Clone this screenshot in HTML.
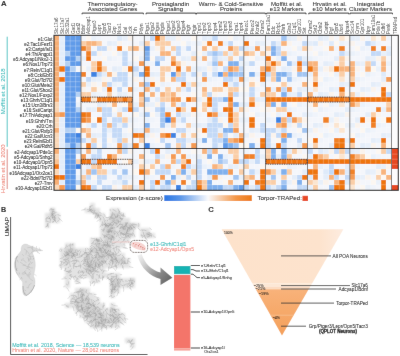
<!DOCTYPE html><html><head><meta charset="utf-8"><style>html,body{margin:0;padding:0;background:#fff;width:400px;height:356px;overflow:hidden}svg{display:block}text{font-family:"Liberation Sans",sans-serif;fill:#1c1c1c;stroke:#1c1c1c;stroke-width:0.06px}</style></head><body>
<svg width="400" height="356" viewBox="0 0 400 356" xmlns="http://www.w3.org/2000/svg" style="will-change:transform">
<defs><linearGradient id="leg" x1="0" x2="1" y1="0" y2="0"><stop offset="0" stop-color="rgb(42,118,228)"/><stop offset="0.18" stop-color="rgb(90,150,232)"/><stop offset="0.5" stop-color="rgb(250,250,252)"/><stop offset="0.82" stop-color="rgb(244,150,70)"/><stop offset="1" stop-color="rgb(238,122,22)"/></linearGradient><linearGradient id="arr" gradientUnits="userSpaceOnUse" x1="138" y1="254" x2="168" y2="280"><stop offset="0" stop-color="#f6f6f6"/><stop offset="0.3" stop-color="#d0d0d0"/><stop offset="0.7" stop-color="#8c8c8c"/><stop offset="1" stop-color="#6c6c6c"/></linearGradient><linearGradient id="tri" x1="0" x2="0" y1="0" y2="1"><stop offset="0" stop-color="#fce3cc"/><stop offset="1" stop-color="#fad7b8"/></linearGradient><filter id="ublur" x="-10%" y="-10%" width="120%" height="120%"><feGaussianBlur stdDeviation="1.1"/></filter><filter id="ublur2" x="-10%" y="-10%" width="120%" height="120%"><feGaussianBlur stdDeviation="0.4"/></filter><filter id="gblur" x="0" y="0" width="400" height="356" filterUnits="userSpaceOnUse"><feConvolveMatrix order="3" kernelMatrix="0.005 0.045 0.005 0.045 0.8 0.045 0.005 0.045 0.005" edgeMode="duplicate" preserveAlpha="true"/></filter></defs>
<g filter="url(#gblur)"><rect width="400" height="356" fill="#fff"/>
<text x="0.9" y="6.1" font-size="7.8" font-weight="bold" style="fill:#111;stroke:#111">A</text>
<text x="112.6" y="5.6" font-size="6.1" text-anchor="middle">Thermoregulatory-</text>
<text x="112.6" y="11.0" font-size="6.1" text-anchor="middle">Associated Genes</text>
<path d="M82.1 14.3 V13.1 H143.4 V14.3" fill="none" stroke="#111" stroke-width="0.85"/>
<text x="170.6" y="5.6" font-size="6.1" text-anchor="middle">Prostaglandin</text>
<text x="170.6" y="11.0" font-size="6.1" text-anchor="middle">Signaling</text>
<path d="M146.1 14.3 V13.1 H195.7 V14.3" fill="none" stroke="#111" stroke-width="0.85"/>
<text x="231.1" y="5.6" font-size="6.1" text-anchor="middle">Warm- &amp; Cold-Sensitive</text>
<text x="231.1" y="11.0" font-size="6.1" text-anchor="middle">Proteins</text>
<path d="M196.5 14.3 V13.1 H265.4 V14.3" fill="none" stroke="#111" stroke-width="0.85"/>
<text x="286.7" y="5.6" font-size="6.1" text-anchor="middle">Moffitt et al.</text>
<text x="286.7" y="11.0" font-size="6.1" text-anchor="middle">e13 Markers</text>
<path d="M266.6 14.3 V13.1 H306.0 V14.3" fill="none" stroke="#111" stroke-width="0.85"/>
<text x="329.5" y="5.6" font-size="6.1" text-anchor="middle">Hrvatin et al.</text>
<text x="329.5" y="11.0" font-size="6.1" text-anchor="middle">e10 Markers</text>
<path d="M308.8 14.3 V13.1 H348.8 V14.3" fill="none" stroke="#111" stroke-width="0.85"/>
<text x="370.5" y="5.6" font-size="6.1" text-anchor="middle">Integrated</text>
<text x="370.5" y="11.0" font-size="6.1" text-anchor="middle">Cluster Markers</text>
<path d="M350.0 14.3 V13.1 H392.5 V14.3" fill="none" stroke="#111" stroke-width="0.85"/>
<text transform="translate(58.30 34.0) rotate(-90)" font-size="4.6" style="fill:#3c3c3c;stroke:none">Slc17a6</text>
<text transform="translate(63.70 34.0) rotate(-90)" font-size="4.6" style="fill:#3c3c3c;stroke:none">Slc17a7</text>
<text transform="translate(69.10 34.0) rotate(-90)" font-size="4.6" style="fill:#3c3c3c;stroke:none">Slc32a1</text>
<text transform="translate(74.50 34.0) rotate(-90)" font-size="4.6" style="fill:#3c3c3c;stroke:none">Gad1</text>
<text transform="translate(79.90 34.0) rotate(-90)" font-size="4.6" style="fill:#3c3c3c;stroke:none">Gad2</text>
<text transform="translate(85.18 34.0) rotate(-90)" font-size="4.6" style="fill:#3c3c3c;stroke:none">Bdnf</text>
<text transform="translate(90.35 34.0) rotate(-90)" font-size="4.6" style="fill:#3c3c3c;stroke:none">Adcyap1</text>
<text transform="translate(95.52 34.0) rotate(-90)" font-size="4.6" style="fill:#3c3c3c;stroke:none">Ptger3</text>
<text transform="translate(100.69 34.0) rotate(-90)" font-size="4.6" style="fill:#3c3c3c;stroke:none">Lepr</text>
<text transform="translate(105.86 34.0) rotate(-90)" font-size="4.6" style="fill:#3c3c3c;stroke:none">Opn5</text>
<text transform="translate(111.03 34.0) rotate(-90)" font-size="4.6" style="fill:#3c3c3c;stroke:none">Tacr3</text>
<text transform="translate(116.20 34.0) rotate(-90)" font-size="4.6" style="fill:#3c3c3c;stroke:none">Grp</text>
<text transform="translate(121.37 34.0) rotate(-90)" font-size="4.6" style="fill:#3c3c3c;stroke:none">Nos1</text>
<text transform="translate(126.54 34.0) rotate(-90)" font-size="4.6" style="fill:#3c3c3c;stroke:none">Gal</text>
<text transform="translate(131.71 34.0) rotate(-90)" font-size="4.6" style="fill:#3c3c3c;stroke:none">Cck</text>
<text transform="translate(137.22 34.0) rotate(-90)" font-size="4.6" style="fill:#3c3c3c;stroke:none">Trh</text>
<text transform="translate(143.07 34.0) rotate(-90)" font-size="4.6" style="fill:#3c3c3c;stroke:none">Pdyn</text>
<text transform="translate(148.61 34.0) rotate(-90)" font-size="4.6" style="fill:#3c3c3c;stroke:none">Ptgs1</text>
<text transform="translate(153.84 34.0) rotate(-90)" font-size="4.6" style="fill:#3c3c3c;stroke:none">Ptgs2</text>
<text transform="translate(159.06 34.0) rotate(-90)" font-size="4.6" style="fill:#3c3c3c;stroke:none">Ptges</text>
<text transform="translate(164.29 34.0) rotate(-90)" font-size="4.6" style="fill:#3c3c3c;stroke:none">Ptgds</text>
<text transform="translate(169.51 34.0) rotate(-90)" font-size="4.6" style="fill:#3c3c3c;stroke:none">Ptger1</text>
<text transform="translate(174.74 34.0) rotate(-90)" font-size="4.6" style="fill:#3c3c3c;stroke:none">Ptger2</text>
<text transform="translate(179.96 34.0) rotate(-90)" font-size="4.6" style="fill:#3c3c3c;stroke:none">Ptger3</text>
<text transform="translate(185.19 34.0) rotate(-90)" font-size="4.6" style="fill:#3c3c3c;stroke:none">Ptger4</text>
<text transform="translate(190.41 34.0) rotate(-90)" font-size="4.6" style="fill:#3c3c3c;stroke:none">Ptgfr</text>
<text transform="translate(195.64 34.0) rotate(-90)" font-size="4.6" style="fill:#3c3c3c;stroke:none">Ptgir</text>
<text transform="translate(200.87 34.0) rotate(-90)" font-size="4.6" style="fill:#3c3c3c;stroke:none">Trpv1</text>
<text transform="translate(206.11 34.0) rotate(-90)" font-size="4.6" style="fill:#3c3c3c;stroke:none">Trpv2</text>
<text transform="translate(211.35 34.0) rotate(-90)" font-size="4.6" style="fill:#3c3c3c;stroke:none">Trpv3</text>
<text transform="translate(216.59 34.0) rotate(-90)" font-size="4.6" style="fill:#3c3c3c;stroke:none">Trpv4</text>
<text transform="translate(221.83 34.0) rotate(-90)" font-size="4.6" style="fill:#3c3c3c;stroke:none">Trpm2</text>
<text transform="translate(227.06 34.0) rotate(-90)" font-size="4.6" style="fill:#3c3c3c;stroke:none">Trpm3</text>
<text transform="translate(232.30 34.0) rotate(-90)" font-size="4.6" style="fill:#3c3c3c;stroke:none">Trpm8</text>
<text transform="translate(237.54 34.0) rotate(-90)" font-size="4.6" style="fill:#3c3c3c;stroke:none">Trpa1</text>
<text transform="translate(242.78 34.0) rotate(-90)" font-size="4.6" style="fill:#3c3c3c;stroke:none">Trpc4</text>
<text transform="translate(248.11 34.0) rotate(-90)" font-size="4.6" style="fill:#3c3c3c;stroke:none">Piezo1</text>
<text transform="translate(253.54 34.0) rotate(-90)" font-size="4.6" style="fill:#3c3c3c;stroke:none">Piezo2</text>
<text transform="translate(258.96 34.0) rotate(-90)" font-size="4.6" style="fill:#3c3c3c;stroke:none">Kcnk2</text>
<text transform="translate(264.39 34.0) rotate(-90)" font-size="4.6" style="fill:#3c3c3c;stroke:none">Chrm2</text>
<text transform="translate(269.73 34.0) rotate(-90)" font-size="4.6" style="fill:#3c3c3c;stroke:none">Fam19a1</text>
<text transform="translate(274.98 34.0) rotate(-90)" font-size="4.6" style="fill:#3c3c3c;stroke:none">Ddc</text>
<text transform="translate(280.23 34.0) rotate(-90)" font-size="4.6" style="fill:#3c3c3c;stroke:none">Rxfp1</text>
<text transform="translate(285.48 34.0) rotate(-90)" font-size="4.6" style="fill:#3c3c3c;stroke:none">Ghrh</text>
<text transform="translate(290.73 34.0) rotate(-90)" font-size="4.6" style="fill:#3c3c3c;stroke:none">Glra3</text>
<text transform="translate(295.98 34.0) rotate(-90)" font-size="4.6" style="fill:#3c3c3c;stroke:none">C1ql1</text>
<text transform="translate(301.23 34.0) rotate(-90)" font-size="4.6" style="fill:#3c3c3c;stroke:none">Gpr101</text>
<text transform="translate(306.48 34.0) rotate(-90)" font-size="4.6" style="fill:#3c3c3c;stroke:none">Sst</text>
<text transform="translate(311.74 34.0) rotate(-90)" font-size="4.6" style="fill:#3c3c3c;stroke:none">Chrm2</text>
<text transform="translate(317.03 34.0) rotate(-90)" font-size="4.6" style="fill:#3c3c3c;stroke:none">Syt2</text>
<text transform="translate(322.32 34.0) rotate(-90)" font-size="4.6" style="fill:#3c3c3c;stroke:none">Cbln2</text>
<text transform="translate(327.61 34.0) rotate(-90)" font-size="4.6" style="fill:#3c3c3c;stroke:none">Cartpt</text>
<text transform="translate(332.89 34.0) rotate(-90)" font-size="4.6" style="fill:#3c3c3c;stroke:none">Pgf</text>
<text transform="translate(338.18 34.0) rotate(-90)" font-size="4.6" style="fill:#3c3c3c;stroke:none">Opn5</text>
<text transform="translate(343.47 34.0) rotate(-90)" font-size="4.6" style="fill:#3c3c3c;stroke:none">Lhx6</text>
<text transform="translate(348.76 34.0) rotate(-90)" font-size="4.6" style="fill:#3c3c3c;stroke:none">Npas4</text>
<text transform="translate(354.01 34.0) rotate(-90)" font-size="4.6" style="fill:#3c3c3c;stroke:none">Sox14</text>
<text transform="translate(359.22 34.0) rotate(-90)" font-size="4.6" style="fill:#3c3c3c;stroke:none">Crym</text>
<text transform="translate(364.43 34.0) rotate(-90)" font-size="4.6" style="fill:#3c3c3c;stroke:none">Gpr101</text>
<text transform="translate(369.64 34.0) rotate(-90)" font-size="4.6" style="fill:#3c3c3c;stroke:none">Npy</text>
<text transform="translate(374.86 34.0) rotate(-90)" font-size="4.6" style="fill:#3c3c3c;stroke:none">Fam19a1</text>
<text transform="translate(380.07 34.0) rotate(-90)" font-size="4.6" style="fill:#3c3c3c;stroke:none">Pde7b</text>
<text transform="translate(385.28 34.0) rotate(-90)" font-size="4.6" style="fill:#3c3c3c;stroke:none">Cdh6</text>
<text transform="translate(390.49 34.0) rotate(-90)" font-size="4.6" style="fill:#3c3c3c;stroke:none">Penk</text>
<text transform="translate(396.50 34.0) rotate(-90)" font-size="4.6" style="fill:#3c3c3c;stroke:none">TRAPed</text>
<text x="52.6" y="40.95" font-size="4.5" text-anchor="end">e1:Glut</text>
<text x="52.6" y="46.05" font-size="4.5" text-anchor="end">e2:Tac1/Fezf1</text>
<text x="52.6" y="51.15" font-size="4.5" text-anchor="end">e3:Cartpt/Isl1</text>
<text x="52.6" y="56.25" font-size="4.5" text-anchor="end">e4:Th/Angpt1</text>
<text x="52.6" y="61.35" font-size="4.5" text-anchor="end">e5:Adcyap1/Nkx2-1</text>
<text x="52.6" y="66.45" font-size="4.5" text-anchor="end">e6:Nos1/Trp73</text>
<text x="52.6" y="71.55" font-size="4.5" text-anchor="end">e7:Reln/C1ql1</text>
<text x="52.6" y="76.65" font-size="4.5" text-anchor="end">e8:Cck/Ebf3</text>
<text x="52.6" y="81.75" font-size="4.5" text-anchor="end">e9:Glut/Tcf7l2</text>
<text x="52.6" y="86.85" font-size="4.5" text-anchor="end">e10:Glut/Meis2</text>
<text x="52.6" y="91.95" font-size="4.5" text-anchor="end">e11:Glut/Shox2</text>
<text x="52.6" y="97.05" font-size="4.5" text-anchor="end">e12:Nos1/Foxp2</text>
<text x="52.6" y="102.15" font-size="4.5" text-anchor="end">e13:Ghrh/C1ql1</text>
<text x="52.6" y="107.25" font-size="4.5" text-anchor="end">e15:Ucn3/Brs3</text>
<text x="52.6" y="112.35" font-size="4.5" text-anchor="end">e16:Sst/Cartpt</text>
<text x="52.6" y="117.45" font-size="4.5" text-anchor="end">e17:Th/Adcyap1</text>
<text x="52.6" y="122.55" font-size="4.5" text-anchor="end">e19:Ghrh/Tm</text>
<text x="52.6" y="127.65" font-size="4.5" text-anchor="end">e20:Crh</text>
<text x="52.6" y="132.75" font-size="4.5" text-anchor="end">e21:Glut/Rxfp3</text>
<text x="52.6" y="137.85" font-size="4.5" text-anchor="end">e22:Gal/Ucn3</text>
<text x="52.6" y="142.95" font-size="4.5" text-anchor="end">e23:Reln/Ebf1</text>
<text x="52.6" y="148.05" font-size="4.5" text-anchor="end">e24:Gal/Rdh5</text>
<text x="52.6" y="154.15" font-size="4.5" text-anchor="end">e2-Adcyap1/Pde1c</text>
<text x="52.6" y="159.25" font-size="4.5" text-anchor="end">e5-Adcyap1/Snhg2</text>
<text x="52.6" y="164.35" font-size="4.5" text-anchor="end">e10-Adcyap1/Opn5</text>
<text x="52.6" y="169.45" font-size="4.5" text-anchor="end">e11-Adcyap1/Trp73</text>
<text x="52.6" y="174.55" font-size="4.5" text-anchor="end">e16Adcyap1/Otx2os1</text>
<text x="52.6" y="179.65" font-size="4.5" text-anchor="end">e22-Bdnf/Tcf7l2</text>
<text x="52.6" y="184.75" font-size="4.5" text-anchor="end">e27-Tmv</text>
<text x="52.6" y="189.85" font-size="4.5" text-anchor="end">e30-Adcyap1/Ebf1</text>
<line x1="7.2" y1="36.7" x2="7.2" y2="146.8" stroke="#2bb5b5" stroke-width="0.8"/>
<line x1="7.2" y1="149.3" x2="7.2" y2="189" stroke="#d77f78" stroke-width="0.9"/>
<text transform="translate(5.0 91.4) rotate(-90)" font-size="6" text-anchor="middle" style="fill:#2bb5b5;stroke:#2bb5b5">Moffitt et al. 2018</text>
<text transform="translate(5.0 168.8) rotate(-90)" font-size="6" text-anchor="middle" style="fill:#ec7a6c;stroke:#ec7a6c">Hrvatin et al. 2020</text>
<g shape-rendering="crispEdges">
<rect x="54" y="35.3" width="344.3" height="155.0" fill="rgb(244,246,251)"/>
<rect x="54.00" y="35.80" width="5.45" height="5.15" fill="rgb(247,175,117)"/>
<rect x="59.40" y="35.80" width="5.45" height="5.15" fill="rgb(227,237,250)"/>
<rect x="64.80" y="35.80" width="5.45" height="5.15" fill="rgb(97,155,233)"/>
<rect x="70.20" y="35.80" width="5.45" height="5.15" fill="rgb(97,155,233)"/>
<rect x="75.60" y="35.80" width="5.45" height="5.15" fill="rgb(97,155,233)"/>
<rect x="54.00" y="40.90" width="5.45" height="5.15" fill="rgb(247,175,117)"/>
<rect x="59.40" y="40.90" width="5.45" height="5.15" fill="rgb(227,237,250)"/>
<rect x="64.80" y="40.90" width="5.45" height="5.15" fill="rgb(97,155,233)"/>
<rect x="70.20" y="40.90" width="5.45" height="5.15" fill="rgb(97,155,233)"/>
<rect x="75.60" y="40.90" width="5.45" height="5.15" fill="rgb(97,155,233)"/>
<rect x="54.00" y="46.00" width="5.45" height="5.15" fill="rgb(247,175,117)"/>
<rect x="59.40" y="46.00" width="5.45" height="5.15" fill="rgb(227,237,250)"/>
<rect x="64.80" y="46.00" width="5.45" height="5.15" fill="rgb(97,155,233)"/>
<rect x="70.20" y="46.00" width="5.45" height="5.15" fill="rgb(97,155,233)"/>
<rect x="75.60" y="46.00" width="5.45" height="5.15" fill="rgb(97,155,233)"/>
<rect x="54.00" y="51.10" width="5.45" height="5.15" fill="rgb(247,175,117)"/>
<rect x="59.40" y="51.10" width="5.45" height="5.15" fill="rgb(227,237,250)"/>
<rect x="64.80" y="51.10" width="5.45" height="5.15" fill="rgb(179,208,244)"/>
<rect x="70.20" y="51.10" width="5.45" height="5.15" fill="rgb(97,155,233)"/>
<rect x="75.60" y="51.10" width="5.45" height="5.15" fill="rgb(97,155,233)"/>
<rect x="54.00" y="56.20" width="5.45" height="5.15" fill="rgb(247,175,117)"/>
<rect x="59.40" y="56.20" width="5.45" height="5.15" fill="rgb(227,237,250)"/>
<rect x="64.80" y="56.20" width="5.45" height="5.15" fill="rgb(97,155,233)"/>
<rect x="70.20" y="56.20" width="5.45" height="5.15" fill="rgb(97,155,233)"/>
<rect x="75.60" y="56.20" width="5.45" height="5.15" fill="rgb(179,208,244)"/>
<rect x="54.00" y="61.30" width="5.45" height="5.15" fill="rgb(247,175,117)"/>
<rect x="59.40" y="61.30" width="5.45" height="5.15" fill="rgb(227,237,250)"/>
<rect x="64.80" y="61.30" width="5.45" height="5.15" fill="rgb(179,208,244)"/>
<rect x="70.20" y="61.30" width="5.45" height="5.15" fill="rgb(97,155,233)"/>
<rect x="75.60" y="61.30" width="5.45" height="5.15" fill="rgb(97,155,233)"/>
<rect x="54.00" y="66.40" width="5.45" height="5.15" fill="rgb(247,175,117)"/>
<rect x="59.40" y="66.40" width="5.45" height="5.15" fill="rgb(238,116,16)"/>
<rect x="64.80" y="66.40" width="5.45" height="5.15" fill="rgb(97,155,233)"/>
<rect x="70.20" y="66.40" width="5.45" height="5.15" fill="rgb(179,208,244)"/>
<rect x="54.00" y="71.50" width="5.45" height="5.15" fill="rgb(247,175,117)"/>
<rect x="59.40" y="71.50" width="5.45" height="5.15" fill="rgb(227,237,250)"/>
<rect x="64.80" y="71.50" width="5.45" height="5.15" fill="rgb(97,155,233)"/>
<rect x="70.20" y="71.50" width="5.45" height="5.15" fill="rgb(97,155,233)"/>
<rect x="75.60" y="71.50" width="5.45" height="5.15" fill="rgb(97,155,233)"/>
<rect x="54.00" y="76.60" width="5.45" height="5.15" fill="rgb(247,175,117)"/>
<rect x="59.40" y="76.60" width="5.45" height="5.15" fill="rgb(238,116,16)"/>
<rect x="64.80" y="76.60" width="5.45" height="5.15" fill="rgb(97,155,233)"/>
<rect x="70.20" y="76.60" width="5.45" height="5.15" fill="rgb(97,155,233)"/>
<rect x="75.60" y="76.60" width="5.45" height="5.15" fill="rgb(97,155,233)"/>
<rect x="54.00" y="81.70" width="5.45" height="5.15" fill="rgb(247,175,117)"/>
<rect x="59.40" y="81.70" width="5.45" height="5.15" fill="rgb(227,237,250)"/>
<rect x="64.80" y="81.70" width="5.45" height="5.15" fill="rgb(97,155,233)"/>
<rect x="70.20" y="81.70" width="5.45" height="5.15" fill="rgb(97,155,233)"/>
<rect x="75.60" y="81.70" width="5.45" height="5.15" fill="rgb(97,155,233)"/>
<rect x="54.00" y="86.80" width="5.45" height="5.15" fill="rgb(247,175,117)"/>
<rect x="59.40" y="86.80" width="5.45" height="5.15" fill="rgb(227,237,250)"/>
<rect x="64.80" y="86.80" width="5.45" height="5.15" fill="rgb(97,155,233)"/>
<rect x="70.20" y="86.80" width="5.45" height="5.15" fill="rgb(97,155,233)"/>
<rect x="75.60" y="86.80" width="5.45" height="5.15" fill="rgb(97,155,233)"/>
<rect x="54.00" y="91.90" width="5.45" height="5.15" fill="rgb(247,175,117)"/>
<rect x="59.40" y="91.90" width="5.45" height="5.15" fill="rgb(227,237,250)"/>
<rect x="64.80" y="91.90" width="5.45" height="5.15" fill="rgb(97,155,233)"/>
<rect x="70.20" y="91.90" width="5.45" height="5.15" fill="rgb(97,155,233)"/>
<rect x="75.60" y="91.90" width="5.45" height="5.15" fill="rgb(179,208,244)"/>
<rect x="54.00" y="97.00" width="5.45" height="5.15" fill="rgb(247,175,117)"/>
<rect x="59.40" y="97.00" width="5.45" height="5.15" fill="rgb(227,237,250)"/>
<rect x="64.80" y="97.00" width="5.45" height="5.15" fill="rgb(97,155,233)"/>
<rect x="70.20" y="97.00" width="5.45" height="5.15" fill="rgb(97,155,233)"/>
<rect x="54.00" y="102.10" width="5.45" height="5.15" fill="rgb(251,216,183)"/>
<rect x="59.40" y="102.10" width="5.45" height="5.15" fill="rgb(227,237,250)"/>
<rect x="64.80" y="102.10" width="5.45" height="5.15" fill="rgb(97,155,233)"/>
<rect x="70.20" y="102.10" width="5.45" height="5.15" fill="rgb(97,155,233)"/>
<rect x="75.60" y="102.10" width="5.45" height="5.15" fill="rgb(234,241,250)"/>
<rect x="54.00" y="107.20" width="5.45" height="5.15" fill="rgb(251,216,183)"/>
<rect x="59.40" y="107.20" width="5.45" height="5.15" fill="rgb(227,237,250)"/>
<rect x="64.80" y="107.20" width="5.45" height="5.15" fill="rgb(97,155,233)"/>
<rect x="70.20" y="107.20" width="5.45" height="5.15" fill="rgb(97,155,233)"/>
<rect x="75.60" y="107.20" width="5.45" height="5.15" fill="rgb(179,208,244)"/>
<rect x="54.00" y="112.30" width="5.45" height="5.15" fill="rgb(247,175,117)"/>
<rect x="59.40" y="112.30" width="5.45" height="5.15" fill="rgb(244,154,82)"/>
<rect x="64.80" y="112.30" width="5.45" height="5.15" fill="rgb(97,155,233)"/>
<rect x="70.20" y="112.30" width="5.45" height="5.15" fill="rgb(97,155,233)"/>
<rect x="75.60" y="112.30" width="5.45" height="5.15" fill="rgb(97,155,233)"/>
<rect x="54.00" y="117.40" width="5.45" height="5.15" fill="rgb(251,216,183)"/>
<rect x="59.40" y="117.40" width="5.45" height="5.15" fill="rgb(227,237,250)"/>
<rect x="64.80" y="117.40" width="5.45" height="5.15" fill="rgb(97,155,233)"/>
<rect x="70.20" y="117.40" width="5.45" height="5.15" fill="rgb(97,155,233)"/>
<rect x="75.60" y="117.40" width="5.45" height="5.15" fill="rgb(97,155,233)"/>
<rect x="54.00" y="122.50" width="5.45" height="5.15" fill="rgb(251,216,183)"/>
<rect x="59.40" y="122.50" width="5.45" height="5.15" fill="rgb(227,237,250)"/>
<rect x="64.80" y="122.50" width="5.45" height="5.15" fill="rgb(97,155,233)"/>
<rect x="70.20" y="122.50" width="5.45" height="5.15" fill="rgb(97,155,233)"/>
<rect x="75.60" y="122.50" width="5.45" height="5.15" fill="rgb(97,155,233)"/>
<rect x="54.00" y="127.60" width="5.45" height="5.15" fill="rgb(247,175,117)"/>
<rect x="59.40" y="127.60" width="5.45" height="5.15" fill="rgb(227,237,250)"/>
<rect x="64.80" y="127.60" width="5.45" height="5.15" fill="rgb(179,208,244)"/>
<rect x="70.20" y="127.60" width="5.45" height="5.15" fill="rgb(179,208,244)"/>
<rect x="75.60" y="127.60" width="5.45" height="5.15" fill="rgb(252,247,242)"/>
<rect x="54.00" y="132.70" width="5.45" height="5.15" fill="rgb(251,216,183)"/>
<rect x="59.40" y="132.70" width="5.45" height="5.15" fill="rgb(227,237,250)"/>
<rect x="64.80" y="132.70" width="5.45" height="5.15" fill="rgb(97,155,233)"/>
<rect x="70.20" y="132.70" width="5.45" height="5.15" fill="rgb(97,155,233)"/>
<rect x="75.60" y="132.70" width="5.45" height="5.15" fill="rgb(62,130,226)"/>
<rect x="54.00" y="137.80" width="5.45" height="5.15" fill="rgb(251,216,183)"/>
<rect x="59.40" y="137.80" width="5.45" height="5.15" fill="rgb(227,237,250)"/>
<rect x="64.80" y="137.80" width="5.45" height="5.15" fill="rgb(97,155,233)"/>
<rect x="70.20" y="137.80" width="5.45" height="5.15" fill="rgb(97,155,233)"/>
<rect x="75.60" y="137.80" width="5.45" height="5.15" fill="rgb(97,155,233)"/>
<rect x="54.00" y="142.90" width="5.45" height="5.15" fill="rgb(251,216,183)"/>
<rect x="59.40" y="142.90" width="5.45" height="5.15" fill="rgb(227,237,250)"/>
<rect x="64.80" y="142.90" width="5.45" height="5.15" fill="rgb(179,208,244)"/>
<rect x="70.20" y="142.90" width="5.45" height="5.15" fill="rgb(97,155,233)"/>
<rect x="75.60" y="142.90" width="5.45" height="5.15" fill="rgb(179,208,244)"/>
<rect x="54.00" y="149.00" width="5.45" height="5.15" fill="rgb(247,175,117)"/>
<rect x="59.40" y="149.00" width="5.45" height="5.15" fill="rgb(227,237,250)"/>
<rect x="64.80" y="149.00" width="5.45" height="5.15" fill="rgb(97,155,233)"/>
<rect x="70.20" y="149.00" width="5.45" height="5.15" fill="rgb(97,155,233)"/>
<rect x="75.60" y="149.00" width="5.45" height="5.15" fill="rgb(179,208,244)"/>
<rect x="54.00" y="154.10" width="5.45" height="5.15" fill="rgb(251,216,183)"/>
<rect x="59.40" y="154.10" width="5.45" height="5.15" fill="rgb(227,237,250)"/>
<rect x="64.80" y="154.10" width="5.45" height="5.15" fill="rgb(97,155,233)"/>
<rect x="70.20" y="154.10" width="5.45" height="5.15" fill="rgb(97,155,233)"/>
<rect x="54.00" y="159.20" width="5.45" height="5.15" fill="rgb(249,196,150)"/>
<rect x="59.40" y="159.20" width="5.45" height="5.15" fill="rgb(227,237,250)"/>
<rect x="64.80" y="159.20" width="5.45" height="5.15" fill="rgb(97,155,233)"/>
<rect x="70.20" y="159.20" width="5.45" height="5.15" fill="rgb(97,155,233)"/>
<rect x="75.60" y="159.20" width="5.45" height="5.15" fill="rgb(250,206,167)"/>
<rect x="54.00" y="164.30" width="5.45" height="5.15" fill="rgb(238,116,16)"/>
<rect x="59.40" y="164.30" width="5.45" height="5.15" fill="rgb(227,237,250)"/>
<rect x="64.80" y="164.30" width="5.45" height="5.15" fill="rgb(97,155,233)"/>
<rect x="70.20" y="164.30" width="5.45" height="5.15" fill="rgb(97,155,233)"/>
<rect x="75.60" y="164.30" width="5.45" height="5.15" fill="rgb(62,130,226)"/>
<rect x="54.00" y="169.40" width="5.45" height="5.15" fill="rgb(251,216,183)"/>
<rect x="59.40" y="169.40" width="5.45" height="5.15" fill="rgb(227,237,250)"/>
<rect x="64.80" y="169.40" width="5.45" height="5.15" fill="rgb(97,155,233)"/>
<rect x="70.20" y="169.40" width="5.45" height="5.15" fill="rgb(97,155,233)"/>
<rect x="54.00" y="174.50" width="5.45" height="5.15" fill="rgb(238,116,16)"/>
<rect x="59.40" y="174.50" width="5.45" height="5.15" fill="rgb(238,116,16)"/>
<rect x="64.80" y="174.50" width="5.45" height="5.15" fill="rgb(97,155,233)"/>
<rect x="70.20" y="174.50" width="5.45" height="5.15" fill="rgb(97,155,233)"/>
<rect x="75.60" y="174.50" width="5.45" height="5.15" fill="rgb(232,240,250)"/>
<rect x="54.00" y="179.60" width="5.45" height="5.15" fill="rgb(247,175,117)"/>
<rect x="59.40" y="179.60" width="5.45" height="5.15" fill="rgb(227,237,250)"/>
<rect x="64.80" y="179.60" width="5.45" height="5.15" fill="rgb(97,155,233)"/>
<rect x="70.20" y="179.60" width="5.45" height="5.15" fill="rgb(97,155,233)"/>
<rect x="75.60" y="179.60" width="5.45" height="5.15" fill="rgb(179,208,244)"/>
<rect x="54.00" y="184.70" width="5.45" height="5.15" fill="rgb(251,216,183)"/>
<rect x="59.40" y="184.70" width="5.45" height="5.15" fill="rgb(244,154,82)"/>
<rect x="64.80" y="184.70" width="5.45" height="5.15" fill="rgb(97,155,233)"/>
<rect x="70.20" y="184.70" width="5.45" height="5.15" fill="rgb(97,155,233)"/>
<rect x="75.60" y="184.70" width="5.45" height="5.15" fill="rgb(252,247,242)"/>
<rect x="86.17" y="35.80" width="5.22" height="5.15" fill="rgb(252,247,242)"/>
<rect x="91.34" y="35.80" width="5.22" height="5.15" fill="rgb(234,241,250)"/>
<rect x="96.51" y="35.80" width="5.22" height="5.15" fill="rgb(240,244,251)"/>
<rect x="117.19" y="35.80" width="5.22" height="5.15" fill="rgb(222,234,250)"/>
<rect x="122.36" y="35.80" width="5.22" height="5.15" fill="rgb(232,240,250)"/>
<rect x="127.53" y="35.80" width="5.22" height="5.15" fill="rgb(250,243,237)"/>
<rect x="81.00" y="40.90" width="5.22" height="5.15" fill="rgb(250,206,167)"/>
<rect x="86.17" y="40.90" width="5.22" height="5.15" fill="rgb(248,180,125)"/>
<rect x="91.34" y="40.90" width="5.22" height="5.15" fill="rgb(248,180,125)"/>
<rect x="96.51" y="40.90" width="5.22" height="5.15" fill="rgb(250,206,167)"/>
<rect x="106.85" y="40.90" width="5.22" height="5.15" fill="rgb(228,237,249)"/>
<rect x="112.02" y="40.90" width="5.22" height="5.15" fill="rgb(232,240,250)"/>
<rect x="117.19" y="40.90" width="5.22" height="5.15" fill="rgb(250,243,237)"/>
<rect x="81.00" y="46.00" width="5.22" height="5.15" fill="rgb(240,129,40)"/>
<rect x="86.17" y="46.00" width="5.22" height="5.15" fill="rgb(248,180,125)"/>
<rect x="96.51" y="46.00" width="5.22" height="5.15" fill="rgb(195,217,247)"/>
<rect x="101.68" y="46.00" width="5.22" height="5.15" fill="rgb(195,217,247)"/>
<rect x="106.85" y="46.00" width="5.22" height="5.15" fill="rgb(250,243,237)"/>
<rect x="117.19" y="46.00" width="5.22" height="5.15" fill="rgb(240,129,40)"/>
<rect x="122.36" y="46.00" width="5.22" height="5.15" fill="rgb(252,247,242)"/>
<rect x="127.53" y="46.00" width="5.22" height="5.15" fill="rgb(250,206,167)"/>
<rect x="86.17" y="51.10" width="5.22" height="5.15" fill="rgb(240,129,40)"/>
<rect x="91.34" y="51.10" width="5.22" height="5.15" fill="rgb(195,217,247)"/>
<rect x="96.51" y="51.10" width="5.22" height="5.15" fill="rgb(250,243,237)"/>
<rect x="112.02" y="51.10" width="5.22" height="5.15" fill="rgb(252,247,242)"/>
<rect x="117.19" y="51.10" width="5.22" height="5.15" fill="rgb(234,241,250)"/>
<rect x="122.36" y="51.10" width="5.22" height="5.15" fill="rgb(195,217,247)"/>
<rect x="81.00" y="56.20" width="5.22" height="5.15" fill="rgb(232,240,250)"/>
<rect x="86.17" y="56.20" width="5.22" height="5.15" fill="rgb(238,116,16)"/>
<rect x="101.68" y="56.20" width="5.22" height="5.15" fill="rgb(252,247,242)"/>
<rect x="106.85" y="56.20" width="5.22" height="5.15" fill="rgb(234,241,250)"/>
<rect x="112.02" y="56.20" width="5.22" height="5.15" fill="rgb(240,244,251)"/>
<rect x="122.36" y="56.20" width="5.22" height="5.15" fill="rgb(195,217,247)"/>
<rect x="91.34" y="61.30" width="5.22" height="5.15" fill="rgb(250,206,167)"/>
<rect x="96.51" y="61.30" width="5.22" height="5.15" fill="rgb(240,129,40)"/>
<rect x="101.68" y="61.30" width="5.22" height="5.15" fill="rgb(240,244,251)"/>
<rect x="122.36" y="61.30" width="5.22" height="5.15" fill="rgb(195,217,247)"/>
<rect x="127.53" y="61.30" width="5.22" height="5.15" fill="rgb(232,240,250)"/>
<rect x="81.00" y="66.40" width="5.22" height="5.15" fill="rgb(252,247,242)"/>
<rect x="86.17" y="66.40" width="5.22" height="5.15" fill="rgb(234,241,250)"/>
<rect x="91.34" y="66.40" width="5.22" height="5.15" fill="rgb(250,206,167)"/>
<rect x="96.51" y="66.40" width="5.22" height="5.15" fill="rgb(238,116,16)"/>
<rect x="101.68" y="66.40" width="5.22" height="5.15" fill="rgb(250,206,167)"/>
<rect x="112.02" y="66.40" width="5.22" height="5.15" fill="rgb(228,237,249)"/>
<rect x="117.19" y="66.40" width="5.22" height="5.15" fill="rgb(232,240,250)"/>
<rect x="122.36" y="66.40" width="5.22" height="5.15" fill="rgb(250,243,237)"/>
<rect x="127.53" y="66.40" width="5.22" height="5.15" fill="rgb(240,129,40)"/>
<rect x="81.00" y="71.50" width="5.22" height="5.15" fill="rgb(240,129,40)"/>
<rect x="91.34" y="71.50" width="5.22" height="5.15" fill="rgb(62,130,226)"/>
<rect x="96.51" y="71.50" width="5.22" height="5.15" fill="rgb(195,217,247)"/>
<rect x="101.68" y="71.50" width="5.22" height="5.15" fill="rgb(228,237,249)"/>
<rect x="106.85" y="71.50" width="5.22" height="5.15" fill="rgb(248,180,125)"/>
<rect x="112.02" y="71.50" width="5.22" height="5.15" fill="rgb(250,243,237)"/>
<rect x="117.19" y="71.50" width="5.22" height="5.15" fill="rgb(195,217,247)"/>
<rect x="122.36" y="71.50" width="5.22" height="5.15" fill="rgb(195,217,247)"/>
<rect x="127.53" y="71.50" width="5.22" height="5.15" fill="rgb(252,247,242)"/>
<rect x="86.17" y="76.60" width="5.22" height="5.15" fill="rgb(195,217,247)"/>
<rect x="91.34" y="76.60" width="5.22" height="5.15" fill="rgb(228,237,249)"/>
<rect x="96.51" y="76.60" width="5.22" height="5.15" fill="rgb(232,240,250)"/>
<rect x="101.68" y="76.60" width="5.22" height="5.15" fill="rgb(250,243,237)"/>
<rect x="112.02" y="76.60" width="5.22" height="5.15" fill="rgb(195,217,247)"/>
<rect x="117.19" y="76.60" width="5.22" height="5.15" fill="rgb(195,217,247)"/>
<rect x="122.36" y="76.60" width="5.22" height="5.15" fill="rgb(195,217,247)"/>
<rect x="127.53" y="76.60" width="5.22" height="5.15" fill="rgb(240,244,251)"/>
<rect x="81.00" y="81.70" width="5.22" height="5.15" fill="rgb(250,206,167)"/>
<rect x="86.17" y="81.70" width="5.22" height="5.15" fill="rgb(232,240,250)"/>
<rect x="91.34" y="81.70" width="5.22" height="5.15" fill="rgb(250,243,237)"/>
<rect x="101.68" y="81.70" width="5.22" height="5.15" fill="rgb(250,206,167)"/>
<rect x="106.85" y="81.70" width="5.22" height="5.15" fill="rgb(195,217,247)"/>
<rect x="112.02" y="81.70" width="5.22" height="5.15" fill="rgb(234,241,250)"/>
<rect x="117.19" y="81.70" width="5.22" height="5.15" fill="rgb(240,244,251)"/>
<rect x="122.36" y="81.70" width="5.22" height="5.15" fill="rgb(195,217,247)"/>
<rect x="81.00" y="86.80" width="5.22" height="5.15" fill="rgb(250,243,237)"/>
<rect x="91.34" y="86.80" width="5.22" height="5.15" fill="rgb(250,206,167)"/>
<rect x="96.51" y="86.80" width="5.22" height="5.15" fill="rgb(252,247,242)"/>
<rect x="101.68" y="86.80" width="5.22" height="5.15" fill="rgb(234,241,250)"/>
<rect x="106.85" y="86.80" width="5.22" height="5.15" fill="rgb(238,116,16)"/>
<rect x="117.19" y="86.80" width="5.22" height="5.15" fill="rgb(195,217,247)"/>
<rect x="127.53" y="86.80" width="5.22" height="5.15" fill="rgb(244,154,82)"/>
<rect x="81.00" y="91.90" width="5.22" height="5.15" fill="rgb(250,206,167)"/>
<rect x="86.17" y="91.90" width="5.22" height="5.15" fill="rgb(250,206,167)"/>
<rect x="91.34" y="91.90" width="5.22" height="5.15" fill="rgb(234,241,250)"/>
<rect x="96.51" y="91.90" width="5.22" height="5.15" fill="rgb(240,244,251)"/>
<rect x="106.85" y="91.90" width="5.22" height="5.15" fill="rgb(250,206,167)"/>
<rect x="117.19" y="91.90" width="5.22" height="5.15" fill="rgb(228,237,249)"/>
<rect x="122.36" y="91.90" width="5.22" height="5.15" fill="rgb(232,240,250)"/>
<rect x="127.53" y="91.90" width="5.22" height="5.15" fill="rgb(250,243,237)"/>
<rect x="81.00" y="97.00" width="5.22" height="5.15" fill="rgb(238,116,16)"/>
<rect x="86.17" y="97.00" width="5.22" height="5.15" fill="rgb(238,116,16)"/>
<rect x="91.34" y="97.00" width="5.22" height="5.15" fill="rgb(251,229,208)"/>
<rect x="96.51" y="97.00" width="5.22" height="5.15" fill="rgb(238,116,16)"/>
<rect x="101.68" y="97.00" width="5.22" height="5.15" fill="rgb(238,116,16)"/>
<rect x="106.85" y="97.00" width="5.22" height="5.15" fill="rgb(238,116,16)"/>
<rect x="112.02" y="97.00" width="5.22" height="5.15" fill="rgb(238,116,16)"/>
<rect x="117.19" y="97.00" width="5.22" height="5.15" fill="rgb(244,154,82)"/>
<rect x="122.36" y="97.00" width="5.22" height="5.15" fill="rgb(238,116,16)"/>
<rect x="127.53" y="97.00" width="5.22" height="5.15" fill="rgb(244,154,82)"/>
<rect x="96.51" y="102.10" width="5.22" height="5.15" fill="rgb(228,237,249)"/>
<rect x="101.68" y="102.10" width="5.22" height="5.15" fill="rgb(232,240,250)"/>
<rect x="106.85" y="102.10" width="5.22" height="5.15" fill="rgb(250,243,237)"/>
<rect x="112.02" y="102.10" width="5.22" height="5.15" fill="rgb(248,180,125)"/>
<rect x="122.36" y="102.10" width="5.22" height="5.15" fill="rgb(252,247,242)"/>
<rect x="127.53" y="102.10" width="5.22" height="5.15" fill="rgb(244,154,82)"/>
<rect x="86.17" y="107.20" width="5.22" height="5.15" fill="rgb(228,237,249)"/>
<rect x="91.34" y="107.20" width="5.22" height="5.15" fill="rgb(232,240,250)"/>
<rect x="96.51" y="107.20" width="5.22" height="5.15" fill="rgb(248,180,125)"/>
<rect x="101.68" y="107.20" width="5.22" height="5.15" fill="rgb(195,217,247)"/>
<rect x="106.85" y="107.20" width="5.22" height="5.15" fill="rgb(195,217,247)"/>
<rect x="112.02" y="107.20" width="5.22" height="5.15" fill="rgb(252,247,242)"/>
<rect x="117.19" y="107.20" width="5.22" height="5.15" fill="rgb(234,241,250)"/>
<rect x="122.36" y="107.20" width="5.22" height="5.15" fill="rgb(195,217,247)"/>
<rect x="127.53" y="107.20" width="5.22" height="5.15" fill="rgb(238,116,16)"/>
<rect x="81.00" y="112.30" width="5.22" height="5.15" fill="rgb(238,116,16)"/>
<rect x="86.17" y="112.30" width="5.22" height="5.15" fill="rgb(240,129,40)"/>
<rect x="101.68" y="112.30" width="5.22" height="5.15" fill="rgb(195,217,247)"/>
<rect x="106.85" y="112.30" width="5.22" height="5.15" fill="rgb(195,217,247)"/>
<rect x="112.02" y="112.30" width="5.22" height="5.15" fill="rgb(240,244,251)"/>
<rect x="117.19" y="112.30" width="5.22" height="5.15" fill="rgb(250,206,167)"/>
<rect x="81.00" y="117.40" width="5.22" height="5.15" fill="rgb(240,129,40)"/>
<rect x="86.17" y="117.40" width="5.22" height="5.15" fill="rgb(244,154,82)"/>
<rect x="91.34" y="117.40" width="5.22" height="5.15" fill="rgb(252,247,242)"/>
<rect x="96.51" y="117.40" width="5.22" height="5.15" fill="rgb(238,116,16)"/>
<rect x="101.68" y="117.40" width="5.22" height="5.15" fill="rgb(195,217,247)"/>
<rect x="112.02" y="117.40" width="5.22" height="5.15" fill="rgb(195,217,247)"/>
<rect x="117.19" y="117.40" width="5.22" height="5.15" fill="rgb(195,217,247)"/>
<rect x="122.36" y="117.40" width="5.22" height="5.15" fill="rgb(250,206,167)"/>
<rect x="127.53" y="117.40" width="5.22" height="5.15" fill="rgb(232,240,250)"/>
<rect x="81.00" y="122.50" width="5.22" height="5.15" fill="rgb(252,247,242)"/>
<rect x="86.17" y="122.50" width="5.22" height="5.15" fill="rgb(234,241,250)"/>
<rect x="91.34" y="122.50" width="5.22" height="5.15" fill="rgb(195,217,247)"/>
<rect x="101.68" y="122.50" width="5.22" height="5.15" fill="rgb(195,217,247)"/>
<rect x="106.85" y="122.50" width="5.22" height="5.15" fill="rgb(248,180,125)"/>
<rect x="112.02" y="122.50" width="5.22" height="5.15" fill="rgb(195,217,247)"/>
<rect x="117.19" y="122.50" width="5.22" height="5.15" fill="rgb(232,240,250)"/>
<rect x="122.36" y="122.50" width="5.22" height="5.15" fill="rgb(195,217,247)"/>
<rect x="81.00" y="127.60" width="5.22" height="5.15" fill="rgb(248,180,125)"/>
<rect x="86.17" y="127.60" width="5.22" height="5.15" fill="rgb(250,206,167)"/>
<rect x="101.68" y="127.60" width="5.22" height="5.15" fill="rgb(195,217,247)"/>
<rect x="106.85" y="127.60" width="5.22" height="5.15" fill="rgb(232,240,250)"/>
<rect x="112.02" y="127.60" width="5.22" height="5.15" fill="rgb(195,217,247)"/>
<rect x="117.19" y="127.60" width="5.22" height="5.15" fill="rgb(195,217,247)"/>
<rect x="127.53" y="127.60" width="5.22" height="5.15" fill="rgb(252,247,242)"/>
<rect x="86.17" y="132.70" width="5.22" height="5.15" fill="rgb(248,180,125)"/>
<rect x="91.34" y="132.70" width="5.22" height="5.15" fill="rgb(228,237,249)"/>
<rect x="96.51" y="132.70" width="5.22" height="5.15" fill="rgb(232,240,250)"/>
<rect x="101.68" y="132.70" width="5.22" height="5.15" fill="rgb(195,217,247)"/>
<rect x="112.02" y="132.70" width="5.22" height="5.15" fill="rgb(195,217,247)"/>
<rect x="117.19" y="132.70" width="5.22" height="5.15" fill="rgb(195,217,247)"/>
<rect x="122.36" y="132.70" width="5.22" height="5.15" fill="rgb(234,241,250)"/>
<rect x="127.53" y="132.70" width="5.22" height="5.15" fill="rgb(240,244,251)"/>
<rect x="81.00" y="137.80" width="5.22" height="5.15" fill="rgb(195,217,247)"/>
<rect x="86.17" y="137.80" width="5.22" height="5.15" fill="rgb(232,240,250)"/>
<rect x="91.34" y="137.80" width="5.22" height="5.15" fill="rgb(250,206,167)"/>
<rect x="101.68" y="137.80" width="5.22" height="5.15" fill="rgb(195,217,247)"/>
<rect x="106.85" y="137.80" width="5.22" height="5.15" fill="rgb(252,247,242)"/>
<rect x="112.02" y="137.80" width="5.22" height="5.15" fill="rgb(234,241,250)"/>
<rect x="117.19" y="137.80" width="5.22" height="5.15" fill="rgb(195,217,247)"/>
<rect x="122.36" y="137.80" width="5.22" height="5.15" fill="rgb(250,206,167)"/>
<rect x="81.00" y="142.90" width="5.22" height="5.15" fill="rgb(250,243,237)"/>
<rect x="86.17" y="142.90" width="5.22" height="5.15" fill="rgb(240,129,40)"/>
<rect x="91.34" y="142.90" width="5.22" height="5.15" fill="rgb(195,217,247)"/>
<rect x="96.51" y="142.90" width="5.22" height="5.15" fill="rgb(252,247,242)"/>
<rect x="101.68" y="142.90" width="5.22" height="5.15" fill="rgb(195,217,247)"/>
<rect x="106.85" y="142.90" width="5.22" height="5.15" fill="rgb(240,244,251)"/>
<rect x="117.19" y="142.90" width="5.22" height="5.15" fill="rgb(244,154,82)"/>
<rect x="122.36" y="142.90" width="5.22" height="5.15" fill="rgb(195,217,247)"/>
<rect x="127.53" y="142.90" width="5.22" height="5.15" fill="rgb(228,237,249)"/>
<rect x="86.17" y="149.00" width="5.22" height="5.15" fill="rgb(248,180,125)"/>
<rect x="91.34" y="149.00" width="5.22" height="5.15" fill="rgb(234,241,250)"/>
<rect x="96.51" y="149.00" width="5.22" height="5.15" fill="rgb(195,217,247)"/>
<rect x="117.19" y="149.00" width="5.22" height="5.15" fill="rgb(248,180,125)"/>
<rect x="122.36" y="149.00" width="5.22" height="5.15" fill="rgb(195,217,247)"/>
<rect x="127.53" y="149.00" width="5.22" height="5.15" fill="rgb(250,243,237)"/>
<rect x="81.00" y="154.10" width="5.22" height="5.15" fill="rgb(244,154,82)"/>
<rect x="86.17" y="154.10" width="5.22" height="5.15" fill="rgb(240,244,251)"/>
<rect x="91.34" y="154.10" width="5.22" height="5.15" fill="rgb(195,217,247)"/>
<rect x="96.51" y="154.10" width="5.22" height="5.15" fill="rgb(195,217,247)"/>
<rect x="106.85" y="154.10" width="5.22" height="5.15" fill="rgb(240,129,40)"/>
<rect x="112.02" y="154.10" width="5.22" height="5.15" fill="rgb(248,180,125)"/>
<rect x="117.19" y="154.10" width="5.22" height="5.15" fill="rgb(250,243,237)"/>
<rect x="81.00" y="159.20" width="5.22" height="5.15" fill="rgb(238,116,16)"/>
<rect x="86.17" y="159.20" width="5.22" height="5.15" fill="rgb(238,116,16)"/>
<rect x="91.34" y="159.20" width="5.22" height="5.15" fill="rgb(195,217,247)"/>
<rect x="96.51" y="159.20" width="5.22" height="5.15" fill="rgb(238,116,16)"/>
<rect x="101.68" y="159.20" width="5.22" height="5.15" fill="rgb(238,116,16)"/>
<rect x="106.85" y="159.20" width="5.22" height="5.15" fill="rgb(238,116,16)"/>
<rect x="112.02" y="159.20" width="5.22" height="5.15" fill="rgb(238,116,16)"/>
<rect x="122.36" y="159.20" width="5.22" height="5.15" fill="rgb(252,247,242)"/>
<rect x="127.53" y="159.20" width="5.22" height="5.15" fill="rgb(250,206,167)"/>
<rect x="86.17" y="164.30" width="5.22" height="5.15" fill="rgb(228,237,249)"/>
<rect x="91.34" y="164.30" width="5.22" height="5.15" fill="rgb(250,206,167)"/>
<rect x="96.51" y="164.30" width="5.22" height="5.15" fill="rgb(248,180,125)"/>
<rect x="112.02" y="164.30" width="5.22" height="5.15" fill="rgb(252,247,242)"/>
<rect x="117.19" y="164.30" width="5.22" height="5.15" fill="rgb(234,241,250)"/>
<rect x="122.36" y="164.30" width="5.22" height="5.15" fill="rgb(240,244,251)"/>
<rect x="81.00" y="169.40" width="5.22" height="5.15" fill="rgb(232,240,250)"/>
<rect x="86.17" y="169.40" width="5.22" height="5.15" fill="rgb(248,180,125)"/>
<rect x="91.34" y="169.40" width="5.22" height="5.15" fill="rgb(162,197,242)"/>
<rect x="96.51" y="169.40" width="5.22" height="5.15" fill="rgb(250,206,167)"/>
<rect x="101.68" y="169.40" width="5.22" height="5.15" fill="rgb(250,206,167)"/>
<rect x="106.85" y="169.40" width="5.22" height="5.15" fill="rgb(234,241,250)"/>
<rect x="112.02" y="169.40" width="5.22" height="5.15" fill="rgb(195,217,247)"/>
<rect x="122.36" y="169.40" width="5.22" height="5.15" fill="rgb(162,197,242)"/>
<rect x="81.00" y="174.50" width="5.22" height="5.15" fill="rgb(250,206,167)"/>
<rect x="86.17" y="174.50" width="5.22" height="5.15" fill="rgb(195,217,247)"/>
<rect x="91.34" y="174.50" width="5.22" height="5.15" fill="rgb(252,247,242)"/>
<rect x="96.51" y="174.50" width="5.22" height="5.15" fill="rgb(195,217,247)"/>
<rect x="101.68" y="174.50" width="5.22" height="5.15" fill="rgb(195,217,247)"/>
<rect x="117.19" y="174.50" width="5.22" height="5.15" fill="rgb(195,217,247)"/>
<rect x="122.36" y="174.50" width="5.22" height="5.15" fill="rgb(228,237,249)"/>
<rect x="127.53" y="174.50" width="5.22" height="5.15" fill="rgb(232,240,250)"/>
<rect x="81.00" y="179.60" width="5.22" height="5.15" fill="rgb(248,180,125)"/>
<rect x="86.17" y="179.60" width="5.22" height="5.15" fill="rgb(234,241,250)"/>
<rect x="91.34" y="179.60" width="5.22" height="5.15" fill="rgb(240,244,251)"/>
<rect x="96.51" y="179.60" width="5.22" height="5.15" fill="rgb(195,217,247)"/>
<rect x="112.02" y="179.60" width="5.22" height="5.15" fill="rgb(228,237,249)"/>
<rect x="117.19" y="179.60" width="5.22" height="5.15" fill="rgb(232,240,250)"/>
<rect x="122.36" y="179.60" width="5.22" height="5.15" fill="rgb(195,217,247)"/>
<rect x="81.00" y="184.70" width="5.22" height="5.15" fill="rgb(238,116,16)"/>
<rect x="86.17" y="184.70" width="5.22" height="5.15" fill="rgb(240,129,40)"/>
<rect x="91.34" y="184.70" width="5.22" height="5.15" fill="rgb(195,217,247)"/>
<rect x="101.68" y="184.70" width="5.22" height="5.15" fill="rgb(195,217,247)"/>
<rect x="106.85" y="184.70" width="5.22" height="5.15" fill="rgb(195,217,247)"/>
<rect x="112.02" y="184.70" width="5.22" height="5.15" fill="rgb(250,243,237)"/>
<rect x="122.36" y="184.70" width="5.22" height="5.15" fill="rgb(250,206,167)"/>
<rect x="127.53" y="184.70" width="5.22" height="5.15" fill="rgb(250,206,167)"/>
<rect x="138.55" y="40.90" width="5.90" height="5.15" fill="rgb(228,237,249)"/>
<rect x="132.70" y="46.00" width="5.90" height="5.15" fill="rgb(248,180,125)"/>
<rect x="138.55" y="46.00" width="5.90" height="5.15" fill="rgb(250,243,237)"/>
<rect x="132.70" y="56.20" width="5.90" height="5.15" fill="rgb(252,247,242)"/>
<rect x="138.55" y="56.20" width="5.90" height="5.15" fill="rgb(234,241,250)"/>
<rect x="132.70" y="61.30" width="5.90" height="5.15" fill="rgb(240,244,251)"/>
<rect x="138.55" y="61.30" width="5.90" height="5.15" fill="rgb(244,154,82)"/>
<rect x="132.70" y="66.40" width="5.90" height="5.15" fill="rgb(195,217,247)"/>
<rect x="132.70" y="71.50" width="5.90" height="5.15" fill="rgb(228,237,249)"/>
<rect x="138.55" y="71.50" width="5.90" height="5.15" fill="rgb(128,176,237)"/>
<rect x="132.70" y="76.60" width="5.90" height="5.15" fill="rgb(250,243,237)"/>
<rect x="138.55" y="81.70" width="5.90" height="5.15" fill="rgb(248,180,125)"/>
<rect x="132.70" y="86.80" width="5.90" height="5.15" fill="rgb(234,241,250)"/>
<rect x="138.55" y="86.80" width="5.90" height="5.15" fill="rgb(240,244,251)"/>
<rect x="138.55" y="91.90" width="5.90" height="5.15" fill="rgb(244,154,82)"/>
<rect x="138.55" y="97.00" width="5.90" height="5.15" fill="rgb(250,206,167)"/>
<rect x="132.70" y="102.10" width="5.90" height="5.15" fill="rgb(232,240,250)"/>
<rect x="138.55" y="102.10" width="5.90" height="5.15" fill="rgb(248,180,125)"/>
<rect x="132.70" y="107.20" width="5.90" height="5.15" fill="rgb(195,217,247)"/>
<rect x="132.70" y="112.30" width="5.90" height="5.15" fill="rgb(252,247,242)"/>
<rect x="138.55" y="112.30" width="5.90" height="5.15" fill="rgb(234,241,250)"/>
<rect x="132.70" y="117.40" width="5.90" height="5.15" fill="rgb(240,244,251)"/>
<rect x="132.70" y="127.60" width="5.90" height="5.15" fill="rgb(228,237,249)"/>
<rect x="138.55" y="127.60" width="5.90" height="5.15" fill="rgb(232,240,250)"/>
<rect x="132.70" y="132.70" width="5.90" height="5.15" fill="rgb(238,116,16)"/>
<rect x="138.55" y="132.70" width="5.90" height="5.15" fill="rgb(240,129,40)"/>
<rect x="138.55" y="137.80" width="5.90" height="5.15" fill="rgb(250,206,167)"/>
<rect x="132.70" y="142.90" width="5.90" height="5.15" fill="rgb(240,129,40)"/>
<rect x="138.55" y="142.90" width="5.90" height="5.15" fill="rgb(240,244,251)"/>
<rect x="138.55" y="154.10" width="5.90" height="5.15" fill="rgb(248,180,125)"/>
<rect x="132.70" y="159.20" width="5.90" height="5.15" fill="rgb(232,240,250)"/>
<rect x="138.55" y="159.20" width="5.90" height="5.15" fill="rgb(250,243,237)"/>
<rect x="138.55" y="164.30" width="5.90" height="5.15" fill="rgb(250,206,167)"/>
<rect x="132.70" y="169.40" width="5.90" height="5.15" fill="rgb(252,247,242)"/>
<rect x="138.55" y="169.40" width="5.90" height="5.15" fill="rgb(238,116,16)"/>
<rect x="132.70" y="174.50" width="5.90" height="5.15" fill="rgb(240,244,251)"/>
<rect x="138.55" y="179.60" width="5.90" height="5.15" fill="rgb(238,116,16)"/>
<rect x="132.70" y="184.70" width="5.90" height="5.15" fill="rgb(228,237,249)"/>
<rect x="138.55" y="184.70" width="5.90" height="5.15" fill="rgb(250,206,167)"/>
<rect x="144.40" y="35.80" width="5.27" height="5.15" fill="rgb(240,244,251)"/>
<rect x="149.62" y="35.80" width="5.27" height="5.15" fill="rgb(195,217,247)"/>
<rect x="154.85" y="35.80" width="5.27" height="5.15" fill="rgb(238,116,16)"/>
<rect x="160.08" y="35.80" width="5.27" height="5.15" fill="rgb(250,206,167)"/>
<rect x="165.30" y="35.80" width="5.27" height="5.15" fill="rgb(228,237,249)"/>
<rect x="170.53" y="35.80" width="5.27" height="5.15" fill="rgb(232,240,250)"/>
<rect x="175.75" y="35.80" width="5.27" height="5.15" fill="rgb(250,243,237)"/>
<rect x="191.43" y="35.80" width="5.27" height="5.15" fill="rgb(252,247,242)"/>
<rect x="144.40" y="40.90" width="5.27" height="5.15" fill="rgb(250,206,167)"/>
<rect x="154.85" y="40.90" width="5.27" height="5.15" fill="rgb(250,206,167)"/>
<rect x="160.08" y="40.90" width="5.27" height="5.15" fill="rgb(250,206,167)"/>
<rect x="165.30" y="40.90" width="5.27" height="5.15" fill="rgb(250,206,167)"/>
<rect x="180.97" y="40.90" width="5.27" height="5.15" fill="rgb(252,247,242)"/>
<rect x="186.20" y="40.90" width="5.27" height="5.15" fill="rgb(234,241,250)"/>
<rect x="191.43" y="40.90" width="5.27" height="5.15" fill="rgb(240,244,251)"/>
<rect x="144.40" y="46.00" width="5.27" height="5.15" fill="rgb(97,155,233)"/>
<rect x="149.62" y="46.00" width="5.27" height="5.15" fill="rgb(232,240,250)"/>
<rect x="154.85" y="46.00" width="5.27" height="5.15" fill="rgb(250,243,237)"/>
<rect x="160.08" y="46.00" width="5.27" height="5.15" fill="rgb(250,206,167)"/>
<rect x="170.53" y="46.00" width="5.27" height="5.15" fill="rgb(250,206,167)"/>
<rect x="175.75" y="46.00" width="5.27" height="5.15" fill="rgb(195,217,247)"/>
<rect x="180.97" y="46.00" width="5.27" height="5.15" fill="rgb(240,244,251)"/>
<rect x="186.20" y="46.00" width="5.27" height="5.15" fill="rgb(195,217,247)"/>
<rect x="144.40" y="51.10" width="5.27" height="5.15" fill="rgb(128,176,237)"/>
<rect x="160.08" y="51.10" width="5.27" height="5.15" fill="rgb(248,180,125)"/>
<rect x="165.30" y="51.10" width="5.27" height="5.15" fill="rgb(248,180,125)"/>
<rect x="170.53" y="51.10" width="5.27" height="5.15" fill="rgb(240,244,251)"/>
<rect x="175.75" y="51.10" width="5.27" height="5.15" fill="rgb(195,217,247)"/>
<rect x="191.43" y="51.10" width="5.27" height="5.15" fill="rgb(228,237,249)"/>
<rect x="144.40" y="56.20" width="5.27" height="5.15" fill="rgb(128,176,237)"/>
<rect x="149.62" y="56.20" width="5.27" height="5.15" fill="rgb(252,247,242)"/>
<rect x="154.85" y="56.20" width="5.27" height="5.15" fill="rgb(195,217,247)"/>
<rect x="160.08" y="56.20" width="5.27" height="5.15" fill="rgb(195,217,247)"/>
<rect x="170.53" y="56.20" width="5.27" height="5.15" fill="rgb(248,180,125)"/>
<rect x="180.97" y="56.20" width="5.27" height="5.15" fill="rgb(228,237,249)"/>
<rect x="186.20" y="56.20" width="5.27" height="5.15" fill="rgb(232,240,250)"/>
<rect x="191.43" y="56.20" width="5.27" height="5.15" fill="rgb(250,206,167)"/>
<rect x="144.40" y="61.30" width="5.27" height="5.15" fill="rgb(234,241,250)"/>
<rect x="149.62" y="61.30" width="5.27" height="5.15" fill="rgb(240,244,251)"/>
<rect x="154.85" y="61.30" width="5.27" height="5.15" fill="rgb(128,176,237)"/>
<rect x="170.53" y="61.30" width="5.27" height="5.15" fill="rgb(240,129,40)"/>
<rect x="175.75" y="61.30" width="5.27" height="5.15" fill="rgb(250,206,167)"/>
<rect x="180.97" y="61.30" width="5.27" height="5.15" fill="rgb(250,243,237)"/>
<rect x="144.40" y="66.40" width="5.27" height="5.15" fill="rgb(238,116,16)"/>
<rect x="160.08" y="66.40" width="5.27" height="5.15" fill="rgb(250,206,167)"/>
<rect x="165.30" y="66.40" width="5.27" height="5.15" fill="rgb(250,206,167)"/>
<rect x="170.53" y="66.40" width="5.27" height="5.15" fill="rgb(250,243,237)"/>
<rect x="175.75" y="66.40" width="5.27" height="5.15" fill="rgb(238,116,16)"/>
<rect x="186.20" y="66.40" width="5.27" height="5.15" fill="rgb(248,180,125)"/>
<rect x="191.43" y="66.40" width="5.27" height="5.15" fill="rgb(234,241,250)"/>
<rect x="144.40" y="71.50" width="5.27" height="5.15" fill="rgb(238,116,16)"/>
<rect x="149.62" y="71.50" width="5.27" height="5.15" fill="rgb(228,237,249)"/>
<rect x="154.85" y="71.50" width="5.27" height="5.15" fill="rgb(232,240,250)"/>
<rect x="160.08" y="71.50" width="5.27" height="5.15" fill="rgb(250,206,167)"/>
<rect x="170.53" y="71.50" width="5.27" height="5.15" fill="rgb(97,155,233)"/>
<rect x="175.75" y="71.50" width="5.27" height="5.15" fill="rgb(250,206,167)"/>
<rect x="180.97" y="71.50" width="5.27" height="5.15" fill="rgb(195,217,247)"/>
<rect x="186.20" y="71.50" width="5.27" height="5.15" fill="rgb(240,244,251)"/>
<rect x="191.43" y="71.50" width="5.27" height="5.15" fill="rgb(195,217,247)"/>
<rect x="144.40" y="76.60" width="5.27" height="5.15" fill="rgb(232,240,250)"/>
<rect x="149.62" y="76.60" width="5.27" height="5.15" fill="rgb(250,243,237)"/>
<rect x="160.08" y="76.60" width="5.27" height="5.15" fill="rgb(250,206,167)"/>
<rect x="165.30" y="76.60" width="5.27" height="5.15" fill="rgb(252,247,242)"/>
<rect x="170.53" y="76.60" width="5.27" height="5.15" fill="rgb(248,180,125)"/>
<rect x="175.75" y="76.60" width="5.27" height="5.15" fill="rgb(195,217,247)"/>
<rect x="180.97" y="76.60" width="5.27" height="5.15" fill="rgb(195,217,247)"/>
<rect x="144.40" y="81.70" width="5.27" height="5.15" fill="rgb(162,197,242)"/>
<rect x="149.62" y="81.70" width="5.27" height="5.15" fill="rgb(238,116,16)"/>
<rect x="154.85" y="81.70" width="5.27" height="5.15" fill="rgb(252,247,242)"/>
<rect x="160.08" y="81.70" width="5.27" height="5.15" fill="rgb(234,241,250)"/>
<rect x="165.30" y="81.70" width="5.27" height="5.15" fill="rgb(240,244,251)"/>
<rect x="180.97" y="81.70" width="5.27" height="5.15" fill="rgb(238,116,16)"/>
<rect x="186.20" y="81.70" width="5.27" height="5.15" fill="rgb(228,237,249)"/>
<rect x="191.43" y="81.70" width="5.27" height="5.15" fill="rgb(250,206,167)"/>
<rect x="144.40" y="86.80" width="5.27" height="5.15" fill="rgb(248,180,125)"/>
<rect x="149.62" y="86.80" width="5.27" height="5.15" fill="rgb(234,241,250)"/>
<rect x="154.85" y="86.80" width="5.27" height="5.15" fill="rgb(195,217,247)"/>
<rect x="165.30" y="86.80" width="5.27" height="5.15" fill="rgb(250,206,167)"/>
<rect x="175.75" y="86.80" width="5.27" height="5.15" fill="rgb(250,206,167)"/>
<rect x="180.97" y="86.80" width="5.27" height="5.15" fill="rgb(232,240,250)"/>
<rect x="186.20" y="86.80" width="5.27" height="5.15" fill="rgb(195,217,247)"/>
<rect x="144.40" y="91.90" width="5.27" height="5.15" fill="rgb(240,244,251)"/>
<rect x="149.62" y="91.90" width="5.27" height="5.15" fill="rgb(248,180,125)"/>
<rect x="160.08" y="91.90" width="5.27" height="5.15" fill="rgb(248,180,125)"/>
<rect x="165.30" y="91.90" width="5.27" height="5.15" fill="rgb(250,206,167)"/>
<rect x="170.53" y="91.90" width="5.27" height="5.15" fill="rgb(248,180,125)"/>
<rect x="175.75" y="91.90" width="5.27" height="5.15" fill="rgb(250,243,237)"/>
<rect x="191.43" y="91.90" width="5.27" height="5.15" fill="rgb(252,247,242)"/>
<rect x="144.40" y="97.00" width="5.27" height="5.15" fill="rgb(162,197,242)"/>
<rect x="154.85" y="97.00" width="5.27" height="5.15" fill="rgb(228,237,249)"/>
<rect x="160.08" y="97.00" width="5.27" height="5.15" fill="rgb(250,206,167)"/>
<rect x="165.30" y="97.00" width="5.27" height="5.15" fill="rgb(250,206,167)"/>
<rect x="170.53" y="97.00" width="5.27" height="5.15" fill="rgb(244,154,82)"/>
<rect x="175.75" y="97.00" width="5.27" height="5.15" fill="rgb(244,154,82)"/>
<rect x="180.97" y="97.00" width="5.27" height="5.15" fill="rgb(252,247,242)"/>
<rect x="186.20" y="97.00" width="5.27" height="5.15" fill="rgb(238,116,16)"/>
<rect x="191.43" y="97.00" width="5.27" height="5.15" fill="rgb(248,180,125)"/>
<rect x="144.40" y="102.10" width="5.27" height="5.15" fill="rgb(228,237,249)"/>
<rect x="149.62" y="102.10" width="5.27" height="5.15" fill="rgb(232,240,250)"/>
<rect x="154.85" y="102.10" width="5.27" height="5.15" fill="rgb(250,243,237)"/>
<rect x="160.08" y="102.10" width="5.27" height="5.15" fill="rgb(195,217,247)"/>
<rect x="170.53" y="102.10" width="5.27" height="5.15" fill="rgb(248,180,125)"/>
<rect x="175.75" y="102.10" width="5.27" height="5.15" fill="rgb(234,241,250)"/>
<rect x="180.97" y="102.10" width="5.27" height="5.15" fill="rgb(195,217,247)"/>
<rect x="144.40" y="107.20" width="5.27" height="5.15" fill="rgb(250,243,237)"/>
<rect x="154.85" y="107.20" width="5.27" height="5.15" fill="rgb(195,217,247)"/>
<rect x="160.08" y="107.20" width="5.27" height="5.15" fill="rgb(162,197,242)"/>
<rect x="165.30" y="107.20" width="5.27" height="5.15" fill="rgb(234,241,250)"/>
<rect x="170.53" y="107.20" width="5.27" height="5.15" fill="rgb(240,244,251)"/>
<rect x="175.75" y="107.20" width="5.27" height="5.15" fill="rgb(238,116,16)"/>
<rect x="180.97" y="107.20" width="5.27" height="5.15" fill="rgb(250,206,167)"/>
<rect x="191.43" y="107.20" width="5.27" height="5.15" fill="rgb(238,116,16)"/>
<rect x="144.40" y="112.30" width="5.27" height="5.15" fill="rgb(162,197,242)"/>
<rect x="149.62" y="112.30" width="5.27" height="5.15" fill="rgb(252,247,242)"/>
<rect x="154.85" y="112.30" width="5.27" height="5.15" fill="rgb(234,241,250)"/>
<rect x="160.08" y="112.30" width="5.27" height="5.15" fill="rgb(162,197,242)"/>
<rect x="165.30" y="112.30" width="5.27" height="5.15" fill="rgb(240,129,40)"/>
<rect x="175.75" y="112.30" width="5.27" height="5.15" fill="rgb(195,217,247)"/>
<rect x="180.97" y="112.30" width="5.27" height="5.15" fill="rgb(228,237,249)"/>
<rect x="186.20" y="112.30" width="5.27" height="5.15" fill="rgb(232,240,250)"/>
<rect x="191.43" y="112.30" width="5.27" height="5.15" fill="rgb(250,243,237)"/>
<rect x="144.40" y="117.40" width="5.27" height="5.15" fill="rgb(234,241,250)"/>
<rect x="149.62" y="117.40" width="5.27" height="5.15" fill="rgb(240,244,251)"/>
<rect x="160.08" y="117.40" width="5.27" height="5.15" fill="rgb(162,197,242)"/>
<rect x="165.30" y="117.40" width="5.27" height="5.15" fill="rgb(62,130,226)"/>
<rect x="170.53" y="117.40" width="5.27" height="5.15" fill="rgb(244,154,82)"/>
<rect x="175.75" y="117.40" width="5.27" height="5.15" fill="rgb(232,240,250)"/>
<rect x="180.97" y="117.40" width="5.27" height="5.15" fill="rgb(195,217,247)"/>
<rect x="144.40" y="122.50" width="5.27" height="5.15" fill="rgb(128,176,237)"/>
<rect x="160.08" y="122.50" width="5.27" height="5.15" fill="rgb(162,197,242)"/>
<rect x="165.30" y="122.50" width="5.27" height="5.15" fill="rgb(232,240,250)"/>
<rect x="170.53" y="122.50" width="5.27" height="5.15" fill="rgb(250,206,167)"/>
<rect x="186.20" y="122.50" width="5.27" height="5.15" fill="rgb(250,206,167)"/>
<rect x="191.43" y="122.50" width="5.27" height="5.15" fill="rgb(234,241,250)"/>
<rect x="144.40" y="127.60" width="5.27" height="5.15" fill="rgb(248,180,125)"/>
<rect x="149.62" y="127.60" width="5.27" height="5.15" fill="rgb(228,237,249)"/>
<rect x="154.85" y="127.60" width="5.27" height="5.15" fill="rgb(232,240,250)"/>
<rect x="160.08" y="127.60" width="5.27" height="5.15" fill="rgb(250,243,237)"/>
<rect x="175.75" y="127.60" width="5.27" height="5.15" fill="rgb(195,217,247)"/>
<rect x="180.97" y="127.60" width="5.27" height="5.15" fill="rgb(195,217,247)"/>
<rect x="186.20" y="127.60" width="5.27" height="5.15" fill="rgb(240,244,251)"/>
<rect x="144.40" y="132.70" width="5.27" height="5.15" fill="rgb(232,240,250)"/>
<rect x="149.62" y="132.70" width="5.27" height="5.15" fill="rgb(250,243,237)"/>
<rect x="160.08" y="132.70" width="5.27" height="5.15" fill="rgb(244,154,82)"/>
<rect x="165.30" y="132.70" width="5.27" height="5.15" fill="rgb(238,116,16)"/>
<rect x="170.53" y="132.70" width="5.27" height="5.15" fill="rgb(62,130,226)"/>
<rect x="175.75" y="132.70" width="5.27" height="5.15" fill="rgb(240,244,251)"/>
<rect x="180.97" y="132.70" width="5.27" height="5.15" fill="rgb(250,206,167)"/>
<rect x="191.43" y="132.70" width="5.27" height="5.15" fill="rgb(250,206,167)"/>
<rect x="154.85" y="137.80" width="5.27" height="5.15" fill="rgb(252,247,242)"/>
<rect x="160.08" y="137.80" width="5.27" height="5.15" fill="rgb(195,217,247)"/>
<rect x="165.30" y="137.80" width="5.27" height="5.15" fill="rgb(240,244,251)"/>
<rect x="175.75" y="137.80" width="5.27" height="5.15" fill="rgb(195,217,247)"/>
<rect x="180.97" y="137.80" width="5.27" height="5.15" fill="rgb(195,217,247)"/>
<rect x="186.20" y="137.80" width="5.27" height="5.15" fill="rgb(228,237,249)"/>
<rect x="191.43" y="137.80" width="5.27" height="5.15" fill="rgb(232,240,250)"/>
<rect x="144.40" y="142.90" width="5.27" height="5.15" fill="rgb(62,130,226)"/>
<rect x="149.62" y="142.90" width="5.27" height="5.15" fill="rgb(234,241,250)"/>
<rect x="154.85" y="142.90" width="5.27" height="5.15" fill="rgb(240,244,251)"/>
<rect x="165.30" y="142.90" width="5.27" height="5.15" fill="rgb(162,197,242)"/>
<rect x="175.75" y="142.90" width="5.27" height="5.15" fill="rgb(250,206,167)"/>
<rect x="180.97" y="142.90" width="5.27" height="5.15" fill="rgb(195,217,247)"/>
<rect x="186.20" y="142.90" width="5.27" height="5.15" fill="rgb(250,243,237)"/>
<rect x="191.43" y="142.90" width="5.27" height="5.15" fill="rgb(244,154,82)"/>
<rect x="144.40" y="149.00" width="5.27" height="5.15" fill="rgb(240,244,251)"/>
<rect x="149.62" y="149.00" width="5.27" height="5.15" fill="rgb(195,217,247)"/>
<rect x="154.85" y="149.00" width="5.27" height="5.15" fill="rgb(238,116,16)"/>
<rect x="165.30" y="149.00" width="5.27" height="5.15" fill="rgb(228,237,249)"/>
<rect x="170.53" y="149.00" width="5.27" height="5.15" fill="rgb(232,240,250)"/>
<rect x="175.75" y="149.00" width="5.27" height="5.15" fill="rgb(248,180,125)"/>
<rect x="191.43" y="149.00" width="5.27" height="5.15" fill="rgb(252,247,242)"/>
<rect x="154.85" y="154.10" width="5.27" height="5.15" fill="rgb(195,217,247)"/>
<rect x="160.08" y="154.10" width="5.27" height="5.15" fill="rgb(232,240,250)"/>
<rect x="165.30" y="154.10" width="5.27" height="5.15" fill="rgb(250,243,237)"/>
<rect x="170.53" y="154.10" width="5.27" height="5.15" fill="rgb(244,154,82)"/>
<rect x="180.97" y="154.10" width="5.27" height="5.15" fill="rgb(244,154,82)"/>
<rect x="186.20" y="154.10" width="5.27" height="5.15" fill="rgb(234,241,250)"/>
<rect x="191.43" y="154.10" width="5.27" height="5.15" fill="rgb(240,244,251)"/>
<rect x="144.40" y="159.20" width="5.27" height="5.15" fill="rgb(228,237,249)"/>
<rect x="149.62" y="159.20" width="5.27" height="5.15" fill="rgb(232,240,250)"/>
<rect x="154.85" y="159.20" width="5.27" height="5.15" fill="rgb(248,180,125)"/>
<rect x="170.53" y="159.20" width="5.27" height="5.15" fill="rgb(248,180,125)"/>
<rect x="175.75" y="159.20" width="5.27" height="5.15" fill="rgb(195,217,247)"/>
<rect x="180.97" y="159.20" width="5.27" height="5.15" fill="rgb(250,206,167)"/>
<rect x="186.20" y="159.20" width="5.27" height="5.15" fill="rgb(238,116,16)"/>
<rect x="144.40" y="164.30" width="5.27" height="5.15" fill="rgb(250,243,237)"/>
<rect x="149.62" y="164.30" width="5.27" height="5.15" fill="rgb(250,206,167)"/>
<rect x="160.08" y="164.30" width="5.27" height="5.15" fill="rgb(195,217,247)"/>
<rect x="165.30" y="164.30" width="5.27" height="5.15" fill="rgb(248,180,125)"/>
<rect x="170.53" y="164.30" width="5.27" height="5.15" fill="rgb(240,244,251)"/>
<rect x="180.97" y="164.30" width="5.27" height="5.15" fill="rgb(240,129,40)"/>
<rect x="186.20" y="164.30" width="5.27" height="5.15" fill="rgb(195,217,247)"/>
<rect x="191.43" y="164.30" width="5.27" height="5.15" fill="rgb(228,237,249)"/>
<rect x="144.40" y="169.40" width="5.27" height="5.15" fill="rgb(248,180,125)"/>
<rect x="149.62" y="169.40" width="5.27" height="5.15" fill="rgb(252,247,242)"/>
<rect x="154.85" y="169.40" width="5.27" height="5.15" fill="rgb(195,217,247)"/>
<rect x="160.08" y="169.40" width="5.27" height="5.15" fill="rgb(195,217,247)"/>
<rect x="165.30" y="169.40" width="5.27" height="5.15" fill="rgb(195,217,247)"/>
<rect x="175.75" y="169.40" width="5.27" height="5.15" fill="rgb(250,206,167)"/>
<rect x="180.97" y="169.40" width="5.27" height="5.15" fill="rgb(128,176,237)"/>
<rect x="186.20" y="169.40" width="5.27" height="5.15" fill="rgb(232,240,250)"/>
<rect x="191.43" y="169.40" width="5.27" height="5.15" fill="rgb(250,206,167)"/>
<rect x="144.40" y="174.50" width="5.27" height="5.15" fill="rgb(234,241,250)"/>
<rect x="149.62" y="174.50" width="5.27" height="5.15" fill="rgb(240,244,251)"/>
<rect x="160.08" y="174.50" width="5.27" height="5.15" fill="rgb(244,154,82)"/>
<rect x="170.53" y="174.50" width="5.27" height="5.15" fill="rgb(128,176,237)"/>
<rect x="175.75" y="174.50" width="5.27" height="5.15" fill="rgb(232,240,250)"/>
<rect x="180.97" y="174.50" width="5.27" height="5.15" fill="rgb(250,243,237)"/>
<rect x="186.20" y="174.50" width="5.27" height="5.15" fill="rgb(195,217,247)"/>
<rect x="149.62" y="179.60" width="5.27" height="5.15" fill="rgb(195,217,247)"/>
<rect x="154.85" y="179.60" width="5.27" height="5.15" fill="rgb(238,116,16)"/>
<rect x="160.08" y="179.60" width="5.27" height="5.15" fill="rgb(228,237,249)"/>
<rect x="165.30" y="179.60" width="5.27" height="5.15" fill="rgb(128,176,237)"/>
<rect x="170.53" y="179.60" width="5.27" height="5.15" fill="rgb(250,206,167)"/>
<rect x="180.97" y="179.60" width="5.27" height="5.15" fill="rgb(240,129,40)"/>
<rect x="186.20" y="179.60" width="5.27" height="5.15" fill="rgb(252,247,242)"/>
<rect x="191.43" y="179.60" width="5.27" height="5.15" fill="rgb(195,217,247)"/>
<rect x="149.62" y="184.70" width="5.27" height="5.15" fill="rgb(195,217,247)"/>
<rect x="154.85" y="184.70" width="5.27" height="5.15" fill="rgb(232,240,250)"/>
<rect x="160.08" y="184.70" width="5.27" height="5.15" fill="rgb(195,217,247)"/>
<rect x="165.30" y="184.70" width="5.27" height="5.15" fill="rgb(195,217,247)"/>
<rect x="175.75" y="184.70" width="5.27" height="5.15" fill="rgb(62,130,226)"/>
<rect x="180.97" y="184.70" width="5.27" height="5.15" fill="rgb(234,241,250)"/>
<rect x="186.20" y="184.70" width="5.27" height="5.15" fill="rgb(195,217,247)"/>
<rect x="191.43" y="184.70" width="5.27" height="5.15" fill="rgb(195,217,247)"/>
<rect x="201.89" y="35.80" width="5.29" height="5.15" fill="rgb(228,237,249)"/>
<rect x="207.13" y="35.80" width="5.29" height="5.15" fill="rgb(232,240,250)"/>
<rect x="212.37" y="35.80" width="5.29" height="5.15" fill="rgb(195,217,247)"/>
<rect x="228.08" y="35.80" width="5.29" height="5.15" fill="rgb(252,247,242)"/>
<rect x="233.32" y="35.80" width="5.29" height="5.15" fill="rgb(234,241,250)"/>
<rect x="238.56" y="35.80" width="5.29" height="5.15" fill="rgb(240,244,251)"/>
<rect x="196.65" y="40.90" width="5.29" height="5.15" fill="rgb(232,240,250)"/>
<rect x="201.89" y="40.90" width="5.29" height="5.15" fill="rgb(250,243,237)"/>
<rect x="207.13" y="40.90" width="5.29" height="5.15" fill="rgb(240,129,40)"/>
<rect x="217.61" y="40.90" width="5.29" height="5.15" fill="rgb(240,129,40)"/>
<rect x="222.84" y="40.90" width="5.29" height="5.15" fill="rgb(234,241,250)"/>
<rect x="228.08" y="40.90" width="5.29" height="5.15" fill="rgb(195,217,247)"/>
<rect x="201.89" y="46.00" width="5.29" height="5.15" fill="rgb(248,180,125)"/>
<rect x="207.13" y="46.00" width="5.29" height="5.15" fill="rgb(252,247,242)"/>
<rect x="212.37" y="46.00" width="5.29" height="5.15" fill="rgb(250,206,167)"/>
<rect x="217.61" y="46.00" width="5.29" height="5.15" fill="rgb(240,244,251)"/>
<rect x="228.08" y="46.00" width="5.29" height="5.15" fill="rgb(244,154,82)"/>
<rect x="233.32" y="46.00" width="5.29" height="5.15" fill="rgb(250,206,167)"/>
<rect x="238.56" y="46.00" width="5.29" height="5.15" fill="rgb(195,217,247)"/>
<rect x="196.65" y="51.10" width="5.29" height="5.15" fill="rgb(252,247,242)"/>
<rect x="201.89" y="51.10" width="5.29" height="5.15" fill="rgb(234,241,250)"/>
<rect x="207.13" y="51.10" width="5.29" height="5.15" fill="rgb(195,217,247)"/>
<rect x="212.37" y="51.10" width="5.29" height="5.15" fill="rgb(162,197,242)"/>
<rect x="217.61" y="51.10" width="5.29" height="5.15" fill="rgb(195,217,247)"/>
<rect x="222.84" y="51.10" width="5.29" height="5.15" fill="rgb(250,206,167)"/>
<rect x="228.08" y="51.10" width="5.29" height="5.15" fill="rgb(228,237,249)"/>
<rect x="233.32" y="51.10" width="5.29" height="5.15" fill="rgb(250,206,167)"/>
<rect x="238.56" y="51.10" width="5.29" height="5.15" fill="rgb(250,243,237)"/>
<rect x="196.65" y="56.20" width="5.29" height="5.15" fill="rgb(240,244,251)"/>
<rect x="201.89" y="56.20" width="5.29" height="5.15" fill="rgb(248,180,125)"/>
<rect x="212.37" y="56.20" width="5.29" height="5.15" fill="rgb(195,217,247)"/>
<rect x="217.61" y="56.20" width="5.29" height="5.15" fill="rgb(228,237,249)"/>
<rect x="222.84" y="56.20" width="5.29" height="5.15" fill="rgb(232,240,250)"/>
<rect x="228.08" y="56.20" width="5.29" height="5.15" fill="rgb(250,206,167)"/>
<rect x="238.56" y="56.20" width="5.29" height="5.15" fill="rgb(195,217,247)"/>
<rect x="207.13" y="61.30" width="5.29" height="5.15" fill="rgb(228,237,249)"/>
<rect x="212.37" y="61.30" width="5.29" height="5.15" fill="rgb(162,197,242)"/>
<rect x="217.61" y="61.30" width="5.29" height="5.15" fill="rgb(248,180,125)"/>
<rect x="228.08" y="61.30" width="5.29" height="5.15" fill="rgb(128,176,237)"/>
<rect x="233.32" y="61.30" width="5.29" height="5.15" fill="rgb(128,176,237)"/>
<rect x="238.56" y="61.30" width="5.29" height="5.15" fill="rgb(234,241,250)"/>
<rect x="196.65" y="66.40" width="5.29" height="5.15" fill="rgb(228,237,249)"/>
<rect x="201.89" y="66.40" width="5.29" height="5.15" fill="rgb(232,240,250)"/>
<rect x="207.13" y="66.40" width="5.29" height="5.15" fill="rgb(250,243,237)"/>
<rect x="212.37" y="66.40" width="5.29" height="5.15" fill="rgb(222,234,250)"/>
<rect x="222.84" y="66.40" width="5.29" height="5.15" fill="rgb(195,217,247)"/>
<rect x="228.08" y="66.40" width="5.29" height="5.15" fill="rgb(244,154,82)"/>
<rect x="233.32" y="66.40" width="5.29" height="5.15" fill="rgb(248,180,125)"/>
<rect x="238.56" y="66.40" width="5.29" height="5.15" fill="rgb(195,217,247)"/>
<rect x="196.65" y="71.50" width="5.29" height="5.15" fill="rgb(250,243,237)"/>
<rect x="201.89" y="71.50" width="5.29" height="5.15" fill="rgb(195,217,247)"/>
<rect x="212.37" y="71.50" width="5.29" height="5.15" fill="rgb(195,217,247)"/>
<rect x="217.61" y="71.50" width="5.29" height="5.15" fill="rgb(97,155,233)"/>
<rect x="222.84" y="71.50" width="5.29" height="5.15" fill="rgb(248,180,125)"/>
<rect x="228.08" y="71.50" width="5.29" height="5.15" fill="rgb(128,176,237)"/>
<rect x="233.32" y="71.50" width="5.29" height="5.15" fill="rgb(162,197,242)"/>
<rect x="238.56" y="71.50" width="5.29" height="5.15" fill="rgb(162,197,242)"/>
<rect x="201.89" y="76.60" width="5.29" height="5.15" fill="rgb(244,154,82)"/>
<rect x="207.13" y="76.60" width="5.29" height="5.15" fill="rgb(234,241,250)"/>
<rect x="212.37" y="76.60" width="5.29" height="5.15" fill="rgb(240,244,251)"/>
<rect x="222.84" y="76.60" width="5.29" height="5.15" fill="rgb(195,217,247)"/>
<rect x="228.08" y="76.60" width="5.29" height="5.15" fill="rgb(195,217,247)"/>
<rect x="233.32" y="76.60" width="5.29" height="5.15" fill="rgb(228,237,249)"/>
<rect x="238.56" y="76.60" width="5.29" height="5.15" fill="rgb(244,154,82)"/>
<rect x="196.65" y="81.70" width="5.29" height="5.15" fill="rgb(234,241,250)"/>
<rect x="201.89" y="81.70" width="5.29" height="5.15" fill="rgb(240,244,251)"/>
<rect x="222.84" y="81.70" width="5.29" height="5.15" fill="rgb(238,116,16)"/>
<rect x="228.08" y="81.70" width="5.29" height="5.15" fill="rgb(232,240,250)"/>
<rect x="233.32" y="81.70" width="5.29" height="5.15" fill="rgb(195,217,247)"/>
<rect x="201.89" y="86.80" width="5.29" height="5.15" fill="rgb(248,180,125)"/>
<rect x="212.37" y="86.80" width="5.29" height="5.15" fill="rgb(250,206,167)"/>
<rect x="217.61" y="86.80" width="5.29" height="5.15" fill="rgb(250,206,167)"/>
<rect x="222.84" y="86.80" width="5.29" height="5.15" fill="rgb(250,243,237)"/>
<rect x="228.08" y="86.80" width="5.29" height="5.15" fill="rgb(250,206,167)"/>
<rect x="233.32" y="86.80" width="5.29" height="5.15" fill="rgb(250,206,167)"/>
<rect x="238.56" y="86.80" width="5.29" height="5.15" fill="rgb(252,247,242)"/>
<rect x="201.89" y="91.90" width="5.29" height="5.15" fill="rgb(250,206,167)"/>
<rect x="207.13" y="91.90" width="5.29" height="5.15" fill="rgb(195,217,247)"/>
<rect x="212.37" y="91.90" width="5.29" height="5.15" fill="rgb(250,243,237)"/>
<rect x="228.08" y="91.90" width="5.29" height="5.15" fill="rgb(248,180,125)"/>
<rect x="233.32" y="91.90" width="5.29" height="5.15" fill="rgb(195,217,247)"/>
<rect x="238.56" y="91.90" width="5.29" height="5.15" fill="rgb(240,244,251)"/>
<rect x="196.65" y="97.00" width="5.29" height="5.15" fill="rgb(232,240,250)"/>
<rect x="201.89" y="97.00" width="5.29" height="5.15" fill="rgb(250,243,237)"/>
<rect x="207.13" y="97.00" width="5.29" height="5.15" fill="rgb(238,116,16)"/>
<rect x="212.37" y="97.00" width="5.29" height="5.15" fill="rgb(195,217,247)"/>
<rect x="217.61" y="97.00" width="5.29" height="5.15" fill="rgb(195,217,247)"/>
<rect x="222.84" y="97.00" width="5.29" height="5.15" fill="rgb(128,176,237)"/>
<rect x="228.08" y="97.00" width="5.29" height="5.15" fill="rgb(238,116,16)"/>
<rect x="201.89" y="102.10" width="5.29" height="5.15" fill="rgb(250,206,167)"/>
<rect x="207.13" y="102.10" width="5.29" height="5.15" fill="rgb(238,116,16)"/>
<rect x="212.37" y="102.10" width="5.29" height="5.15" fill="rgb(195,217,247)"/>
<rect x="217.61" y="102.10" width="5.29" height="5.15" fill="rgb(240,244,251)"/>
<rect x="228.08" y="102.10" width="5.29" height="5.15" fill="rgb(244,154,82)"/>
<rect x="233.32" y="102.10" width="5.29" height="5.15" fill="rgb(128,176,237)"/>
<rect x="238.56" y="102.10" width="5.29" height="5.15" fill="rgb(228,237,249)"/>
<rect x="196.65" y="107.20" width="5.29" height="5.15" fill="rgb(252,247,242)"/>
<rect x="201.89" y="107.20" width="5.29" height="5.15" fill="rgb(250,206,167)"/>
<rect x="207.13" y="107.20" width="5.29" height="5.15" fill="rgb(240,244,251)"/>
<rect x="212.37" y="107.20" width="5.29" height="5.15" fill="rgb(195,217,247)"/>
<rect x="222.84" y="107.20" width="5.29" height="5.15" fill="rgb(238,116,16)"/>
<rect x="228.08" y="107.20" width="5.29" height="5.15" fill="rgb(238,116,16)"/>
<rect x="233.32" y="107.20" width="5.29" height="5.15" fill="rgb(232,240,250)"/>
<rect x="238.56" y="107.20" width="5.29" height="5.15" fill="rgb(250,206,167)"/>
<rect x="196.65" y="112.30" width="5.29" height="5.15" fill="rgb(240,244,251)"/>
<rect x="207.13" y="112.30" width="5.29" height="5.15" fill="rgb(238,116,16)"/>
<rect x="212.37" y="112.30" width="5.29" height="5.15" fill="rgb(244,154,82)"/>
<rect x="217.61" y="112.30" width="5.29" height="5.15" fill="rgb(228,237,249)"/>
<rect x="222.84" y="112.30" width="5.29" height="5.15" fill="rgb(232,240,250)"/>
<rect x="228.08" y="112.30" width="5.29" height="5.15" fill="rgb(238,116,16)"/>
<rect x="233.32" y="112.30" width="5.29" height="5.15" fill="rgb(250,206,167)"/>
<rect x="207.13" y="117.40" width="5.29" height="5.15" fill="rgb(228,237,249)"/>
<rect x="212.37" y="117.40" width="5.29" height="5.15" fill="rgb(195,217,247)"/>
<rect x="217.61" y="117.40" width="5.29" height="5.15" fill="rgb(250,243,237)"/>
<rect x="228.08" y="117.40" width="5.29" height="5.15" fill="rgb(238,116,16)"/>
<rect x="233.32" y="117.40" width="5.29" height="5.15" fill="rgb(250,206,167)"/>
<rect x="238.56" y="117.40" width="5.29" height="5.15" fill="rgb(234,241,250)"/>
<rect x="196.65" y="122.50" width="5.29" height="5.15" fill="rgb(228,237,249)"/>
<rect x="201.89" y="122.50" width="5.29" height="5.15" fill="rgb(232,240,250)"/>
<rect x="207.13" y="122.50" width="5.29" height="5.15" fill="rgb(195,217,247)"/>
<rect x="212.37" y="122.50" width="5.29" height="5.15" fill="rgb(195,217,247)"/>
<rect x="217.61" y="122.50" width="5.29" height="5.15" fill="rgb(195,217,247)"/>
<rect x="222.84" y="122.50" width="5.29" height="5.15" fill="rgb(252,247,242)"/>
<rect x="228.08" y="122.50" width="5.29" height="5.15" fill="rgb(195,217,247)"/>
<rect x="233.32" y="122.50" width="5.29" height="5.15" fill="rgb(250,206,167)"/>
<rect x="196.65" y="127.60" width="5.29" height="5.15" fill="rgb(250,243,237)"/>
<rect x="201.89" y="127.60" width="5.29" height="5.15" fill="rgb(238,116,16)"/>
<rect x="207.13" y="127.60" width="5.29" height="5.15" fill="rgb(195,217,247)"/>
<rect x="212.37" y="127.60" width="5.29" height="5.15" fill="rgb(195,217,247)"/>
<rect x="217.61" y="127.60" width="5.29" height="5.15" fill="rgb(234,241,250)"/>
<rect x="222.84" y="127.60" width="5.29" height="5.15" fill="rgb(128,176,237)"/>
<rect x="228.08" y="127.60" width="5.29" height="5.15" fill="rgb(128,176,237)"/>
<rect x="233.32" y="127.60" width="5.29" height="5.15" fill="rgb(244,154,82)"/>
<rect x="201.89" y="132.70" width="5.29" height="5.15" fill="rgb(252,247,242)"/>
<rect x="207.13" y="132.70" width="5.29" height="5.15" fill="rgb(195,217,247)"/>
<rect x="212.37" y="132.70" width="5.29" height="5.15" fill="rgb(195,217,247)"/>
<rect x="217.61" y="132.70" width="5.29" height="5.15" fill="rgb(250,206,167)"/>
<rect x="222.84" y="132.70" width="5.29" height="5.15" fill="rgb(195,217,247)"/>
<rect x="233.32" y="132.70" width="5.29" height="5.15" fill="rgb(228,237,249)"/>
<rect x="238.56" y="132.70" width="5.29" height="5.15" fill="rgb(248,180,125)"/>
<rect x="196.65" y="137.80" width="5.29" height="5.15" fill="rgb(234,241,250)"/>
<rect x="201.89" y="137.80" width="5.29" height="5.15" fill="rgb(128,176,237)"/>
<rect x="212.37" y="137.80" width="5.29" height="5.15" fill="rgb(195,217,247)"/>
<rect x="217.61" y="137.80" width="5.29" height="5.15" fill="rgb(195,217,247)"/>
<rect x="222.84" y="137.80" width="5.29" height="5.15" fill="rgb(128,176,237)"/>
<rect x="228.08" y="137.80" width="5.29" height="5.15" fill="rgb(248,180,125)"/>
<rect x="233.32" y="137.80" width="5.29" height="5.15" fill="rgb(244,154,82)"/>
<rect x="238.56" y="137.80" width="5.29" height="5.15" fill="rgb(238,116,16)"/>
<rect x="212.37" y="142.90" width="5.29" height="5.15" fill="rgb(195,217,247)"/>
<rect x="217.61" y="142.90" width="5.29" height="5.15" fill="rgb(232,240,250)"/>
<rect x="222.84" y="142.90" width="5.29" height="5.15" fill="rgb(97,155,233)"/>
<rect x="228.08" y="142.90" width="5.29" height="5.15" fill="rgb(128,176,237)"/>
<rect x="233.32" y="142.90" width="5.29" height="5.15" fill="rgb(162,197,242)"/>
<rect x="238.56" y="142.90" width="5.29" height="5.15" fill="rgb(252,247,242)"/>
<rect x="201.89" y="149.00" width="5.29" height="5.15" fill="rgb(248,180,125)"/>
<rect x="207.13" y="149.00" width="5.29" height="5.15" fill="rgb(195,217,247)"/>
<rect x="212.37" y="149.00" width="5.29" height="5.15" fill="rgb(248,180,125)"/>
<rect x="228.08" y="149.00" width="5.29" height="5.15" fill="rgb(250,206,167)"/>
<rect x="233.32" y="149.00" width="5.29" height="5.15" fill="rgb(250,206,167)"/>
<rect x="238.56" y="149.00" width="5.29" height="5.15" fill="rgb(240,244,251)"/>
<rect x="196.65" y="154.10" width="5.29" height="5.15" fill="rgb(232,240,250)"/>
<rect x="201.89" y="154.10" width="5.29" height="5.15" fill="rgb(250,243,237)"/>
<rect x="207.13" y="154.10" width="5.29" height="5.15" fill="rgb(128,176,237)"/>
<rect x="217.61" y="154.10" width="5.29" height="5.15" fill="rgb(128,176,237)"/>
<rect x="222.84" y="154.10" width="5.29" height="5.15" fill="rgb(234,241,250)"/>
<rect x="228.08" y="154.10" width="5.29" height="5.15" fill="rgb(240,244,251)"/>
<rect x="233.32" y="154.10" width="5.29" height="5.15" fill="rgb(250,206,167)"/>
<rect x="196.65" y="159.20" width="5.29" height="5.15" fill="rgb(195,217,247)"/>
<rect x="207.13" y="159.20" width="5.29" height="5.15" fill="rgb(252,247,242)"/>
<rect x="212.37" y="159.20" width="5.29" height="5.15" fill="rgb(234,241,250)"/>
<rect x="217.61" y="159.20" width="5.29" height="5.15" fill="rgb(162,197,242)"/>
<rect x="222.84" y="159.20" width="5.29" height="5.15" fill="rgb(195,217,247)"/>
<rect x="233.32" y="159.20" width="5.29" height="5.15" fill="rgb(244,154,82)"/>
<rect x="238.56" y="159.20" width="5.29" height="5.15" fill="rgb(195,217,247)"/>
<rect x="196.65" y="164.30" width="5.29" height="5.15" fill="rgb(195,217,247)"/>
<rect x="201.89" y="164.30" width="5.29" height="5.15" fill="rgb(234,241,250)"/>
<rect x="207.13" y="164.30" width="5.29" height="5.15" fill="rgb(240,244,251)"/>
<rect x="212.37" y="164.30" width="5.29" height="5.15" fill="rgb(248,180,125)"/>
<rect x="217.61" y="164.30" width="5.29" height="5.15" fill="rgb(250,206,167)"/>
<rect x="228.08" y="164.30" width="5.29" height="5.15" fill="rgb(228,237,249)"/>
<rect x="233.32" y="164.30" width="5.29" height="5.15" fill="rgb(232,240,250)"/>
<rect x="238.56" y="164.30" width="5.29" height="5.15" fill="rgb(250,243,237)"/>
<rect x="196.65" y="169.40" width="5.29" height="5.15" fill="rgb(195,217,247)"/>
<rect x="207.13" y="169.40" width="5.29" height="5.15" fill="rgb(128,176,237)"/>
<rect x="212.37" y="169.40" width="5.29" height="5.15" fill="rgb(128,176,237)"/>
<rect x="217.61" y="169.40" width="5.29" height="5.15" fill="rgb(128,176,237)"/>
<rect x="222.84" y="169.40" width="5.29" height="5.15" fill="rgb(128,176,237)"/>
<rect x="228.08" y="169.40" width="5.29" height="5.15" fill="rgb(244,154,82)"/>
<rect x="238.56" y="169.40" width="5.29" height="5.15" fill="rgb(250,206,167)"/>
<rect x="196.65" y="174.50" width="5.29" height="5.15" fill="rgb(195,217,247)"/>
<rect x="207.13" y="174.50" width="5.29" height="5.15" fill="rgb(228,237,249)"/>
<rect x="212.37" y="174.50" width="5.29" height="5.15" fill="rgb(244,154,82)"/>
<rect x="217.61" y="174.50" width="5.29" height="5.15" fill="rgb(250,243,237)"/>
<rect x="233.32" y="174.50" width="5.29" height="5.15" fill="rgb(162,197,242)"/>
<rect x="238.56" y="174.50" width="5.29" height="5.15" fill="rgb(234,241,250)"/>
<rect x="196.65" y="179.60" width="5.29" height="5.15" fill="rgb(244,154,82)"/>
<rect x="201.89" y="179.60" width="5.29" height="5.15" fill="rgb(250,206,167)"/>
<rect x="207.13" y="179.60" width="5.29" height="5.15" fill="rgb(128,176,237)"/>
<rect x="222.84" y="179.60" width="5.29" height="5.15" fill="rgb(252,247,242)"/>
<rect x="228.08" y="179.60" width="5.29" height="5.15" fill="rgb(248,180,125)"/>
<rect x="233.32" y="179.60" width="5.29" height="5.15" fill="rgb(240,244,251)"/>
<rect x="196.65" y="184.70" width="5.29" height="5.15" fill="rgb(238,116,16)"/>
<rect x="201.89" y="184.70" width="5.29" height="5.15" fill="rgb(250,206,167)"/>
<rect x="207.13" y="184.70" width="5.29" height="5.15" fill="rgb(128,176,237)"/>
<rect x="212.37" y="184.70" width="5.29" height="5.15" fill="rgb(128,176,237)"/>
<rect x="217.61" y="184.70" width="5.29" height="5.15" fill="rgb(128,176,237)"/>
<rect x="222.84" y="184.70" width="5.29" height="5.15" fill="rgb(195,217,247)"/>
<rect x="228.08" y="184.70" width="5.29" height="5.15" fill="rgb(195,217,247)"/>
<rect x="233.32" y="184.70" width="5.29" height="5.15" fill="rgb(128,176,237)"/>
<rect x="238.56" y="184.70" width="5.29" height="5.15" fill="rgb(97,155,233)"/>
<rect x="243.80" y="35.80" width="5.47" height="5.15" fill="rgb(240,244,251)"/>
<rect x="243.80" y="40.90" width="5.47" height="5.15" fill="rgb(238,116,16)"/>
<rect x="254.65" y="40.90" width="5.47" height="5.15" fill="rgb(228,237,249)"/>
<rect x="260.07" y="40.90" width="5.47" height="5.15" fill="rgb(232,240,250)"/>
<rect x="243.80" y="46.00" width="5.47" height="5.15" fill="rgb(228,237,249)"/>
<rect x="249.23" y="46.00" width="5.47" height="5.15" fill="rgb(232,240,250)"/>
<rect x="254.65" y="46.00" width="5.47" height="5.15" fill="rgb(244,154,82)"/>
<rect x="243.80" y="51.10" width="5.47" height="5.15" fill="rgb(248,180,125)"/>
<rect x="249.23" y="51.10" width="5.47" height="5.15" fill="rgb(250,206,167)"/>
<rect x="260.07" y="51.10" width="5.47" height="5.15" fill="rgb(250,206,167)"/>
<rect x="249.23" y="56.20" width="5.47" height="5.15" fill="rgb(252,247,242)"/>
<rect x="254.65" y="56.20" width="5.47" height="5.15" fill="rgb(234,241,250)"/>
<rect x="260.07" y="56.20" width="5.47" height="5.15" fill="rgb(240,244,251)"/>
<rect x="243.80" y="61.30" width="5.47" height="5.15" fill="rgb(234,241,250)"/>
<rect x="249.23" y="61.30" width="5.47" height="5.15" fill="rgb(195,217,247)"/>
<rect x="260.07" y="66.40" width="5.47" height="5.15" fill="rgb(248,180,125)"/>
<rect x="249.23" y="71.50" width="5.47" height="5.15" fill="rgb(128,176,237)"/>
<rect x="254.65" y="71.50" width="5.47" height="5.15" fill="rgb(232,240,250)"/>
<rect x="260.07" y="71.50" width="5.47" height="5.15" fill="rgb(238,116,16)"/>
<rect x="243.80" y="76.60" width="5.47" height="5.15" fill="rgb(232,240,250)"/>
<rect x="249.23" y="76.60" width="5.47" height="5.15" fill="rgb(250,243,237)"/>
<rect x="260.07" y="76.60" width="5.47" height="5.15" fill="rgb(238,116,16)"/>
<rect x="249.23" y="81.70" width="5.47" height="5.15" fill="rgb(250,206,167)"/>
<rect x="254.65" y="81.70" width="5.47" height="5.15" fill="rgb(252,247,242)"/>
<rect x="260.07" y="81.70" width="5.47" height="5.15" fill="rgb(234,241,250)"/>
<rect x="243.80" y="86.80" width="5.47" height="5.15" fill="rgb(252,247,242)"/>
<rect x="249.23" y="86.80" width="5.47" height="5.15" fill="rgb(195,217,247)"/>
<rect x="254.65" y="86.80" width="5.47" height="5.15" fill="rgb(240,244,251)"/>
<rect x="243.80" y="91.90" width="5.47" height="5.15" fill="rgb(240,244,251)"/>
<rect x="249.23" y="91.90" width="5.47" height="5.15" fill="rgb(195,217,247)"/>
<rect x="260.07" y="91.90" width="5.47" height="5.15" fill="rgb(250,206,167)"/>
<rect x="249.23" y="97.00" width="5.47" height="5.15" fill="rgb(248,180,125)"/>
<rect x="254.65" y="97.00" width="5.47" height="5.15" fill="rgb(228,237,249)"/>
<rect x="260.07" y="97.00" width="5.47" height="5.15" fill="rgb(232,240,250)"/>
<rect x="243.80" y="102.10" width="5.47" height="5.15" fill="rgb(228,237,249)"/>
<rect x="249.23" y="102.10" width="5.47" height="5.15" fill="rgb(238,116,16)"/>
<rect x="254.65" y="102.10" width="5.47" height="5.15" fill="rgb(250,243,237)"/>
<rect x="243.80" y="107.20" width="5.47" height="5.15" fill="rgb(250,243,237)"/>
<rect x="260.07" y="107.20" width="5.47" height="5.15" fill="rgb(252,247,242)"/>
<rect x="249.23" y="112.30" width="5.47" height="5.15" fill="rgb(252,247,242)"/>
<rect x="254.65" y="112.30" width="5.47" height="5.15" fill="rgb(234,241,250)"/>
<rect x="260.07" y="112.30" width="5.47" height="5.15" fill="rgb(240,244,251)"/>
<rect x="243.80" y="117.40" width="5.47" height="5.15" fill="rgb(234,241,250)"/>
<rect x="249.23" y="117.40" width="5.47" height="5.15" fill="rgb(238,116,16)"/>
<rect x="249.23" y="122.50" width="5.47" height="5.15" fill="rgb(238,116,16)"/>
<rect x="260.07" y="122.50" width="5.47" height="5.15" fill="rgb(195,217,247)"/>
<rect x="249.23" y="127.60" width="5.47" height="5.15" fill="rgb(228,237,249)"/>
<rect x="254.65" y="127.60" width="5.47" height="5.15" fill="rgb(232,240,250)"/>
<rect x="260.07" y="127.60" width="5.47" height="5.15" fill="rgb(195,217,247)"/>
<rect x="243.80" y="132.70" width="5.47" height="5.15" fill="rgb(232,240,250)"/>
<rect x="249.23" y="132.70" width="5.47" height="5.15" fill="rgb(250,243,237)"/>
<rect x="254.65" y="137.80" width="5.47" height="5.15" fill="rgb(252,247,242)"/>
<rect x="260.07" y="137.80" width="5.47" height="5.15" fill="rgb(238,116,16)"/>
<rect x="243.80" y="142.90" width="5.47" height="5.15" fill="rgb(252,247,242)"/>
<rect x="249.23" y="142.90" width="5.47" height="5.15" fill="rgb(128,176,237)"/>
<rect x="254.65" y="142.90" width="5.47" height="5.15" fill="rgb(240,244,251)"/>
<rect x="260.07" y="142.90" width="5.47" height="5.15" fill="rgb(238,116,16)"/>
<rect x="243.80" y="149.00" width="5.47" height="5.15" fill="rgb(240,244,251)"/>
<rect x="254.65" y="149.00" width="5.47" height="5.15" fill="rgb(195,217,247)"/>
<rect x="243.80" y="154.10" width="5.47" height="5.15" fill="rgb(240,129,40)"/>
<rect x="249.23" y="154.10" width="5.47" height="5.15" fill="rgb(240,129,40)"/>
<rect x="254.65" y="154.10" width="5.47" height="5.15" fill="rgb(195,217,247)"/>
<rect x="260.07" y="154.10" width="5.47" height="5.15" fill="rgb(232,240,250)"/>
<rect x="243.80" y="159.20" width="5.47" height="5.15" fill="rgb(195,217,247)"/>
<rect x="249.23" y="159.20" width="5.47" height="5.15" fill="rgb(232,240,250)"/>
<rect x="254.65" y="159.20" width="5.47" height="5.15" fill="rgb(195,217,247)"/>
<rect x="243.80" y="164.30" width="5.47" height="5.15" fill="rgb(250,206,167)"/>
<rect x="260.07" y="164.30" width="5.47" height="5.15" fill="rgb(252,247,242)"/>
<rect x="249.23" y="169.40" width="5.47" height="5.15" fill="rgb(195,217,247)"/>
<rect x="254.65" y="169.40" width="5.47" height="5.15" fill="rgb(234,241,250)"/>
<rect x="260.07" y="169.40" width="5.47" height="5.15" fill="rgb(238,116,16)"/>
<rect x="243.80" y="174.50" width="5.47" height="5.15" fill="rgb(250,206,167)"/>
<rect x="249.23" y="174.50" width="5.47" height="5.15" fill="rgb(248,180,125)"/>
<rect x="260.07" y="174.50" width="5.47" height="5.15" fill="rgb(238,116,16)"/>
<rect x="243.80" y="179.60" width="5.47" height="5.15" fill="rgb(238,116,16)"/>
<rect x="254.65" y="179.60" width="5.47" height="5.15" fill="rgb(240,129,40)"/>
<rect x="260.07" y="179.60" width="5.47" height="5.15" fill="rgb(238,116,16)"/>
<rect x="243.80" y="184.70" width="5.47" height="5.15" fill="rgb(195,217,247)"/>
<rect x="249.23" y="184.70" width="5.47" height="5.15" fill="rgb(228,237,249)"/>
<rect x="254.65" y="184.70" width="5.47" height="5.15" fill="rgb(195,217,247)"/>
<rect x="260.07" y="184.70" width="5.47" height="5.15" fill="rgb(238,116,16)"/>
<rect x="265.50" y="35.80" width="5.30" height="5.15" fill="rgb(240,244,251)"/>
<rect x="281.25" y="35.80" width="5.30" height="5.15" fill="rgb(162,197,242)"/>
<rect x="286.50" y="35.80" width="5.30" height="5.15" fill="rgb(228,237,249)"/>
<rect x="291.75" y="35.80" width="5.30" height="5.15" fill="rgb(232,240,250)"/>
<rect x="297.00" y="35.80" width="5.30" height="5.15" fill="rgb(250,243,237)"/>
<rect x="270.75" y="40.90" width="5.30" height="5.15" fill="rgb(195,217,247)"/>
<rect x="276.00" y="40.90" width="5.30" height="5.15" fill="rgb(228,237,249)"/>
<rect x="281.25" y="40.90" width="5.30" height="5.15" fill="rgb(248,180,125)"/>
<rect x="286.50" y="40.90" width="5.30" height="5.15" fill="rgb(250,243,237)"/>
<rect x="302.25" y="40.90" width="5.30" height="5.15" fill="rgb(195,217,247)"/>
<rect x="265.50" y="46.00" width="5.30" height="5.15" fill="rgb(250,206,167)"/>
<rect x="270.75" y="46.00" width="5.30" height="5.15" fill="rgb(128,176,237)"/>
<rect x="276.00" y="46.00" width="5.30" height="5.15" fill="rgb(195,217,247)"/>
<rect x="291.75" y="46.00" width="5.30" height="5.15" fill="rgb(252,247,242)"/>
<rect x="297.00" y="46.00" width="5.30" height="5.15" fill="rgb(234,241,250)"/>
<rect x="302.25" y="46.00" width="5.30" height="5.15" fill="rgb(250,206,167)"/>
<rect x="265.50" y="51.10" width="5.30" height="5.15" fill="rgb(250,243,237)"/>
<rect x="270.75" y="51.10" width="5.30" height="5.15" fill="rgb(128,176,237)"/>
<rect x="276.00" y="51.10" width="5.30" height="5.15" fill="rgb(195,217,247)"/>
<rect x="281.25" y="51.10" width="5.30" height="5.15" fill="rgb(250,206,167)"/>
<rect x="286.50" y="51.10" width="5.30" height="5.15" fill="rgb(234,241,250)"/>
<rect x="291.75" y="51.10" width="5.30" height="5.15" fill="rgb(240,244,251)"/>
<rect x="265.50" y="56.20" width="5.30" height="5.15" fill="rgb(238,116,16)"/>
<rect x="270.75" y="56.20" width="5.30" height="5.15" fill="rgb(252,247,242)"/>
<rect x="276.00" y="56.20" width="5.30" height="5.15" fill="rgb(234,241,250)"/>
<rect x="281.25" y="56.20" width="5.30" height="5.15" fill="rgb(128,176,237)"/>
<rect x="297.00" y="56.20" width="5.30" height="5.15" fill="rgb(195,217,247)"/>
<rect x="302.25" y="56.20" width="5.30" height="5.15" fill="rgb(228,237,249)"/>
<rect x="265.50" y="61.30" width="5.30" height="5.15" fill="rgb(250,206,167)"/>
<rect x="270.75" y="61.30" width="5.30" height="5.15" fill="rgb(238,116,16)"/>
<rect x="276.00" y="61.30" width="5.30" height="5.15" fill="rgb(250,206,167)"/>
<rect x="286.50" y="61.30" width="5.30" height="5.15" fill="rgb(162,197,242)"/>
<rect x="291.75" y="61.30" width="5.30" height="5.15" fill="rgb(228,237,249)"/>
<rect x="297.00" y="61.30" width="5.30" height="5.15" fill="rgb(238,116,16)"/>
<rect x="302.25" y="61.30" width="5.30" height="5.15" fill="rgb(195,217,247)"/>
<rect x="265.50" y="66.40" width="5.30" height="5.15" fill="rgb(240,129,40)"/>
<rect x="270.75" y="66.40" width="5.30" height="5.15" fill="rgb(250,206,167)"/>
<rect x="281.25" y="66.40" width="5.30" height="5.15" fill="rgb(228,237,249)"/>
<rect x="286.50" y="66.40" width="5.30" height="5.15" fill="rgb(232,240,250)"/>
<rect x="291.75" y="66.40" width="5.30" height="5.15" fill="rgb(250,243,237)"/>
<rect x="297.00" y="66.40" width="5.30" height="5.15" fill="rgb(244,154,82)"/>
<rect x="265.50" y="71.50" width="5.30" height="5.15" fill="rgb(195,217,247)"/>
<rect x="270.75" y="71.50" width="5.30" height="5.15" fill="rgb(250,206,167)"/>
<rect x="276.00" y="71.50" width="5.30" height="5.15" fill="rgb(128,176,237)"/>
<rect x="281.25" y="71.50" width="5.30" height="5.15" fill="rgb(128,176,237)"/>
<rect x="286.50" y="71.50" width="5.30" height="5.15" fill="rgb(195,217,247)"/>
<rect x="297.00" y="71.50" width="5.30" height="5.15" fill="rgb(162,197,242)"/>
<rect x="302.25" y="71.50" width="5.30" height="5.15" fill="rgb(162,197,242)"/>
<rect x="265.50" y="76.60" width="5.30" height="5.15" fill="rgb(232,240,250)"/>
<rect x="270.75" y="76.60" width="5.30" height="5.15" fill="rgb(250,206,167)"/>
<rect x="276.00" y="76.60" width="5.30" height="5.15" fill="rgb(128,176,237)"/>
<rect x="286.50" y="76.60" width="5.30" height="5.15" fill="rgb(162,197,242)"/>
<rect x="291.75" y="76.60" width="5.30" height="5.15" fill="rgb(234,241,250)"/>
<rect x="297.00" y="76.60" width="5.30" height="5.15" fill="rgb(240,244,251)"/>
<rect x="276.00" y="81.70" width="5.30" height="5.15" fill="rgb(252,247,242)"/>
<rect x="281.25" y="81.70" width="5.30" height="5.15" fill="rgb(250,206,167)"/>
<rect x="286.50" y="81.70" width="5.30" height="5.15" fill="rgb(240,244,251)"/>
<rect x="302.25" y="81.70" width="5.30" height="5.15" fill="rgb(248,180,125)"/>
<rect x="265.50" y="86.80" width="5.30" height="5.15" fill="rgb(244,154,82)"/>
<rect x="270.75" y="86.80" width="5.30" height="5.15" fill="rgb(234,241,250)"/>
<rect x="276.00" y="86.80" width="5.30" height="5.15" fill="rgb(244,154,82)"/>
<rect x="281.25" y="86.80" width="5.30" height="5.15" fill="rgb(195,217,247)"/>
<rect x="286.50" y="86.80" width="5.30" height="5.15" fill="rgb(244,154,82)"/>
<rect x="297.00" y="86.80" width="5.30" height="5.15" fill="rgb(228,237,249)"/>
<rect x="302.25" y="86.80" width="5.30" height="5.15" fill="rgb(232,240,250)"/>
<rect x="265.50" y="91.90" width="5.30" height="5.15" fill="rgb(250,206,167)"/>
<rect x="270.75" y="91.90" width="5.30" height="5.15" fill="rgb(250,206,167)"/>
<rect x="281.25" y="91.90" width="5.30" height="5.15" fill="rgb(128,176,237)"/>
<rect x="286.50" y="91.90" width="5.30" height="5.15" fill="rgb(228,237,249)"/>
<rect x="291.75" y="91.90" width="5.30" height="5.15" fill="rgb(232,240,250)"/>
<rect x="297.00" y="91.90" width="5.30" height="5.15" fill="rgb(195,217,247)"/>
<rect x="265.50" y="97.00" width="5.30" height="5.15" fill="rgb(238,116,16)"/>
<rect x="270.75" y="97.00" width="5.30" height="5.15" fill="rgb(238,116,16)"/>
<rect x="276.00" y="97.00" width="5.30" height="5.15" fill="rgb(238,116,16)"/>
<rect x="281.25" y="97.00" width="5.30" height="5.15" fill="rgb(238,116,16)"/>
<rect x="286.50" y="97.00" width="5.30" height="5.15" fill="rgb(238,116,16)"/>
<rect x="291.75" y="97.00" width="5.30" height="5.15" fill="rgb(238,116,16)"/>
<rect x="297.00" y="97.00" width="5.30" height="5.15" fill="rgb(238,116,16)"/>
<rect x="302.25" y="97.00" width="5.30" height="5.15" fill="rgb(238,116,16)"/>
<rect x="265.50" y="102.10" width="5.30" height="5.15" fill="rgb(248,180,125)"/>
<rect x="270.75" y="102.10" width="5.30" height="5.15" fill="rgb(128,176,237)"/>
<rect x="276.00" y="102.10" width="5.30" height="5.15" fill="rgb(250,243,237)"/>
<rect x="281.25" y="102.10" width="5.30" height="5.15" fill="rgb(128,176,237)"/>
<rect x="291.75" y="102.10" width="5.30" height="5.15" fill="rgb(252,247,242)"/>
<rect x="297.00" y="102.10" width="5.30" height="5.15" fill="rgb(234,241,250)"/>
<rect x="302.25" y="102.10" width="5.30" height="5.15" fill="rgb(240,244,251)"/>
<rect x="265.50" y="107.20" width="5.30" height="5.15" fill="rgb(250,243,237)"/>
<rect x="276.00" y="107.20" width="5.30" height="5.15" fill="rgb(250,206,167)"/>
<rect x="281.25" y="107.20" width="5.30" height="5.15" fill="rgb(250,206,167)"/>
<rect x="286.50" y="107.20" width="5.30" height="5.15" fill="rgb(234,241,250)"/>
<rect x="291.75" y="107.20" width="5.30" height="5.15" fill="rgb(240,244,251)"/>
<rect x="270.75" y="112.30" width="5.30" height="5.15" fill="rgb(252,247,242)"/>
<rect x="276.00" y="112.30" width="5.30" height="5.15" fill="rgb(234,241,250)"/>
<rect x="281.25" y="112.30" width="5.30" height="5.15" fill="rgb(240,244,251)"/>
<rect x="286.50" y="112.30" width="5.30" height="5.15" fill="rgb(238,116,16)"/>
<rect x="302.25" y="112.30" width="5.30" height="5.15" fill="rgb(228,237,249)"/>
<rect x="265.50" y="117.40" width="5.30" height="5.15" fill="rgb(234,241,250)"/>
<rect x="270.75" y="117.40" width="5.30" height="5.15" fill="rgb(240,244,251)"/>
<rect x="276.00" y="117.40" width="5.30" height="5.15" fill="rgb(62,130,226)"/>
<rect x="281.25" y="117.40" width="5.30" height="5.15" fill="rgb(248,180,125)"/>
<rect x="286.50" y="117.40" width="5.30" height="5.15" fill="rgb(195,217,247)"/>
<rect x="291.75" y="117.40" width="5.30" height="5.15" fill="rgb(244,154,82)"/>
<rect x="297.00" y="117.40" width="5.30" height="5.15" fill="rgb(250,206,167)"/>
<rect x="302.25" y="117.40" width="5.30" height="5.15" fill="rgb(250,243,237)"/>
<rect x="276.00" y="122.50" width="5.30" height="5.15" fill="rgb(248,180,125)"/>
<rect x="281.25" y="122.50" width="5.30" height="5.15" fill="rgb(244,154,82)"/>
<rect x="286.50" y="122.50" width="5.30" height="5.15" fill="rgb(232,240,250)"/>
<rect x="291.75" y="122.50" width="5.30" height="5.15" fill="rgb(250,243,237)"/>
<rect x="297.00" y="122.50" width="5.30" height="5.15" fill="rgb(195,217,247)"/>
<rect x="265.50" y="127.60" width="5.30" height="5.15" fill="rgb(195,217,247)"/>
<rect x="270.75" y="127.60" width="5.30" height="5.15" fill="rgb(195,217,247)"/>
<rect x="276.00" y="127.60" width="5.30" height="5.15" fill="rgb(232,240,250)"/>
<rect x="281.25" y="127.60" width="5.30" height="5.15" fill="rgb(195,217,247)"/>
<rect x="297.00" y="127.60" width="5.30" height="5.15" fill="rgb(252,247,242)"/>
<rect x="302.25" y="127.60" width="5.30" height="5.15" fill="rgb(162,197,242)"/>
<rect x="265.50" y="132.70" width="5.30" height="5.15" fill="rgb(195,217,247)"/>
<rect x="270.75" y="132.70" width="5.30" height="5.15" fill="rgb(250,243,237)"/>
<rect x="276.00" y="132.70" width="5.30" height="5.15" fill="rgb(195,217,247)"/>
<rect x="281.25" y="132.70" width="5.30" height="5.15" fill="rgb(244,154,82)"/>
<rect x="286.50" y="132.70" width="5.30" height="5.15" fill="rgb(128,176,237)"/>
<rect x="291.75" y="132.70" width="5.30" height="5.15" fill="rgb(234,241,250)"/>
<rect x="297.00" y="132.70" width="5.30" height="5.15" fill="rgb(240,244,251)"/>
<rect x="265.50" y="137.80" width="5.30" height="5.15" fill="rgb(195,217,247)"/>
<rect x="276.00" y="137.80" width="5.30" height="5.15" fill="rgb(252,247,242)"/>
<rect x="281.25" y="137.80" width="5.30" height="5.15" fill="rgb(128,176,237)"/>
<rect x="286.50" y="137.80" width="5.30" height="5.15" fill="rgb(240,244,251)"/>
<rect x="297.00" y="137.80" width="5.30" height="5.15" fill="rgb(195,217,247)"/>
<rect x="265.50" y="142.90" width="5.30" height="5.15" fill="rgb(195,217,247)"/>
<rect x="270.75" y="142.90" width="5.30" height="5.15" fill="rgb(234,241,250)"/>
<rect x="276.00" y="142.90" width="5.30" height="5.15" fill="rgb(238,116,16)"/>
<rect x="281.25" y="142.90" width="5.30" height="5.15" fill="rgb(195,217,247)"/>
<rect x="297.00" y="142.90" width="5.30" height="5.15" fill="rgb(228,237,249)"/>
<rect x="302.25" y="142.90" width="5.30" height="5.15" fill="rgb(244,154,82)"/>
<rect x="265.50" y="149.00" width="5.30" height="5.15" fill="rgb(250,206,167)"/>
<rect x="270.75" y="149.00" width="5.30" height="5.15" fill="rgb(128,176,237)"/>
<rect x="281.25" y="149.00" width="5.30" height="5.15" fill="rgb(128,176,237)"/>
<rect x="286.50" y="149.00" width="5.30" height="5.15" fill="rgb(228,237,249)"/>
<rect x="291.75" y="149.00" width="5.30" height="5.15" fill="rgb(250,206,167)"/>
<rect x="297.00" y="149.00" width="5.30" height="5.15" fill="rgb(250,243,237)"/>
<rect x="265.50" y="154.10" width="5.30" height="5.15" fill="rgb(250,206,167)"/>
<rect x="270.75" y="154.10" width="5.30" height="5.15" fill="rgb(128,176,237)"/>
<rect x="276.00" y="154.10" width="5.30" height="5.15" fill="rgb(228,237,249)"/>
<rect x="281.25" y="154.10" width="5.30" height="5.15" fill="rgb(128,176,237)"/>
<rect x="286.50" y="154.10" width="5.30" height="5.15" fill="rgb(250,206,167)"/>
<rect x="302.25" y="154.10" width="5.30" height="5.15" fill="rgb(252,247,242)"/>
<rect x="265.50" y="159.20" width="5.30" height="5.15" fill="rgb(238,116,16)"/>
<rect x="270.75" y="159.20" width="5.30" height="5.15" fill="rgb(238,116,16)"/>
<rect x="276.00" y="159.20" width="5.30" height="5.15" fill="rgb(238,116,16)"/>
<rect x="281.25" y="159.20" width="5.30" height="5.15" fill="rgb(238,116,16)"/>
<rect x="286.50" y="159.20" width="5.30" height="5.15" fill="rgb(238,116,16)"/>
<rect x="291.75" y="159.20" width="5.30" height="5.15" fill="rgb(238,116,16)"/>
<rect x="297.00" y="159.20" width="5.30" height="5.15" fill="rgb(238,116,16)"/>
<rect x="302.25" y="159.20" width="5.30" height="5.15" fill="rgb(238,116,16)"/>
<rect x="265.50" y="164.30" width="5.30" height="5.15" fill="rgb(250,243,237)"/>
<rect x="281.25" y="164.30" width="5.30" height="5.15" fill="rgb(252,247,242)"/>
<rect x="286.50" y="164.30" width="5.30" height="5.15" fill="rgb(234,241,250)"/>
<rect x="291.75" y="164.30" width="5.30" height="5.15" fill="rgb(240,244,251)"/>
<rect x="265.50" y="169.40" width="5.30" height="5.15" fill="rgb(244,154,82)"/>
<rect x="270.75" y="169.40" width="5.30" height="5.15" fill="rgb(250,206,167)"/>
<rect x="276.00" y="169.40" width="5.30" height="5.15" fill="rgb(234,241,250)"/>
<rect x="281.25" y="169.40" width="5.30" height="5.15" fill="rgb(128,176,237)"/>
<rect x="286.50" y="169.40" width="5.30" height="5.15" fill="rgb(250,206,167)"/>
<rect x="302.25" y="169.40" width="5.30" height="5.15" fill="rgb(228,237,249)"/>
<rect x="265.50" y="174.50" width="5.30" height="5.15" fill="rgb(234,241,250)"/>
<rect x="270.75" y="174.50" width="5.30" height="5.15" fill="rgb(162,197,242)"/>
<rect x="281.25" y="174.50" width="5.30" height="5.15" fill="rgb(250,206,167)"/>
<rect x="291.75" y="174.50" width="5.30" height="5.15" fill="rgb(228,237,249)"/>
<rect x="297.00" y="174.50" width="5.30" height="5.15" fill="rgb(195,217,247)"/>
<rect x="302.25" y="174.50" width="5.30" height="5.15" fill="rgb(238,116,16)"/>
<rect x="265.50" y="179.60" width="5.30" height="5.15" fill="rgb(250,206,167)"/>
<rect x="270.75" y="179.60" width="5.30" height="5.15" fill="rgb(250,206,167)"/>
<rect x="281.25" y="179.60" width="5.30" height="5.15" fill="rgb(162,197,242)"/>
<rect x="286.50" y="179.60" width="5.30" height="5.15" fill="rgb(232,240,250)"/>
<rect x="291.75" y="179.60" width="5.30" height="5.15" fill="rgb(250,243,237)"/>
<rect x="297.00" y="179.60" width="5.30" height="5.15" fill="rgb(128,176,237)"/>
<rect x="265.50" y="184.70" width="5.30" height="5.15" fill="rgb(195,217,247)"/>
<rect x="270.75" y="184.70" width="5.30" height="5.15" fill="rgb(228,237,249)"/>
<rect x="276.00" y="184.70" width="5.30" height="5.15" fill="rgb(195,217,247)"/>
<rect x="281.25" y="184.70" width="5.30" height="5.15" fill="rgb(128,176,237)"/>
<rect x="297.00" y="184.70" width="5.30" height="5.15" fill="rgb(195,217,247)"/>
<rect x="302.25" y="184.70" width="5.30" height="5.15" fill="rgb(195,217,247)"/>
<rect x="318.07" y="35.80" width="5.34" height="5.15" fill="rgb(228,237,249)"/>
<rect x="323.36" y="35.80" width="5.34" height="5.15" fill="rgb(232,240,250)"/>
<rect x="328.65" y="35.80" width="5.34" height="5.15" fill="rgb(250,243,237)"/>
<rect x="339.23" y="35.80" width="5.34" height="5.15" fill="rgb(251,229,208)"/>
<rect x="344.51" y="35.80" width="5.34" height="5.15" fill="rgb(252,247,242)"/>
<rect x="307.50" y="40.90" width="5.34" height="5.15" fill="rgb(228,237,249)"/>
<rect x="312.79" y="40.90" width="5.34" height="5.15" fill="rgb(222,234,250)"/>
<rect x="318.07" y="40.90" width="5.34" height="5.15" fill="rgb(250,243,237)"/>
<rect x="328.65" y="40.90" width="5.34" height="5.15" fill="rgb(222,234,250)"/>
<rect x="333.94" y="40.90" width="5.34" height="5.15" fill="rgb(252,247,242)"/>
<rect x="339.23" y="40.90" width="5.34" height="5.15" fill="rgb(234,241,250)"/>
<rect x="344.51" y="40.90" width="5.34" height="5.15" fill="rgb(240,244,251)"/>
<rect x="307.50" y="46.00" width="5.34" height="5.15" fill="rgb(250,243,237)"/>
<rect x="323.36" y="46.00" width="5.34" height="5.15" fill="rgb(252,247,242)"/>
<rect x="328.65" y="46.00" width="5.34" height="5.15" fill="rgb(248,180,125)"/>
<rect x="333.94" y="46.00" width="5.34" height="5.15" fill="rgb(240,244,251)"/>
<rect x="339.23" y="46.00" width="5.34" height="5.15" fill="rgb(240,129,40)"/>
<rect x="312.79" y="51.10" width="5.34" height="5.15" fill="rgb(252,247,242)"/>
<rect x="318.07" y="51.10" width="5.34" height="5.15" fill="rgb(234,241,250)"/>
<rect x="323.36" y="51.10" width="5.34" height="5.15" fill="rgb(240,244,251)"/>
<rect x="339.23" y="51.10" width="5.34" height="5.15" fill="rgb(195,217,247)"/>
<rect x="344.51" y="51.10" width="5.34" height="5.15" fill="rgb(228,237,249)"/>
<rect x="307.50" y="56.20" width="5.34" height="5.15" fill="rgb(234,241,250)"/>
<rect x="312.79" y="56.20" width="5.34" height="5.15" fill="rgb(240,244,251)"/>
<rect x="333.94" y="56.20" width="5.34" height="5.15" fill="rgb(228,237,249)"/>
<rect x="339.23" y="56.20" width="5.34" height="5.15" fill="rgb(250,206,167)"/>
<rect x="344.51" y="56.20" width="5.34" height="5.15" fill="rgb(250,243,237)"/>
<rect x="307.50" y="61.30" width="5.34" height="5.15" fill="rgb(248,180,125)"/>
<rect x="312.79" y="61.30" width="5.34" height="5.15" fill="rgb(248,180,125)"/>
<rect x="323.36" y="61.30" width="5.34" height="5.15" fill="rgb(228,237,249)"/>
<rect x="328.65" y="61.30" width="5.34" height="5.15" fill="rgb(232,240,250)"/>
<rect x="333.94" y="61.30" width="5.34" height="5.15" fill="rgb(250,243,237)"/>
<rect x="339.23" y="61.30" width="5.34" height="5.15" fill="rgb(250,206,167)"/>
<rect x="307.50" y="66.40" width="5.34" height="5.15" fill="rgb(238,116,16)"/>
<rect x="312.79" y="66.40" width="5.34" height="5.15" fill="rgb(248,180,125)"/>
<rect x="318.07" y="66.40" width="5.34" height="5.15" fill="rgb(232,240,250)"/>
<rect x="323.36" y="66.40" width="5.34" height="5.15" fill="rgb(250,243,237)"/>
<rect x="328.65" y="66.40" width="5.34" height="5.15" fill="rgb(251,229,208)"/>
<rect x="333.94" y="66.40" width="5.34" height="5.15" fill="rgb(238,116,16)"/>
<rect x="339.23" y="66.40" width="5.34" height="5.15" fill="rgb(248,180,125)"/>
<rect x="344.51" y="66.40" width="5.34" height="5.15" fill="rgb(248,180,125)"/>
<rect x="307.50" y="71.50" width="5.34" height="5.15" fill="rgb(232,240,250)"/>
<rect x="312.79" y="71.50" width="5.34" height="5.15" fill="rgb(248,180,125)"/>
<rect x="328.65" y="71.50" width="5.34" height="5.15" fill="rgb(252,247,242)"/>
<rect x="333.94" y="71.50" width="5.34" height="5.15" fill="rgb(234,241,250)"/>
<rect x="339.23" y="71.50" width="5.34" height="5.15" fill="rgb(250,206,167)"/>
<rect x="312.79" y="76.60" width="5.34" height="5.15" fill="rgb(250,206,167)"/>
<rect x="318.07" y="76.60" width="5.34" height="5.15" fill="rgb(252,247,242)"/>
<rect x="323.36" y="76.60" width="5.34" height="5.15" fill="rgb(234,241,250)"/>
<rect x="328.65" y="76.60" width="5.34" height="5.15" fill="rgb(240,244,251)"/>
<rect x="339.23" y="76.60" width="5.34" height="5.15" fill="rgb(251,229,208)"/>
<rect x="307.50" y="81.70" width="5.34" height="5.15" fill="rgb(252,247,242)"/>
<rect x="312.79" y="81.70" width="5.34" height="5.15" fill="rgb(238,116,16)"/>
<rect x="318.07" y="81.70" width="5.34" height="5.15" fill="rgb(240,244,251)"/>
<rect x="339.23" y="81.70" width="5.34" height="5.15" fill="rgb(228,237,249)"/>
<rect x="344.51" y="81.70" width="5.34" height="5.15" fill="rgb(232,240,250)"/>
<rect x="307.50" y="86.80" width="5.34" height="5.15" fill="rgb(240,244,251)"/>
<rect x="312.79" y="86.80" width="5.34" height="5.15" fill="rgb(251,229,208)"/>
<rect x="328.65" y="86.80" width="5.34" height="5.15" fill="rgb(228,237,249)"/>
<rect x="333.94" y="86.80" width="5.34" height="5.15" fill="rgb(232,240,250)"/>
<rect x="339.23" y="86.80" width="5.34" height="5.15" fill="rgb(238,116,16)"/>
<rect x="307.50" y="91.90" width="5.34" height="5.15" fill="rgb(248,180,125)"/>
<rect x="318.07" y="91.90" width="5.34" height="5.15" fill="rgb(228,237,249)"/>
<rect x="323.36" y="91.90" width="5.34" height="5.15" fill="rgb(232,240,250)"/>
<rect x="328.65" y="91.90" width="5.34" height="5.15" fill="rgb(250,243,237)"/>
<rect x="339.23" y="91.90" width="5.34" height="5.15" fill="rgb(248,180,125)"/>
<rect x="344.51" y="91.90" width="5.34" height="5.15" fill="rgb(252,247,242)"/>
<rect x="307.50" y="97.00" width="5.34" height="5.15" fill="rgb(238,116,16)"/>
<rect x="312.79" y="97.00" width="5.34" height="5.15" fill="rgb(238,116,16)"/>
<rect x="318.07" y="97.00" width="5.34" height="5.15" fill="rgb(238,116,16)"/>
<rect x="323.36" y="97.00" width="5.34" height="5.15" fill="rgb(238,116,16)"/>
<rect x="328.65" y="97.00" width="5.34" height="5.15" fill="rgb(238,116,16)"/>
<rect x="333.94" y="97.00" width="5.34" height="5.15" fill="rgb(238,116,16)"/>
<rect x="339.23" y="97.00" width="5.34" height="5.15" fill="rgb(238,116,16)"/>
<rect x="344.51" y="97.00" width="5.34" height="5.15" fill="rgb(240,129,40)"/>
<rect x="307.50" y="102.10" width="5.34" height="5.15" fill="rgb(250,243,237)"/>
<rect x="312.79" y="102.10" width="5.34" height="5.15" fill="rgb(248,180,125)"/>
<rect x="323.36" y="102.10" width="5.34" height="5.15" fill="rgb(252,247,242)"/>
<rect x="328.65" y="102.10" width="5.34" height="5.15" fill="rgb(234,241,250)"/>
<rect x="333.94" y="102.10" width="5.34" height="5.15" fill="rgb(240,244,251)"/>
<rect x="339.23" y="102.10" width="5.34" height="5.15" fill="rgb(251,229,208)"/>
<rect x="312.79" y="107.20" width="5.34" height="5.15" fill="rgb(252,247,242)"/>
<rect x="318.07" y="107.20" width="5.34" height="5.15" fill="rgb(234,241,250)"/>
<rect x="323.36" y="107.20" width="5.34" height="5.15" fill="rgb(240,244,251)"/>
<rect x="344.51" y="107.20" width="5.34" height="5.15" fill="rgb(228,237,249)"/>
<rect x="307.50" y="112.30" width="5.34" height="5.15" fill="rgb(234,241,250)"/>
<rect x="312.79" y="112.30" width="5.34" height="5.15" fill="rgb(240,244,251)"/>
<rect x="333.94" y="112.30" width="5.34" height="5.15" fill="rgb(228,237,249)"/>
<rect x="339.23" y="112.30" width="5.34" height="5.15" fill="rgb(232,240,250)"/>
<rect x="344.51" y="112.30" width="5.34" height="5.15" fill="rgb(250,243,237)"/>
<rect x="323.36" y="117.40" width="5.34" height="5.15" fill="rgb(240,129,40)"/>
<rect x="328.65" y="117.40" width="5.34" height="5.15" fill="rgb(232,240,250)"/>
<rect x="333.94" y="117.40" width="5.34" height="5.15" fill="rgb(250,243,237)"/>
<rect x="312.79" y="122.50" width="5.34" height="5.15" fill="rgb(228,237,249)"/>
<rect x="318.07" y="122.50" width="5.34" height="5.15" fill="rgb(232,240,250)"/>
<rect x="323.36" y="122.50" width="5.34" height="5.15" fill="rgb(250,243,237)"/>
<rect x="333.94" y="122.50" width="5.34" height="5.15" fill="rgb(251,229,208)"/>
<rect x="339.23" y="122.50" width="5.34" height="5.15" fill="rgb(252,247,242)"/>
<rect x="344.51" y="122.50" width="5.34" height="5.15" fill="rgb(234,241,250)"/>
<rect x="307.50" y="127.60" width="5.34" height="5.15" fill="rgb(232,240,250)"/>
<rect x="312.79" y="127.60" width="5.34" height="5.15" fill="rgb(250,243,237)"/>
<rect x="328.65" y="127.60" width="5.34" height="5.15" fill="rgb(252,247,242)"/>
<rect x="333.94" y="127.60" width="5.34" height="5.15" fill="rgb(234,241,250)"/>
<rect x="339.23" y="127.60" width="5.34" height="5.15" fill="rgb(251,229,208)"/>
<rect x="318.07" y="132.70" width="5.34" height="5.15" fill="rgb(252,247,242)"/>
<rect x="323.36" y="132.70" width="5.34" height="5.15" fill="rgb(234,241,250)"/>
<rect x="328.65" y="132.70" width="5.34" height="5.15" fill="rgb(240,244,251)"/>
<rect x="307.50" y="137.80" width="5.34" height="5.15" fill="rgb(252,247,242)"/>
<rect x="312.79" y="137.80" width="5.34" height="5.15" fill="rgb(238,116,16)"/>
<rect x="318.07" y="137.80" width="5.34" height="5.15" fill="rgb(240,244,251)"/>
<rect x="333.94" y="137.80" width="5.34" height="5.15" fill="rgb(240,129,40)"/>
<rect x="339.23" y="137.80" width="5.34" height="5.15" fill="rgb(238,116,16)"/>
<rect x="344.51" y="137.80" width="5.34" height="5.15" fill="rgb(232,240,250)"/>
<rect x="307.50" y="142.90" width="5.34" height="5.15" fill="rgb(240,244,251)"/>
<rect x="312.79" y="142.90" width="5.34" height="5.15" fill="rgb(250,206,167)"/>
<rect x="328.65" y="142.90" width="5.34" height="5.15" fill="rgb(228,237,249)"/>
<rect x="333.94" y="142.90" width="5.34" height="5.15" fill="rgb(238,116,16)"/>
<rect x="339.23" y="142.90" width="5.34" height="5.15" fill="rgb(238,116,16)"/>
<rect x="307.50" y="149.00" width="5.34" height="5.15" fill="rgb(195,217,247)"/>
<rect x="318.07" y="149.00" width="5.34" height="5.15" fill="rgb(222,234,250)"/>
<rect x="323.36" y="149.00" width="5.34" height="5.15" fill="rgb(232,240,250)"/>
<rect x="328.65" y="149.00" width="5.34" height="5.15" fill="rgb(250,243,237)"/>
<rect x="333.94" y="149.00" width="5.34" height="5.15" fill="rgb(195,217,247)"/>
<rect x="339.23" y="149.00" width="5.34" height="5.15" fill="rgb(250,206,167)"/>
<rect x="344.51" y="149.00" width="5.34" height="5.15" fill="rgb(195,217,247)"/>
<rect x="307.50" y="154.10" width="5.34" height="5.15" fill="rgb(228,237,249)"/>
<rect x="312.79" y="154.10" width="5.34" height="5.15" fill="rgb(238,116,16)"/>
<rect x="318.07" y="154.10" width="5.34" height="5.15" fill="rgb(248,180,125)"/>
<rect x="323.36" y="154.10" width="5.34" height="5.15" fill="rgb(250,206,167)"/>
<rect x="333.94" y="154.10" width="5.34" height="5.15" fill="rgb(252,247,242)"/>
<rect x="339.23" y="154.10" width="5.34" height="5.15" fill="rgb(251,229,208)"/>
<rect x="344.51" y="154.10" width="5.34" height="5.15" fill="rgb(240,244,251)"/>
<rect x="307.50" y="159.20" width="5.34" height="5.15" fill="rgb(238,116,16)"/>
<rect x="312.79" y="159.20" width="5.34" height="5.15" fill="rgb(238,116,16)"/>
<rect x="318.07" y="159.20" width="5.34" height="5.15" fill="rgb(238,116,16)"/>
<rect x="323.36" y="159.20" width="5.34" height="5.15" fill="rgb(238,116,16)"/>
<rect x="328.65" y="159.20" width="5.34" height="5.15" fill="rgb(238,116,16)"/>
<rect x="333.94" y="159.20" width="5.34" height="5.15" fill="rgb(238,116,16)"/>
<rect x="339.23" y="159.20" width="5.34" height="5.15" fill="rgb(238,116,16)"/>
<rect x="344.51" y="159.20" width="5.34" height="5.15" fill="rgb(238,116,16)"/>
<rect x="312.79" y="164.30" width="5.34" height="5.15" fill="rgb(248,180,125)"/>
<rect x="318.07" y="164.30" width="5.34" height="5.15" fill="rgb(234,241,250)"/>
<rect x="323.36" y="164.30" width="5.34" height="5.15" fill="rgb(240,244,251)"/>
<rect x="328.65" y="164.30" width="5.34" height="5.15" fill="rgb(195,217,247)"/>
<rect x="344.51" y="164.30" width="5.34" height="5.15" fill="rgb(228,237,249)"/>
<rect x="307.50" y="169.40" width="5.34" height="5.15" fill="rgb(238,116,16)"/>
<rect x="312.79" y="169.40" width="5.34" height="5.15" fill="rgb(238,116,16)"/>
<rect x="323.36" y="169.40" width="5.34" height="5.15" fill="rgb(222,234,250)"/>
<rect x="328.65" y="169.40" width="5.34" height="5.15" fill="rgb(195,217,247)"/>
<rect x="333.94" y="169.40" width="5.34" height="5.15" fill="rgb(238,116,16)"/>
<rect x="339.23" y="169.40" width="5.34" height="5.15" fill="rgb(248,180,125)"/>
<rect x="344.51" y="169.40" width="5.34" height="5.15" fill="rgb(222,234,250)"/>
<rect x="307.50" y="174.50" width="5.34" height="5.15" fill="rgb(222,234,250)"/>
<rect x="312.79" y="174.50" width="5.34" height="5.15" fill="rgb(240,129,40)"/>
<rect x="323.36" y="174.50" width="5.34" height="5.15" fill="rgb(228,237,249)"/>
<rect x="328.65" y="174.50" width="5.34" height="5.15" fill="rgb(248,180,125)"/>
<rect x="333.94" y="174.50" width="5.34" height="5.15" fill="rgb(195,217,247)"/>
<rect x="344.51" y="174.50" width="5.34" height="5.15" fill="rgb(195,217,247)"/>
<rect x="307.50" y="179.60" width="5.34" height="5.15" fill="rgb(250,206,167)"/>
<rect x="312.79" y="179.60" width="5.34" height="5.15" fill="rgb(251,229,208)"/>
<rect x="318.07" y="179.60" width="5.34" height="5.15" fill="rgb(232,240,250)"/>
<rect x="323.36" y="179.60" width="5.34" height="5.15" fill="rgb(250,243,237)"/>
<rect x="333.94" y="179.60" width="5.34" height="5.15" fill="rgb(248,180,125)"/>
<rect x="339.23" y="179.60" width="5.34" height="5.15" fill="rgb(238,116,16)"/>
<rect x="344.51" y="179.60" width="5.34" height="5.15" fill="rgb(222,234,250)"/>
<rect x="307.50" y="184.70" width="5.34" height="5.15" fill="rgb(232,240,250)"/>
<rect x="312.79" y="184.70" width="5.34" height="5.15" fill="rgb(250,206,167)"/>
<rect x="328.65" y="184.70" width="5.34" height="5.15" fill="rgb(162,197,242)"/>
<rect x="333.94" y="184.70" width="5.34" height="5.15" fill="rgb(238,116,16)"/>
<rect x="339.23" y="184.70" width="5.34" height="5.15" fill="rgb(238,116,16)"/>
<rect x="349.80" y="35.80" width="5.26" height="5.15" fill="rgb(228,237,249)"/>
<rect x="355.01" y="35.80" width="5.26" height="5.15" fill="rgb(232,240,250)"/>
<rect x="360.23" y="35.80" width="5.26" height="5.15" fill="rgb(250,243,237)"/>
<rect x="370.65" y="35.80" width="5.26" height="5.15" fill="rgb(251,229,208)"/>
<rect x="375.86" y="35.80" width="5.26" height="5.15" fill="rgb(252,247,242)"/>
<rect x="381.07" y="35.80" width="5.26" height="5.15" fill="rgb(250,206,167)"/>
<rect x="386.29" y="35.80" width="5.26" height="5.15" fill="rgb(240,244,251)"/>
<rect x="349.80" y="40.90" width="5.26" height="5.15" fill="rgb(250,243,237)"/>
<rect x="365.44" y="40.90" width="5.26" height="5.15" fill="rgb(195,217,247)"/>
<rect x="370.65" y="40.90" width="5.26" height="5.15" fill="rgb(222,234,250)"/>
<rect x="375.86" y="40.90" width="5.26" height="5.15" fill="rgb(240,244,251)"/>
<rect x="355.01" y="46.00" width="5.26" height="5.15" fill="rgb(252,247,242)"/>
<rect x="360.23" y="46.00" width="5.26" height="5.15" fill="rgb(234,241,250)"/>
<rect x="365.44" y="46.00" width="5.26" height="5.15" fill="rgb(240,244,251)"/>
<rect x="370.65" y="46.00" width="5.26" height="5.15" fill="rgb(240,129,40)"/>
<rect x="381.07" y="46.00" width="5.26" height="5.15" fill="rgb(240,129,40)"/>
<rect x="386.29" y="46.00" width="5.26" height="5.15" fill="rgb(228,237,249)"/>
<rect x="349.80" y="51.10" width="5.26" height="5.15" fill="rgb(234,241,250)"/>
<rect x="355.01" y="51.10" width="5.26" height="5.15" fill="rgb(240,244,251)"/>
<rect x="370.65" y="51.10" width="5.26" height="5.15" fill="rgb(195,217,247)"/>
<rect x="375.86" y="51.10" width="5.26" height="5.15" fill="rgb(195,217,247)"/>
<rect x="381.07" y="51.10" width="5.26" height="5.15" fill="rgb(232,240,250)"/>
<rect x="386.29" y="51.10" width="5.26" height="5.15" fill="rgb(222,234,250)"/>
<rect x="365.44" y="56.20" width="5.26" height="5.15" fill="rgb(228,237,249)"/>
<rect x="370.65" y="56.20" width="5.26" height="5.15" fill="rgb(232,240,250)"/>
<rect x="375.86" y="56.20" width="5.26" height="5.15" fill="rgb(250,243,237)"/>
<rect x="381.07" y="56.20" width="5.26" height="5.15" fill="rgb(250,206,167)"/>
<rect x="349.80" y="61.30" width="5.26" height="5.15" fill="rgb(248,180,125)"/>
<rect x="355.01" y="61.30" width="5.26" height="5.15" fill="rgb(228,237,249)"/>
<rect x="360.23" y="61.30" width="5.26" height="5.15" fill="rgb(232,240,250)"/>
<rect x="365.44" y="61.30" width="5.26" height="5.15" fill="rgb(250,206,167)"/>
<rect x="370.65" y="61.30" width="5.26" height="5.15" fill="rgb(195,217,247)"/>
<rect x="381.07" y="61.30" width="5.26" height="5.15" fill="rgb(248,180,125)"/>
<rect x="386.29" y="61.30" width="5.26" height="5.15" fill="rgb(234,241,250)"/>
<rect x="349.80" y="66.40" width="5.26" height="5.15" fill="rgb(248,180,125)"/>
<rect x="355.01" y="66.40" width="5.26" height="5.15" fill="rgb(250,243,237)"/>
<rect x="365.44" y="66.40" width="5.26" height="5.15" fill="rgb(248,180,125)"/>
<rect x="370.65" y="66.40" width="5.26" height="5.15" fill="rgb(252,247,242)"/>
<rect x="375.86" y="66.40" width="5.26" height="5.15" fill="rgb(234,241,250)"/>
<rect x="381.07" y="66.40" width="5.26" height="5.15" fill="rgb(248,180,125)"/>
<rect x="349.80" y="71.50" width="5.26" height="5.15" fill="rgb(248,180,125)"/>
<rect x="360.23" y="71.50" width="5.26" height="5.15" fill="rgb(252,247,242)"/>
<rect x="365.44" y="71.50" width="5.26" height="5.15" fill="rgb(234,241,250)"/>
<rect x="370.65" y="71.50" width="5.26" height="5.15" fill="rgb(240,244,251)"/>
<rect x="381.07" y="71.50" width="5.26" height="5.15" fill="rgb(222,234,250)"/>
<rect x="349.80" y="76.60" width="5.26" height="5.15" fill="rgb(250,206,167)"/>
<rect x="355.01" y="76.60" width="5.26" height="5.15" fill="rgb(234,241,250)"/>
<rect x="360.23" y="76.60" width="5.26" height="5.15" fill="rgb(240,244,251)"/>
<rect x="381.07" y="76.60" width="5.26" height="5.15" fill="rgb(228,237,249)"/>
<rect x="386.29" y="76.60" width="5.26" height="5.15" fill="rgb(244,154,82)"/>
<rect x="349.80" y="81.70" width="5.26" height="5.15" fill="rgb(238,116,16)"/>
<rect x="370.65" y="81.70" width="5.26" height="5.15" fill="rgb(228,237,249)"/>
<rect x="375.86" y="81.70" width="5.26" height="5.15" fill="rgb(232,240,250)"/>
<rect x="381.07" y="81.70" width="5.26" height="5.15" fill="rgb(250,243,237)"/>
<rect x="360.23" y="86.80" width="5.26" height="5.15" fill="rgb(228,237,249)"/>
<rect x="365.44" y="86.80" width="5.26" height="5.15" fill="rgb(232,240,250)"/>
<rect x="370.65" y="86.80" width="5.26" height="5.15" fill="rgb(250,243,237)"/>
<rect x="381.07" y="86.80" width="5.26" height="5.15" fill="rgb(238,116,16)"/>
<rect x="386.29" y="86.80" width="5.26" height="5.15" fill="rgb(252,247,242)"/>
<rect x="349.80" y="91.90" width="5.26" height="5.15" fill="rgb(250,206,167)"/>
<rect x="355.01" y="91.90" width="5.26" height="5.15" fill="rgb(232,240,250)"/>
<rect x="360.23" y="91.90" width="5.26" height="5.15" fill="rgb(250,243,237)"/>
<rect x="375.86" y="91.90" width="5.26" height="5.15" fill="rgb(252,247,242)"/>
<rect x="381.07" y="91.90" width="5.26" height="5.15" fill="rgb(238,116,16)"/>
<rect x="386.29" y="91.90" width="5.26" height="5.15" fill="rgb(195,217,247)"/>
<rect x="349.80" y="97.00" width="5.26" height="5.15" fill="rgb(238,116,16)"/>
<rect x="355.01" y="97.00" width="5.26" height="5.15" fill="rgb(238,116,16)"/>
<rect x="360.23" y="97.00" width="5.26" height="5.15" fill="rgb(238,116,16)"/>
<rect x="365.44" y="97.00" width="5.26" height="5.15" fill="rgb(238,116,16)"/>
<rect x="370.65" y="97.00" width="5.26" height="5.15" fill="rgb(238,116,16)"/>
<rect x="375.86" y="97.00" width="5.26" height="5.15" fill="rgb(238,116,16)"/>
<rect x="381.07" y="97.00" width="5.26" height="5.15" fill="rgb(238,116,16)"/>
<rect x="386.29" y="97.00" width="5.26" height="5.15" fill="rgb(238,116,16)"/>
<rect x="349.80" y="102.10" width="5.26" height="5.15" fill="rgb(244,154,82)"/>
<rect x="355.01" y="102.10" width="5.26" height="5.15" fill="rgb(250,206,167)"/>
<rect x="360.23" y="102.10" width="5.26" height="5.15" fill="rgb(234,241,250)"/>
<rect x="365.44" y="102.10" width="5.26" height="5.15" fill="rgb(240,244,251)"/>
<rect x="386.29" y="102.10" width="5.26" height="5.15" fill="rgb(250,206,167)"/>
<rect x="349.80" y="107.20" width="5.26" height="5.15" fill="rgb(234,241,250)"/>
<rect x="355.01" y="107.20" width="5.26" height="5.15" fill="rgb(240,244,251)"/>
<rect x="375.86" y="107.20" width="5.26" height="5.15" fill="rgb(240,129,40)"/>
<rect x="381.07" y="107.20" width="5.26" height="5.15" fill="rgb(232,240,250)"/>
<rect x="386.29" y="107.20" width="5.26" height="5.15" fill="rgb(248,180,125)"/>
<rect x="365.44" y="112.30" width="5.26" height="5.15" fill="rgb(228,237,249)"/>
<rect x="370.65" y="112.30" width="5.26" height="5.15" fill="rgb(250,206,167)"/>
<rect x="375.86" y="112.30" width="5.26" height="5.15" fill="rgb(250,243,237)"/>
<rect x="355.01" y="117.40" width="5.26" height="5.15" fill="rgb(228,237,249)"/>
<rect x="360.23" y="117.40" width="5.26" height="5.15" fill="rgb(238,116,16)"/>
<rect x="365.44" y="117.40" width="5.26" height="5.15" fill="rgb(250,243,237)"/>
<rect x="370.65" y="117.40" width="5.26" height="5.15" fill="rgb(238,116,16)"/>
<rect x="381.07" y="117.40" width="5.26" height="5.15" fill="rgb(252,247,242)"/>
<rect x="386.29" y="117.40" width="5.26" height="5.15" fill="rgb(238,116,16)"/>
<rect x="349.80" y="122.50" width="5.26" height="5.15" fill="rgb(232,240,250)"/>
<rect x="355.01" y="122.50" width="5.26" height="5.15" fill="rgb(250,243,237)"/>
<rect x="370.65" y="122.50" width="5.26" height="5.15" fill="rgb(240,129,40)"/>
<rect x="375.86" y="122.50" width="5.26" height="5.15" fill="rgb(234,241,250)"/>
<rect x="381.07" y="122.50" width="5.26" height="5.15" fill="rgb(240,244,251)"/>
<rect x="360.23" y="127.60" width="5.26" height="5.15" fill="rgb(252,247,242)"/>
<rect x="365.44" y="127.60" width="5.26" height="5.15" fill="rgb(234,241,250)"/>
<rect x="370.65" y="127.60" width="5.26" height="5.15" fill="rgb(240,244,251)"/>
<rect x="349.80" y="132.70" width="5.26" height="5.15" fill="rgb(252,247,242)"/>
<rect x="355.01" y="132.70" width="5.26" height="5.15" fill="rgb(234,241,250)"/>
<rect x="360.23" y="132.70" width="5.26" height="5.15" fill="rgb(240,244,251)"/>
<rect x="381.07" y="132.70" width="5.26" height="5.15" fill="rgb(228,237,249)"/>
<rect x="386.29" y="132.70" width="5.26" height="5.15" fill="rgb(232,240,250)"/>
<rect x="349.80" y="137.80" width="5.26" height="5.15" fill="rgb(238,116,16)"/>
<rect x="370.65" y="137.80" width="5.26" height="5.15" fill="rgb(228,237,249)"/>
<rect x="375.86" y="137.80" width="5.26" height="5.15" fill="rgb(232,240,250)"/>
<rect x="381.07" y="137.80" width="5.26" height="5.15" fill="rgb(238,116,16)"/>
<rect x="349.80" y="142.90" width="5.26" height="5.15" fill="rgb(250,206,167)"/>
<rect x="360.23" y="142.90" width="5.26" height="5.15" fill="rgb(228,237,249)"/>
<rect x="365.44" y="142.90" width="5.26" height="5.15" fill="rgb(232,240,250)"/>
<rect x="370.65" y="142.90" width="5.26" height="5.15" fill="rgb(250,243,237)"/>
<rect x="381.07" y="142.90" width="5.26" height="5.15" fill="rgb(248,180,125)"/>
<rect x="386.29" y="142.90" width="5.26" height="5.15" fill="rgb(252,247,242)"/>
<rect x="349.80" y="149.00" width="5.26" height="5.15" fill="rgb(228,237,249)"/>
<rect x="355.01" y="149.00" width="5.26" height="5.15" fill="rgb(232,240,250)"/>
<rect x="360.23" y="149.00" width="5.26" height="5.15" fill="rgb(250,243,237)"/>
<rect x="375.86" y="149.00" width="5.26" height="5.15" fill="rgb(252,247,242)"/>
<rect x="381.07" y="149.00" width="5.26" height="5.15" fill="rgb(250,206,167)"/>
<rect x="386.29" y="149.00" width="5.26" height="5.15" fill="rgb(195,217,247)"/>
<rect x="349.80" y="154.10" width="5.26" height="5.15" fill="rgb(240,129,40)"/>
<rect x="355.01" y="154.10" width="5.26" height="5.15" fill="rgb(248,180,125)"/>
<rect x="360.23" y="154.10" width="5.26" height="5.15" fill="rgb(250,206,167)"/>
<rect x="365.44" y="154.10" width="5.26" height="5.15" fill="rgb(252,247,242)"/>
<rect x="370.65" y="154.10" width="5.26" height="5.15" fill="rgb(234,241,250)"/>
<rect x="375.86" y="154.10" width="5.26" height="5.15" fill="rgb(240,244,251)"/>
<rect x="349.80" y="159.20" width="5.26" height="5.15" fill="rgb(238,116,16)"/>
<rect x="355.01" y="159.20" width="5.26" height="5.15" fill="rgb(238,116,16)"/>
<rect x="360.23" y="159.20" width="5.26" height="5.15" fill="rgb(238,116,16)"/>
<rect x="365.44" y="159.20" width="5.26" height="5.15" fill="rgb(238,116,16)"/>
<rect x="370.65" y="159.20" width="5.26" height="5.15" fill="rgb(238,116,16)"/>
<rect x="375.86" y="159.20" width="5.26" height="5.15" fill="rgb(238,116,16)"/>
<rect x="381.07" y="159.20" width="5.26" height="5.15" fill="rgb(238,116,16)"/>
<rect x="386.29" y="159.20" width="5.26" height="5.15" fill="rgb(238,116,16)"/>
<rect x="349.80" y="164.30" width="5.26" height="5.15" fill="rgb(248,180,125)"/>
<rect x="355.01" y="164.30" width="5.26" height="5.15" fill="rgb(240,244,251)"/>
<rect x="375.86" y="164.30" width="5.26" height="5.15" fill="rgb(228,237,249)"/>
<rect x="381.07" y="164.30" width="5.26" height="5.15" fill="rgb(232,240,250)"/>
<rect x="386.29" y="164.30" width="5.26" height="5.15" fill="rgb(250,243,237)"/>
<rect x="349.80" y="169.40" width="5.26" height="5.15" fill="rgb(240,129,40)"/>
<rect x="365.44" y="169.40" width="5.26" height="5.15" fill="rgb(228,237,249)"/>
<rect x="370.65" y="169.40" width="5.26" height="5.15" fill="rgb(232,240,250)"/>
<rect x="375.86" y="169.40" width="5.26" height="5.15" fill="rgb(250,243,237)"/>
<rect x="381.07" y="169.40" width="5.26" height="5.15" fill="rgb(248,180,125)"/>
<rect x="349.80" y="174.50" width="5.26" height="5.15" fill="rgb(244,154,82)"/>
<rect x="355.01" y="174.50" width="5.26" height="5.15" fill="rgb(228,237,249)"/>
<rect x="360.23" y="174.50" width="5.26" height="5.15" fill="rgb(232,240,250)"/>
<rect x="365.44" y="174.50" width="5.26" height="5.15" fill="rgb(250,243,237)"/>
<rect x="375.86" y="174.50" width="5.26" height="5.15" fill="rgb(250,206,167)"/>
<rect x="381.07" y="174.50" width="5.26" height="5.15" fill="rgb(252,247,242)"/>
<rect x="386.29" y="174.50" width="5.26" height="5.15" fill="rgb(248,180,125)"/>
<rect x="349.80" y="179.60" width="5.26" height="5.15" fill="rgb(250,206,167)"/>
<rect x="355.01" y="179.60" width="5.26" height="5.15" fill="rgb(250,243,237)"/>
<rect x="370.65" y="179.60" width="5.26" height="5.15" fill="rgb(252,247,242)"/>
<rect x="375.86" y="179.60" width="5.26" height="5.15" fill="rgb(234,241,250)"/>
<rect x="381.07" y="179.60" width="5.26" height="5.15" fill="rgb(238,116,16)"/>
<rect x="349.80" y="184.70" width="5.26" height="5.15" fill="rgb(251,229,208)"/>
<rect x="360.23" y="184.70" width="5.26" height="5.15" fill="rgb(252,247,242)"/>
<rect x="365.44" y="184.70" width="5.26" height="5.15" fill="rgb(234,241,250)"/>
<rect x="370.65" y="184.70" width="5.26" height="5.15" fill="rgb(240,244,251)"/>
<rect x="381.07" y="184.70" width="5.26" height="5.15" fill="rgb(238,116,16)"/>
<rect x="391.5" y="35.3" width="6.8" height="155.0" fill="#fcfcfd"/>
<rect x="391.5" y="149.00" width="6.8" height="5.15" fill="rgb(232,72,32)"/>
<rect x="391.5" y="154.10" width="6.8" height="5.15" fill="rgb(232,72,32)"/>
<rect x="391.5" y="159.20" width="6.8" height="5.15" fill="rgb(232,72,32)"/>
<rect x="391.5" y="164.30" width="6.8" height="5.15" fill="rgb(232,72,32)"/>
<rect x="391.5" y="184.70" width="6.8" height="5.15" fill="rgb(232,72,32)"/>
</g>
<path d="M59.40 35.3V190M64.80 35.3V190M70.20 35.3V190M75.60 35.3V190M86.17 35.3V190M91.34 35.3V190M96.51 35.3V190M101.68 35.3V190M106.85 35.3V190M112.02 35.3V190M117.19 35.3V190M122.36 35.3V190M127.53 35.3V190M138.55 35.3V190M149.62 35.3V190M154.85 35.3V190M160.08 35.3V190M165.30 35.3V190M170.53 35.3V190M175.75 35.3V190M180.97 35.3V190M186.20 35.3V190M191.43 35.3V190M201.89 35.3V190M207.13 35.3V190M212.37 35.3V190M217.61 35.3V190M222.84 35.3V190M228.08 35.3V190M233.32 35.3V190M238.56 35.3V190M249.23 35.3V190M254.65 35.3V190M260.07 35.3V190M270.75 35.3V190M276.00 35.3V190M281.25 35.3V190M286.50 35.3V190M291.75 35.3V190M297.00 35.3V190M302.25 35.3V190M312.79 35.3V190M318.07 35.3V190M323.36 35.3V190M328.65 35.3V190M333.94 35.3V190M339.23 35.3V190M344.51 35.3V190M355.01 35.3V190M360.23 35.3V190M365.44 35.3V190M370.65 35.3V190M375.86 35.3V190M381.07 35.3V190M386.29 35.3V190M54 40.90H398.3M54 46.00H398.3M54 51.10H398.3M54 56.20H398.3M54 61.30H398.3M54 66.40H398.3M54 71.50H398.3M54 76.60H398.3M54 81.70H398.3M54 86.80H398.3M54 91.90H398.3M54 97.00H398.3M54 102.10H398.3M54 107.20H398.3M54 112.30H398.3M54 117.40H398.3M54 122.50H398.3M54 127.60H398.3M54 132.70H398.3M54 137.80H398.3M54 142.90H398.3M54 154.10H398.3M54 159.20H398.3M54 164.30H398.3M54 169.40H398.3M54 174.50H398.3M54 179.60H398.3M54 184.70H398.3" stroke="#ffffff" stroke-width="0.55" opacity="0.45" fill="none"/>
<line x1="81.00" y1="35.3" x2="81.00" y2="190.3" stroke="#6e6e6e" stroke-width="0.9"/>
<line x1="132.70" y1="35.3" x2="132.70" y2="190.3" stroke="#6e6e6e" stroke-width="0.9"/>
<line x1="144.40" y1="35.3" x2="144.40" y2="190.3" stroke="#6e6e6e" stroke-width="0.9"/>
<line x1="196.65" y1="35.3" x2="196.65" y2="190.3" stroke="#6e6e6e" stroke-width="0.9"/>
<line x1="243.80" y1="35.3" x2="243.80" y2="190.3" stroke="#6e6e6e" stroke-width="0.9"/>
<line x1="265.50" y1="35.3" x2="265.50" y2="190.3" stroke="#6e6e6e" stroke-width="0.9"/>
<line x1="307.50" y1="35.3" x2="307.50" y2="190.3" stroke="#6e6e6e" stroke-width="0.9"/>
<line x1="349.80" y1="35.3" x2="349.80" y2="190.3" stroke="#6e6e6e" stroke-width="0.9"/>
<line x1="391.50" y1="35.3" x2="391.50" y2="190.3" stroke="#6e6e6e" stroke-width="0.9"/>
<line x1="54" y1="148.5" x2="398.3" y2="148.5" stroke="#111" stroke-width="0.9"/>
<rect x="54" y="35.3" width="344.3" height="155.0" fill="none" stroke="#111" stroke-width="1"/>
<rect x="81.40" y="97.10" width="50.90" height="4.90" fill="none" stroke="#2a1a12" stroke-width="0.85" stroke-dasharray="1 0.75"/>
<rect x="307.90" y="97.10" width="41.50" height="4.90" fill="none" stroke="#2a1a12" stroke-width="0.85" stroke-dasharray="1 0.75"/>
<rect x="81.40" y="159.30" width="50.90" height="4.90" fill="none" stroke="#2a1a12" stroke-width="0.85" stroke-dasharray="1 0.75"/>
<rect x="265.90" y="159.30" width="41.20" height="4.90" fill="none" stroke="#2a1a12" stroke-width="0.85" stroke-dasharray="1 0.75"/>
<text x="106" y="200" font-size="6.2">Expression (z-score)</text>
<rect x="164.3" y="195.2" width="87.5" height="5.8" fill="url(#leg)"/>
<text x="257.5" y="200" font-size="6.15">Torpor-TRAPed:</text>
<rect x="302.5" y="195.8" width="5.5" height="5.2" fill="rgb(232,72,32)"/>
<text x="0.9" y="211.9" font-size="7.2" font-weight="bold" style="fill:#111;stroke:#111">B</text>
<text transform="translate(8.6 236.6) rotate(-90)" font-size="5" textLength="19.7" lengthAdjust="spacingAndGlyphs">UMAP</text>
<path d="M10.6 217 V354.5 H147.5" fill="none" stroke="#333" stroke-width="0.9"/>
<g filter="url(#ublur)">
<rect x="90" y="203" width="5" height="5" fill="#e3e3e3"/>
<rect x="50" y="208" width="5" height="5" fill="#d0d0d0"/>
<rect x="85" y="208" width="5" height="5" fill="#e3e3e3"/>
<rect x="90" y="208" width="5" height="5" fill="#d0d0d0"/>
<rect x="95" y="208" width="5" height="5" fill="#e3e3e3"/>
<rect x="110" y="208" width="5" height="5" fill="#e3e3e3"/>
<rect x="115" y="208" width="5" height="5" fill="#e3e3e3"/>
<rect x="45" y="213" width="5" height="5" fill="#e3e3e3"/>
<rect x="50" y="213" width="5" height="5" fill="#d0d0d0"/>
<rect x="55" y="213" width="5" height="5" fill="#e3e3e3"/>
<rect x="95" y="213" width="5" height="5" fill="#d0d0d0"/>
<rect x="100" y="213" width="5" height="5" fill="#e3e3e3"/>
<rect x="110" y="213" width="5" height="5" fill="#d0d0d0"/>
<rect x="115" y="213" width="5" height="5" fill="#d0d0d0"/>
<rect x="120" y="213" width="5" height="5" fill="#e3e3e3"/>
<rect x="45" y="218" width="5" height="5" fill="#e3e3e3"/>
<rect x="50" y="218" width="5" height="5" fill="#e3e3e3"/>
<rect x="55" y="218" width="5" height="5" fill="#e3e3e3"/>
<rect x="100" y="218" width="5" height="5" fill="#e3e3e3"/>
<rect x="105" y="218" width="5" height="5" fill="#e3e3e3"/>
<rect x="110" y="218" width="5" height="5" fill="#d0d0d0"/>
<rect x="115" y="218" width="5" height="5" fill="#d0d0d0"/>
<rect x="120" y="218" width="5" height="5" fill="#e3e3e3"/>
<rect x="125" y="218" width="5" height="5" fill="#e3e3e3"/>
<rect x="45" y="223" width="5" height="5" fill="#e3e3e3"/>
<rect x="100" y="223" width="5" height="5" fill="#e3e3e3"/>
<rect x="105" y="223" width="5" height="5" fill="#d0d0d0"/>
<rect x="110" y="223" width="5" height="5" fill="#d0d0d0"/>
<rect x="115" y="223" width="5" height="5" fill="#e3e3e3"/>
<rect x="120" y="223" width="5" height="5" fill="#d0d0d0"/>
<rect x="125" y="223" width="5" height="5" fill="#d0d0d0"/>
<rect x="130" y="223" width="5" height="5" fill="#d0d0d0"/>
<rect x="135" y="223" width="5" height="5" fill="#e3e3e3"/>
<rect x="100" y="228" width="5" height="5" fill="#e3e3e3"/>
<rect x="105" y="228" width="5" height="5" fill="#d0d0d0"/>
<rect x="110" y="228" width="5" height="5" fill="#d0d0d0"/>
<rect x="115" y="228" width="5" height="5" fill="#e3e3e3"/>
<rect x="120" y="228" width="5" height="5" fill="#d0d0d0"/>
<rect x="125" y="228" width="5" height="5" fill="#d0d0d0"/>
<rect x="130" y="228" width="5" height="5" fill="#e3e3e3"/>
<rect x="140" y="228" width="5" height="5" fill="#e3e3e3"/>
<rect x="145" y="228" width="5" height="5" fill="#e3e3e3"/>
<rect x="100" y="233" width="5" height="5" fill="#e3e3e3"/>
<rect x="105" y="233" width="5" height="5" fill="#d0d0d0"/>
<rect x="110" y="233" width="5" height="5" fill="#d0d0d0"/>
<rect x="115" y="233" width="5" height="5" fill="#e3e3e3"/>
<rect x="120" y="233" width="5" height="5" fill="#e3e3e3"/>
<rect x="125" y="233" width="5" height="5" fill="#d0d0d0"/>
<rect x="130" y="233" width="5" height="5" fill="#e3e3e3"/>
<rect x="140" y="233" width="5" height="5" fill="#e3e3e3"/>
<rect x="145" y="233" width="5" height="5" fill="#d0d0d0"/>
<rect x="150" y="233" width="5" height="5" fill="#e3e3e3"/>
<rect x="90" y="238" width="5" height="5" fill="#e3e3e3"/>
<rect x="95" y="238" width="5" height="5" fill="#d0d0d0"/>
<rect x="100" y="238" width="5" height="5" fill="#e3e3e3"/>
<rect x="105" y="238" width="5" height="5" fill="#d0d0d0"/>
<rect x="110" y="238" width="5" height="5" fill="#e3e3e3"/>
<rect x="115" y="238" width="5" height="5" fill="#e3e3e3"/>
<rect x="120" y="238" width="5" height="5" fill="#e3e3e3"/>
<rect x="125" y="238" width="5" height="5" fill="#e3e3e3"/>
<rect x="65" y="243" width="5" height="5" fill="#e3e3e3"/>
<rect x="70" y="243" width="5" height="5" fill="#e3e3e3"/>
<rect x="90" y="243" width="5" height="5" fill="#e3e3e3"/>
<rect x="95" y="243" width="5" height="5" fill="#d0d0d0"/>
<rect x="100" y="243" width="5" height="5" fill="#d0d0d0"/>
<rect x="105" y="243" width="5" height="5" fill="#d0d0d0"/>
<rect x="110" y="243" width="5" height="5" fill="#e3e3e3"/>
<rect x="115" y="243" width="5" height="5" fill="#e3e3e3"/>
<rect x="120" y="243" width="5" height="5" fill="#e3e3e3"/>
<rect x="60" y="248" width="5" height="5" fill="#e3e3e3"/>
<rect x="65" y="248" width="5" height="5" fill="#d0d0d0"/>
<rect x="70" y="248" width="5" height="5" fill="#d0d0d0"/>
<rect x="75" y="248" width="5" height="5" fill="#e3e3e3"/>
<rect x="80" y="248" width="5" height="5" fill="#e3e3e3"/>
<rect x="85" y="248" width="5" height="5" fill="#e3e3e3"/>
<rect x="90" y="248" width="5" height="5" fill="#d0d0d0"/>
<rect x="95" y="248" width="5" height="5" fill="#d0d0d0"/>
<rect x="100" y="248" width="5" height="5" fill="#d0d0d0"/>
<rect x="105" y="248" width="5" height="5" fill="#d0d0d0"/>
<rect x="110" y="248" width="5" height="5" fill="#e3e3e3"/>
<rect x="115" y="248" width="5" height="5" fill="#e3e3e3"/>
<rect x="60" y="253" width="5" height="5" fill="#e3e3e3"/>
<rect x="65" y="253" width="5" height="5" fill="#d0d0d0"/>
<rect x="70" y="253" width="5" height="5" fill="#d0d0d0"/>
<rect x="75" y="253" width="5" height="5" fill="#e3e3e3"/>
<rect x="80" y="253" width="5" height="5" fill="#e3e3e3"/>
<rect x="85" y="253" width="5" height="5" fill="#d0d0d0"/>
<rect x="90" y="253" width="5" height="5" fill="#e3e3e3"/>
<rect x="95" y="253" width="5" height="5" fill="#d0d0d0"/>
<rect x="100" y="253" width="5" height="5" fill="#d0d0d0"/>
<rect x="105" y="253" width="5" height="5" fill="#d0d0d0"/>
<rect x="110" y="253" width="5" height="5" fill="#d0d0d0"/>
<rect x="115" y="253" width="5" height="5" fill="#e3e3e3"/>
<rect x="120" y="253" width="5" height="5" fill="#e3e3e3"/>
<rect x="60" y="258" width="5" height="5" fill="#e3e3e3"/>
<rect x="65" y="258" width="5" height="5" fill="#d0d0d0"/>
<rect x="70" y="258" width="5" height="5" fill="#e3e3e3"/>
<rect x="75" y="258" width="5" height="5" fill="#e3e3e3"/>
<rect x="80" y="258" width="5" height="5" fill="#e3e3e3"/>
<rect x="85" y="258" width="5" height="5" fill="#d0d0d0"/>
<rect x="90" y="258" width="5" height="5" fill="#d0d0d0"/>
<rect x="95" y="258" width="5" height="5" fill="#d0d0d0"/>
<rect x="100" y="258" width="5" height="5" fill="#d0d0d0"/>
<rect x="105" y="258" width="5" height="5" fill="#e3e3e3"/>
<rect x="110" y="258" width="5" height="5" fill="#d0d0d0"/>
<rect x="115" y="258" width="5" height="5" fill="#d0d0d0"/>
<rect x="120" y="258" width="5" height="5" fill="#d0d0d0"/>
<rect x="125" y="258" width="5" height="5" fill="#e3e3e3"/>
<rect x="60" y="263" width="5" height="5" fill="#e3e3e3"/>
<rect x="65" y="263" width="5" height="5" fill="#e3e3e3"/>
<rect x="70" y="263" width="5" height="5" fill="#e3e3e3"/>
<rect x="75" y="263" width="5" height="5" fill="#e3e3e3"/>
<rect x="80" y="263" width="5" height="5" fill="#e3e3e3"/>
<rect x="85" y="263" width="5" height="5" fill="#d0d0d0"/>
<rect x="90" y="263" width="5" height="5" fill="#d0d0d0"/>
<rect x="95" y="263" width="5" height="5" fill="#d0d0d0"/>
<rect x="100" y="263" width="5" height="5" fill="#e3e3e3"/>
<rect x="105" y="263" width="5" height="5" fill="#e3e3e3"/>
<rect x="110" y="263" width="5" height="5" fill="#e3e3e3"/>
<rect x="115" y="263" width="5" height="5" fill="#e3e3e3"/>
<rect x="120" y="263" width="5" height="5" fill="#e3e3e3"/>
<rect x="125" y="263" width="5" height="5" fill="#e3e3e3"/>
<rect x="65" y="268" width="5" height="5" fill="#e3e3e3"/>
<rect x="70" y="268" width="5" height="5" fill="#e3e3e3"/>
<rect x="75" y="268" width="5" height="5" fill="#e3e3e3"/>
<rect x="80" y="268" width="5" height="5" fill="#e3e3e3"/>
<rect x="85" y="268" width="5" height="5" fill="#d0d0d0"/>
<rect x="90" y="268" width="5" height="5" fill="#d0d0d0"/>
<rect x="95" y="268" width="5" height="5" fill="#e3e3e3"/>
<rect x="100" y="268" width="5" height="5" fill="#e3e3e3"/>
<rect x="65" y="273" width="5" height="5" fill="#e3e3e3"/>
<rect x="70" y="273" width="5" height="5" fill="#e3e3e3"/>
<rect x="75" y="273" width="5" height="5" fill="#e3e3e3"/>
<rect x="80" y="273" width="5" height="5" fill="#e3e3e3"/>
<rect x="85" y="273" width="5" height="5" fill="#e3e3e3"/>
<rect x="90" y="273" width="5" height="5" fill="#e3e3e3"/>
<rect x="95" y="273" width="5" height="5" fill="#e3e3e3"/>
<rect x="100" y="273" width="5" height="5" fill="#e3e3e3"/>
<rect x="105" y="273" width="5" height="5" fill="#e3e3e3"/>
<rect x="110" y="273" width="5" height="5" fill="#e3e3e3"/>
<rect x="115" y="273" width="5" height="5" fill="#e3e3e3"/>
<rect x="65" y="278" width="5" height="5" fill="#e3e3e3"/>
<rect x="75" y="278" width="5" height="5" fill="#e3e3e3"/>
<rect x="90" y="278" width="5" height="5" fill="#e3e3e3"/>
<rect x="95" y="278" width="5" height="5" fill="#e3e3e3"/>
<rect x="110" y="278" width="5" height="5" fill="#d0d0d0"/>
<rect x="115" y="278" width="5" height="5" fill="#d0d0d0"/>
<rect x="120" y="278" width="5" height="5" fill="#e3e3e3"/>
<rect x="125" y="278" width="5" height="5" fill="#e3e3e3"/>
<rect x="130" y="278" width="5" height="5" fill="#d0d0d0"/>
<rect x="65" y="283" width="5" height="5" fill="#e3e3e3"/>
<rect x="110" y="283" width="5" height="5" fill="#d0d0d0"/>
<rect x="115" y="283" width="5" height="5" fill="#d0d0d0"/>
<rect x="120" y="283" width="5" height="5" fill="#e3e3e3"/>
<rect x="125" y="283" width="5" height="5" fill="#e3e3e3"/>
<rect x="130" y="283" width="5" height="5" fill="#e3e3e3"/>
<rect x="75" y="288" width="5" height="5" fill="#e3e3e3"/>
<rect x="80" y="288" width="5" height="5" fill="#d0d0d0"/>
<rect x="85" y="288" width="5" height="5" fill="#e3e3e3"/>
<rect x="110" y="288" width="5" height="5" fill="#d0d0d0"/>
<rect x="115" y="288" width="5" height="5" fill="#e3e3e3"/>
<rect x="70" y="293" width="5" height="5" fill="#e3e3e3"/>
<rect x="75" y="293" width="5" height="5" fill="#e3e3e3"/>
<rect x="80" y="293" width="5" height="5" fill="#d0d0d0"/>
<rect x="85" y="293" width="5" height="5" fill="#e3e3e3"/>
<rect x="90" y="293" width="5" height="5" fill="#e3e3e3"/>
<rect x="110" y="293" width="5" height="5" fill="#e3e3e3"/>
<rect x="70" y="298" width="5" height="5" fill="#e3e3e3"/>
<rect x="75" y="298" width="5" height="5" fill="#d0d0d0"/>
<rect x="80" y="298" width="5" height="5" fill="#d0d0d0"/>
<rect x="85" y="298" width="5" height="5" fill="#d0d0d0"/>
<rect x="90" y="298" width="5" height="5" fill="#e3e3e3"/>
<rect x="95" y="298" width="5" height="5" fill="#e3e3e3"/>
<rect x="65" y="303" width="5" height="5" fill="#e3e3e3"/>
<rect x="70" y="303" width="5" height="5" fill="#e3e3e3"/>
<rect x="75" y="303" width="5" height="5" fill="#d0d0d0"/>
<rect x="80" y="303" width="5" height="5" fill="#d0d0d0"/>
<rect x="85" y="303" width="5" height="5" fill="#d0d0d0"/>
<rect x="90" y="303" width="5" height="5" fill="#d0d0d0"/>
<rect x="95" y="303" width="5" height="5" fill="#e3e3e3"/>
<rect x="100" y="303" width="5" height="5" fill="#e3e3e3"/>
<rect x="110" y="303" width="5" height="5" fill="#e3e3e3"/>
<rect x="75" y="308" width="5" height="5" fill="#e3e3e3"/>
<rect x="80" y="308" width="5" height="5" fill="#d0d0d0"/>
<rect x="85" y="308" width="5" height="5" fill="#d0d0d0"/>
<rect x="90" y="308" width="5" height="5" fill="#d0d0d0"/>
<rect x="95" y="308" width="5" height="5" fill="#d0d0d0"/>
<rect x="100" y="308" width="5" height="5" fill="#e3e3e3"/>
<rect x="105" y="308" width="5" height="5" fill="#e3e3e3"/>
<rect x="110" y="308" width="5" height="5" fill="#d0d0d0"/>
<rect x="115" y="308" width="5" height="5" fill="#e3e3e3"/>
<rect x="80" y="313" width="5" height="5" fill="#e3e3e3"/>
<rect x="85" y="313" width="5" height="5" fill="#d0d0d0"/>
<rect x="90" y="313" width="5" height="5" fill="#d0d0d0"/>
<rect x="95" y="313" width="5" height="5" fill="#d0d0d0"/>
<rect x="100" y="313" width="5" height="5" fill="#d0d0d0"/>
<rect x="105" y="313" width="5" height="5" fill="#e3e3e3"/>
<rect x="110" y="313" width="5" height="5" fill="#d0d0d0"/>
<rect x="115" y="313" width="5" height="5" fill="#d0d0d0"/>
<rect x="120" y="313" width="5" height="5" fill="#e3e3e3"/>
<rect x="85" y="318" width="5" height="5" fill="#e3e3e3"/>
<rect x="90" y="318" width="5" height="5" fill="#d0d0d0"/>
<rect x="95" y="318" width="5" height="5" fill="#d0d0d0"/>
<rect x="100" y="318" width="5" height="5" fill="#d0d0d0"/>
<rect x="105" y="318" width="5" height="5" fill="#d0d0d0"/>
<rect x="110" y="318" width="5" height="5" fill="#d0d0d0"/>
<rect x="115" y="318" width="5" height="5" fill="#d0d0d0"/>
<rect x="120" y="318" width="5" height="5" fill="#e3e3e3"/>
<rect x="90" y="323" width="5" height="5" fill="#e3e3e3"/>
<rect x="95" y="323" width="5" height="5" fill="#d0d0d0"/>
<rect x="100" y="323" width="5" height="5" fill="#d0d0d0"/>
<rect x="105" y="323" width="5" height="5" fill="#e3e3e3"/>
<rect x="110" y="323" width="5" height="5" fill="#e3e3e3"/>
<rect x="115" y="323" width="5" height="5" fill="#e3e3e3"/>
<rect x="125" y="338" width="5" height="5" fill="#e3e3e3"/>
<rect x="130" y="338" width="5" height="5" fill="#e3e3e3"/>
<rect x="130" y="343" width="5" height="5" fill="#e3e3e3"/>
</g>
<g stroke="#6a6a6a" stroke-width="0.4" fill="none" opacity="0.55" stroke-linecap="round">
<path d="M92.3 205.8Q90.9 206.3 89.4 206.5"/>
<path d="M90.9 205.6Q89.5 207.0 89.4 209.1"/>
<path d="M90.5 207.0Q90.8 208.5 89.5 208.4"/>
<path d="M53.3 211.1Q54.0 210.7 54.6 211.8"/>
<path d="M51.0 209.2Q52.3 209.9 53.8 209.5"/>
<path d="M52.6 211.2Q52.5 212.6 52.6 214.7"/>
<path d="M55.0 213.0Q53.1 213.4 51.8 214.7"/>
<path d="M51.4 208.4Q51.0 209.1 49.4 210.2"/>
<path d="M54.8 212.2Q56.5 212.2 56.9 212.2"/>
<path d="M89.9 210.0Q92.0 210.0 93.2 210.8"/>
<path d="M85.4 209.7Q82.9 209.5 81.7 210.1"/>
<path d="M85.5 208.3Q84.8 208.8 83.9 209.5"/>
<path d="M91.0 211.7Q91.9 212.2 94.1 213.0"/>
<path d="M91.1 209.3Q88.8 210.1 87.2 209.7"/>
<path d="M91.1 210.0Q88.9 211.5 88.0 211.5"/>
<path d="M91.1 209.3Q89.8 209.4 89.2 210.9"/>
<path d="M90.5 210.9Q91.4 212.0 92.8 213.2"/>
<path d="M94.8 210.4Q93.8 211.9 93.8 214.4"/>
<path d="M99.5 212.1Q100.7 213.5 101.0 213.5"/>
<path d="M96.0 212.8Q94.3 212.7 92.9 213.9"/>
<path d="M95.2 212.8Q96.1 214.6 97.8 215.3"/>
<path d="M113.0 209.5Q113.9 210.0 116.1 211.4"/>
<path d="M112.8 212.3Q113.1 212.9 112.0 214.5"/>
<path d="M110.1 209.3Q109.7 210.0 110.4 211.0"/>
<path d="M117.9 208.7Q119.5 210.8 119.6 212.4"/>
<path d="M118.5 210.9Q118.4 211.9 119.9 211.6"/>
<path d="M118.5 212.8Q120.2 213.3 121.9 213.0"/>
<path d="M46.6 218.0Q48.5 219.0 49.6 218.7"/>
<path d="M48.7 216.5Q46.8 218.1 45.3 219.1"/>
<path d="M49.5 217.4Q50.6 219.3 50.5 221.1"/>
<path d="M53.1 214.9Q52.0 216.7 52.3 218.1"/>
<path d="M55.0 217.4Q54.5 218.5 53.2 219.4"/>
<path d="M52.2 217.2Q53.3 217.8 55.8 218.2"/>
<path d="M52.4 214.2Q51.7 216.0 50.7 216.6"/>
<path d="M51.3 213.1Q51.8 214.0 53.3 215.9"/>
<path d="M54.5 216.3Q54.6 218.6 55.3 220.4"/>
<path d="M56.0 215.2Q54.9 216.2 52.5 217.6"/>
<path d="M57.9 214.6Q59.8 215.8 60.6 215.8"/>
<path d="M58.6 217.8Q59.1 218.2 59.9 219.3"/>
<path d="M96.1 215.1Q95.2 217.0 94.9 217.8"/>
<path d="M99.9 215.3Q101.3 214.7 101.5 215.6"/>
<path d="M98.5 215.9Q98.9 216.9 100.7 219.1"/>
<path d="M97.3 213.1Q95.7 213.0 95.4 214.3"/>
<path d="M98.1 215.2Q97.9 217.6 96.8 218.4"/>
<path d="M98.4 214.0Q97.7 215.0 98.6 216.0"/>
<path d="M103.6 213.9Q104.7 214.9 105.2 215.8"/>
<path d="M103.1 216.8Q104.4 218.0 104.3 220.4"/>
<path d="M104.7 216.6Q106.2 217.8 107.3 217.7"/>
<path d="M111.9 215.8Q110.8 216.5 108.3 217.3"/>
<path d="M113.3 214.0Q112.2 215.9 110.7 217.1"/>
<path d="M111.1 217.5Q108.9 218.1 106.6 217.8"/>
<path d="M111.6 217.5Q109.8 218.0 109.3 218.7"/>
<path d="M112.8 216.8Q113.3 216.9 112.8 218.4"/>
<path d="M114.0 213.9Q114.4 215.0 115.9 217.2"/>
<path d="M117.6 216.6Q116.7 217.5 114.5 218.3"/>
<path d="M119.7 213.4Q120.6 214.8 122.1 215.4"/>
<path d="M118.2 215.6Q116.5 216.2 115.4 217.1"/>
<path d="M119.2 217.5Q121.6 218.8 122.4 220.0"/>
<path d="M117.9 214.0Q117.9 214.7 117.5 217.0"/>
<path d="M119.8 215.6Q120.5 217.4 121.0 219.3"/>
<path d="M123.5 213.3Q124.0 215.4 123.1 216.1"/>
<path d="M121.3 215.4Q123.1 216.6 123.9 216.5"/>
<path d="M122.4 214.6Q124.4 214.9 125.1 216.5"/>
<path d="M48.9 218.1Q50.1 218.5 50.7 219.4"/>
<path d="M46.8 221.1Q47.9 221.7 50.3 222.3"/>
<path d="M46.3 219.0Q45.9 220.2 46.0 221.8"/>
<path d="M52.6 218.8Q54.2 219.9 55.4 220.8"/>
<path d="M54.3 221.1Q53.7 222.0 52.3 222.0"/>
<path d="M54.5 219.6Q55.2 222.2 56.9 223.1"/>
<path d="M59.4 218.7Q60.4 219.3 62.1 221.2"/>
<path d="M59.2 220.1Q58.3 221.0 57.7 221.3"/>
<path d="M55.1 219.0Q54.7 220.2 52.8 222.6"/>
<path d="M102.5 221.8Q102.0 222.9 102.5 225.3"/>
<path d="M100.5 218.2Q100.4 219.1 100.0 221.2"/>
<path d="M100.9 219.0Q99.6 219.4 97.0 221.2"/>
<path d="M105.3 222.8Q105.3 224.6 105.8 226.5"/>
<path d="M107.6 220.2Q107.7 221.4 107.1 221.6"/>
<path d="M105.9 220.3Q104.5 220.7 104.1 222.3"/>
<path d="M112.6 218.1Q111.0 219.3 108.9 219.4"/>
<path d="M113.1 220.0Q113.5 221.9 112.2 222.9"/>
<path d="M111.3 222.6Q110.5 223.8 108.6 225.3"/>
<path d="M114.5 222.4Q113.8 223.8 112.3 225.5"/>
<path d="M113.6 218.4Q113.5 219.4 115.0 220.9"/>
<path d="M113.2 221.1Q115.1 222.3 116.4 224.0"/>
<path d="M118.3 220.8Q119.0 222.4 118.0 223.5"/>
<path d="M118.5 221.8Q117.9 222.2 116.9 221.9"/>
<path d="M116.3 220.0Q117.1 219.5 118.3 220.3"/>
<path d="M116.3 222.5Q116.8 224.1 115.8 225.5"/>
<path d="M120.0 221.2Q119.4 222.1 118.5 222.2"/>
<path d="M115.2 222.7Q116.0 223.3 117.8 224.1"/>
<path d="M123.1 218.3Q121.7 218.7 120.3 218.8"/>
<path d="M121.8 219.4Q120.7 221.2 120.3 222.2"/>
<path d="M121.5 218.1Q121.5 219.0 122.6 219.2"/>
<path d="M126.9 222.5Q127.2 223.8 125.8 223.7"/>
<path d="M125.4 222.5Q126.4 223.5 126.0 225.4"/>
<path d="M127.6 222.7Q127.4 224.3 125.7 224.9"/>
<path d="M48.0 223.6Q47.0 224.2 46.9 226.2"/>
<path d="M47.6 223.6Q47.9 225.0 48.3 227.1"/>
<path d="M47.9 225.1Q47.5 226.8 45.5 227.1"/>
<path d="M103.7 224.2Q106.1 225.1 107.6 225.7"/>
<path d="M101.8 224.4Q101.1 225.9 100.0 227.0"/>
<path d="M103.8 223.9Q106.0 226.1 106.9 227.1"/>
<path d="M105.2 223.3Q106.3 223.7 107.0 225.4"/>
<path d="M107.7 223.4Q109.5 224.0 111.1 224.3"/>
<path d="M106.9 225.4Q108.3 226.7 108.9 226.9"/>
<path d="M105.4 223.6Q104.4 224.1 102.6 225.5"/>
<path d="M107.1 224.3Q106.3 225.8 105.0 225.8"/>
<path d="M106.6 225.7Q105.0 227.1 103.7 228.8"/>
<path d="M110.5 227.4Q111.4 227.6 112.2 227.8"/>
<path d="M113.4 224.5Q112.3 225.3 112.1 225.6"/>
<path d="M110.4 224.5Q108.9 225.3 108.1 227.2"/>
<path d="M111.8 226.6Q112.5 227.6 112.5 228.3"/>
<path d="M114.6 227.7Q113.7 227.8 111.9 228.5"/>
<path d="M111.6 225.0Q109.1 225.2 107.5 225.9"/>
<path d="M116.8 224.8Q116.8 226.2 117.7 227.3"/>
<path d="M119.0 225.7Q117.1 226.9 116.2 227.3"/>
<path d="M119.4 224.4Q121.0 224.6 122.4 224.6"/>
<path d="M124.8 226.3Q124.2 227.2 123.4 227.2"/>
<path d="M120.4 223.4Q118.3 225.2 117.6 226.5"/>
<path d="M120.7 226.7Q119.8 228.2 119.7 228.7"/>
<path d="M122.6 226.8Q123.8 228.3 123.4 229.2"/>
<path d="M122.5 225.7Q122.0 226.9 120.1 228.5"/>
<path d="M124.1 226.3Q122.9 227.8 120.6 228.1"/>
<path d="M129.8 226.2Q130.1 227.9 129.5 229.8"/>
<path d="M127.1 223.7Q125.4 224.8 124.0 227.0"/>
<path d="M126.0 225.1Q126.7 226.6 128.7 228.6"/>
<path d="M125.6 226.2Q124.1 226.8 124.0 227.6"/>
<path d="M127.9 227.5Q128.3 227.2 129.7 227.8"/>
<path d="M126.2 226.6Q125.4 227.3 125.5 228.7"/>
<path d="M130.9 226.8Q132.2 228.1 132.6 229.4"/>
<path d="M131.3 227.4Q130.2 228.5 128.9 228.1"/>
<path d="M132.4 224.1Q135.0 224.3 136.7 224.8"/>
<path d="M132.6 225.6Q134.3 226.9 135.5 229.0"/>
<path d="M130.1 225.4Q131.2 227.3 131.6 228.9"/>
<path d="M130.8 223.8Q132.0 224.8 132.0 225.7"/>
<path d="M138.2 228.0Q138.7 229.6 140.3 230.3"/>
<path d="M135.0 227.1Q132.6 227.7 131.5 228.9"/>
<path d="M138.6 223.5Q139.4 225.1 138.8 226.4"/>
<path d="M104.3 229.5Q103.9 229.7 102.1 231.2"/>
<path d="M104.1 229.0Q103.4 231.1 103.7 232.1"/>
<path d="M101.6 229.6Q102.7 230.2 103.9 230.1"/>
<path d="M106.8 231.4Q108.0 232.6 109.3 232.3"/>
<path d="M109.1 231.3Q110.8 230.9 111.8 231.4"/>
<path d="M107.8 230.3Q110.5 229.9 112.3 230.4"/>
<path d="M108.1 229.5Q108.3 230.6 109.3 232.3"/>
<path d="M107.0 231.3Q108.1 231.8 108.4 232.8"/>
<path d="M109.7 230.8Q109.4 231.1 108.1 232.7"/>
<path d="M110.7 228.5Q109.2 229.9 108.8 231.5"/>
<path d="M114.2 231.0Q114.7 230.7 116.3 231.6"/>
<path d="M112.0 228.4Q110.7 228.9 109.3 229.0"/>
<path d="M113.8 232.1Q114.1 232.5 114.7 234.4"/>
<path d="M112.0 231.5Q110.3 231.8 108.1 231.7"/>
<path d="M110.1 229.7Q110.3 231.0 111.7 232.7"/>
<path d="M117.5 231.9Q115.6 233.2 114.7 233.7"/>
<path d="M119.5 230.7Q119.6 232.4 120.9 233.4"/>
<path d="M119.9 230.6Q118.2 232.9 117.4 233.7"/>
<path d="M123.1 229.0Q124.3 229.6 125.3 229.6"/>
<path d="M121.6 232.6Q121.7 234.7 122.9 235.3"/>
<path d="M120.7 232.5Q120.6 233.7 120.2 235.7"/>
<path d="M124.5 233.0Q122.6 234.4 121.8 234.8"/>
<path d="M121.4 232.5Q123.1 233.1 123.8 234.7"/>
<path d="M122.7 228.4Q124.5 229.2 124.8 228.6"/>
<path d="M128.3 229.5Q127.2 231.3 126.4 232.7"/>
<path d="M129.0 228.1Q129.6 228.8 131.4 229.8"/>
<path d="M127.8 228.9Q127.9 229.7 127.7 231.2"/>
<path d="M128.2 228.2Q128.4 229.2 127.2 229.9"/>
<path d="M127.3 230.1Q127.1 232.1 126.0 233.4"/>
<path d="M127.4 233.0Q125.5 233.9 123.9 235.0"/>
<path d="M132.8 232.5Q132.6 234.7 132.6 235.6"/>
<path d="M131.6 228.3Q130.6 230.0 128.9 231.5"/>
<path d="M133.8 229.5Q132.9 230.3 133.3 231.2"/>
<path d="M142.5 230.0Q144.3 229.9 146.1 230.6"/>
<path d="M141.5 230.0Q142.8 231.3 142.8 231.1"/>
<path d="M143.3 232.3Q143.4 234.6 144.3 236.1"/>
<path d="M147.8 232.5Q149.1 233.2 151.5 233.7"/>
<path d="M149.8 228.0Q150.3 228.1 151.5 229.7"/>
<path d="M149.5 232.1Q150.0 232.6 150.3 234.5"/>
<path d="M100.2 237.5Q101.7 239.5 101.9 240.0"/>
<path d="M102.4 234.0Q104.3 235.3 104.9 237.4"/>
<path d="M104.2 234.8Q104.9 236.6 104.4 236.8"/>
<path d="M106.0 236.2Q107.0 236.7 109.4 238.5"/>
<path d="M108.6 234.6Q107.0 234.6 104.7 235.8"/>
<path d="M108.5 237.7Q108.2 238.2 108.8 239.4"/>
<path d="M108.6 234.0Q109.7 235.0 110.4 235.2"/>
<path d="M106.9 236.3Q104.9 236.6 103.8 237.5"/>
<path d="M109.6 236.3Q110.1 238.4 111.8 238.9"/>
<path d="M112.2 235.6Q112.3 236.1 112.0 237.3"/>
<path d="M111.3 237.0Q112.8 236.9 113.5 237.7"/>
<path d="M111.4 235.7Q113.9 236.2 114.9 238.1"/>
<path d="M112.3 236.8Q113.1 238.2 113.8 240.8"/>
<path d="M112.8 236.2Q114.0 237.8 114.3 239.4"/>
<path d="M112.5 237.2Q112.4 238.0 110.9 239.8"/>
<path d="M118.9 233.8Q118.4 235.3 118.2 235.9"/>
<path d="M118.9 237.0Q119.6 238.1 121.1 239.0"/>
<path d="M117.5 233.2Q117.1 235.5 116.4 236.7"/>
<path d="M120.9 233.8Q122.3 233.7 123.9 233.9"/>
<path d="M121.3 237.0Q123.5 237.5 125.4 237.9"/>
<path d="M124.0 234.2Q124.3 234.4 126.1 235.3"/>
<path d="M128.1 235.6Q128.5 237.3 130.3 238.0"/>
<path d="M125.9 234.3Q128.0 235.6 129.0 236.0"/>
<path d="M125.3 235.1Q126.5 235.3 126.2 237.0"/>
<path d="M127.4 236.8Q126.4 237.2 125.5 236.9"/>
<path d="M125.2 234.2Q124.1 234.2 123.4 234.9"/>
<path d="M127.1 233.4Q129.8 234.0 131.6 233.9"/>
<path d="M131.1 234.3Q130.9 236.1 130.8 236.5"/>
<path d="M131.8 234.7Q129.4 234.6 128.5 234.9"/>
<path d="M133.2 233.3Q134.7 235.0 134.9 236.5"/>
<path d="M144.4 235.3Q144.9 237.7 145.8 239.1"/>
<path d="M141.1 234.7Q141.9 235.1 143.7 236.5"/>
<path d="M141.1 235.3Q142.7 236.8 142.7 237.7"/>
<path d="M149.3 234.0Q149.9 234.6 149.9 235.6"/>
<path d="M146.4 233.1Q147.2 234.4 148.3 234.3"/>
<path d="M148.6 234.3Q149.7 235.0 149.4 236.1"/>
<path d="M148.8 236.6Q147.8 236.7 147.3 237.1"/>
<path d="M145.4 237.4Q146.4 238.3 147.4 240.7"/>
<path d="M147.0 234.2Q148.1 233.6 148.9 234.4"/>
<path d="M151.6 235.1Q151.8 235.7 151.3 237.0"/>
<path d="M153.6 236.3Q154.2 237.1 155.5 237.3"/>
<path d="M152.0 234.9Q150.7 235.1 150.0 235.8"/>
<path d="M91.1 238.2Q92.9 238.8 94.5 238.5"/>
<path d="M94.9 239.5Q93.3 241.6 92.7 243.2"/>
<path d="M93.3 242.8Q92.5 242.6 91.3 243.7"/>
<path d="M97.1 240.0Q98.2 240.2 99.7 240.5"/>
<path d="M96.4 238.8Q96.3 240.5 97.3 241.6"/>
<path d="M96.2 238.5Q96.3 239.8 97.5 240.9"/>
<path d="M98.5 240.8Q97.9 241.2 97.6 242.0"/>
<path d="M95.3 240.0Q96.9 240.2 98.3 240.5"/>
<path d="M96.6 239.3Q98.5 239.5 99.2 239.5"/>
<path d="M101.3 241.3Q102.7 242.9 103.7 242.9"/>
<path d="M101.8 240.9Q100.1 241.4 98.1 241.6"/>
<path d="M102.1 240.1Q104.0 241.4 104.6 243.1"/>
<path d="M109.5 238.2Q110.6 238.6 112.3 239.4"/>
<path d="M109.9 238.7Q111.1 238.9 111.7 240.0"/>
<path d="M105.0 240.7Q105.4 242.0 105.7 242.8"/>
<path d="M107.7 241.1Q108.1 242.8 107.0 245.0"/>
<path d="M106.7 242.4Q108.1 244.2 108.8 245.5"/>
<path d="M109.8 242.1Q111.3 243.0 112.8 243.7"/>
<path d="M111.8 239.4Q110.3 240.1 109.7 241.6"/>
<path d="M111.6 238.9Q110.9 239.1 111.5 240.8"/>
<path d="M110.5 241.5Q112.3 242.0 113.2 242.5"/>
<path d="M115.8 242.3Q114.7 242.7 114.3 243.0"/>
<path d="M119.0 240.0Q118.6 240.6 117.6 241.7"/>
<path d="M116.7 241.8Q115.0 242.6 113.2 243.7"/>
<path d="M123.5 241.1Q121.3 241.9 120.2 243.1"/>
<path d="M123.3 239.2Q124.1 240.3 124.6 240.0"/>
<path d="M124.9 238.7Q124.3 239.6 123.3 241.0"/>
<path d="M129.7 242.9Q130.9 242.5 133.3 243.5"/>
<path d="M126.4 241.7Q125.2 240.9 124.6 241.7"/>
<path d="M127.7 240.4Q128.7 242.1 128.7 242.7"/>
<path d="M66.4 245.0Q66.5 246.6 65.0 248.5"/>
<path d="M68.5 245.7Q67.2 245.7 66.9 246.9"/>
<path d="M69.7 244.3Q69.4 244.4 69.7 246.1"/>
<path d="M72.8 243.7Q71.9 244.8 71.9 245.9"/>
<path d="M71.8 244.3Q73.3 244.1 73.5 244.6"/>
<path d="M70.4 243.9Q70.0 246.7 70.6 248.4"/>
<path d="M92.4 245.1Q90.6 245.9 90.2 246.6"/>
<path d="M93.3 246.1Q95.3 248.6 96.1 249.4"/>
<path d="M92.2 247.2Q90.8 247.4 90.9 248.7"/>
<path d="M95.6 243.4Q96.1 245.1 97.2 246.8"/>
<path d="M95.1 244.1Q94.3 244.6 93.5 244.2"/>
<path d="M99.0 246.7Q100.1 249.0 100.2 250.4"/>
<path d="M99.9 243.5Q98.9 243.3 97.3 243.9"/>
<path d="M99.5 243.1Q99.1 244.0 99.0 245.2"/>
<path d="M98.3 247.1Q98.8 248.3 99.7 250.2"/>
<path d="M104.5 244.6Q106.1 244.5 106.9 245.3"/>
<path d="M103.7 245.7Q102.5 246.0 102.6 247.4"/>
<path d="M101.8 245.2Q103.1 244.9 104.8 245.2"/>
<path d="M102.7 247.8Q104.1 249.4 106.0 250.2"/>
<path d="M100.5 247.9Q100.6 249.9 101.5 252.2"/>
<path d="M103.5 243.9Q105.4 244.9 105.8 246.6"/>
<path d="M105.9 244.8Q105.2 244.6 104.0 244.9"/>
<path d="M108.2 244.1Q108.0 246.2 106.7 247.9"/>
<path d="M107.5 245.8Q109.7 246.5 111.3 247.2"/>
<path d="M108.3 245.1Q108.9 246.2 109.1 247.1"/>
<path d="M107.6 243.2Q107.2 244.6 106.5 245.8"/>
<path d="M109.7 243.8Q110.3 245.7 110.1 248.2"/>
<path d="M113.7 247.9Q113.7 250.7 114.9 251.9"/>
<path d="M112.5 244.2Q111.6 245.5 109.4 245.8"/>
<path d="M114.0 245.6Q113.7 245.9 112.3 245.6"/>
<path d="M116.3 247.0Q117.1 248.1 116.7 250.1"/>
<path d="M116.4 246.2Q118.4 246.6 119.5 246.9"/>
<path d="M116.2 247.0Q114.6 248.5 112.8 248.7"/>
<path d="M124.0 243.8Q123.6 244.3 124.7 245.4"/>
<path d="M124.3 247.2Q125.1 248.1 126.2 247.9"/>
<path d="M123.1 247.5Q124.8 248.2 127.4 248.5"/>
<path d="M64.4 251.6Q65.7 251.9 67.2 253.7"/>
<path d="M61.7 249.6Q61.4 251.0 60.8 251.7"/>
<path d="M60.9 248.6Q59.5 249.2 59.2 251.0"/>
<path d="M69.7 251.1Q70.9 252.3 70.6 252.9"/>
<path d="M68.7 249.8Q68.9 251.1 70.2 252.1"/>
<path d="M67.1 252.1Q67.5 254.2 67.9 254.9"/>
<path d="M66.7 251.5Q67.6 253.2 69.1 253.7"/>
<path d="M66.4 252.3Q66.4 253.3 64.9 254.7"/>
<path d="M68.7 251.0Q68.7 251.5 69.0 252.7"/>
<path d="M72.2 252.8Q73.6 253.8 74.4 255.6"/>
<path d="M72.1 248.7Q70.9 248.8 69.9 249.4"/>
<path d="M74.1 252.3Q73.0 254.4 73.2 255.3"/>
<path d="M70.4 249.8Q71.4 251.3 71.9 253.2"/>
<path d="M74.5 252.7Q76.1 252.7 77.9 253.0"/>
<path d="M72.3 249.6Q72.2 251.8 70.6 252.4"/>
<path d="M80.0 250.0Q78.8 251.7 77.0 251.7"/>
<path d="M75.3 250.3Q75.4 252.7 76.4 253.6"/>
<path d="M76.0 249.8Q77.6 249.8 78.5 251.0"/>
<path d="M80.8 251.2Q79.7 253.5 79.4 254.7"/>
<path d="M83.7 251.9Q84.2 253.0 86.4 252.9"/>
<path d="M84.7 252.5Q86.1 252.6 87.3 252.7"/>
<path d="M85.6 251.9Q85.8 253.3 87.3 254.4"/>
<path d="M85.6 248.4Q86.0 249.2 85.6 250.8"/>
<path d="M87.1 248.3Q88.3 249.1 89.3 250.1"/>
<path d="M94.3 248.5Q94.1 249.0 92.5 249.4"/>
<path d="M92.0 251.1Q89.9 251.2 88.0 252.9"/>
<path d="M90.8 252.1Q89.0 253.5 88.3 254.8"/>
<path d="M90.1 248.6Q91.7 250.9 92.7 252.1"/>
<path d="M90.2 250.1Q90.7 251.0 92.4 250.6"/>
<path d="M91.6 250.4Q91.4 252.4 89.7 254.1"/>
<path d="M97.5 252.5Q98.3 253.3 98.3 254.8"/>
<path d="M96.8 250.1Q96.8 251.4 97.0 252.7"/>
<path d="M95.2 252.2Q96.8 252.3 98.3 252.8"/>
<path d="M96.1 248.5Q96.6 249.2 97.1 250.7"/>
<path d="M98.7 250.4Q100.9 249.7 101.5 250.5"/>
<path d="M98.0 252.8Q98.4 254.0 99.3 255.8"/>
<path d="M103.0 250.9Q103.9 252.6 104.7 253.4"/>
<path d="M100.3 248.5Q101.6 249.2 101.9 250.1"/>
<path d="M104.3 250.0Q104.7 252.2 106.5 252.8"/>
<path d="M104.2 249.6Q105.7 251.5 106.3 253.0"/>
<path d="M100.3 251.8Q102.0 252.8 103.6 252.3"/>
<path d="M103.2 248.1Q101.5 247.7 99.5 248.9"/>
<path d="M108.7 250.1Q108.2 251.3 106.3 253.9"/>
<path d="M108.9 250.2Q107.9 251.0 107.0 252.1"/>
<path d="M105.6 249.6Q104.4 250.8 104.4 250.9"/>
<path d="M108.3 250.7Q108.9 251.8 110.1 251.4"/>
<path d="M107.8 252.6Q108.9 254.0 110.0 254.3"/>
<path d="M105.6 252.4Q105.6 253.0 105.8 254.0"/>
<path d="M113.4 252.6Q113.2 254.9 113.4 256.2"/>
<path d="M110.5 251.7Q111.5 252.3 113.3 253.3"/>
<path d="M110.8 249.7Q110.2 251.3 110.0 252.7"/>
<path d="M119.2 249.8Q119.6 250.9 118.4 252.6"/>
<path d="M118.5 249.2Q119.9 250.1 121.0 251.9"/>
<path d="M115.3 252.1Q115.9 254.0 116.7 255.5"/>
<path d="M62.8 257.9Q61.4 257.9 60.0 258.7"/>
<path d="M63.8 253.5Q64.2 255.5 66.1 256.8"/>
<path d="M62.8 255.8Q64.1 257.0 63.8 257.4"/>
<path d="M69.0 253.5Q67.7 254.2 67.4 254.8"/>
<path d="M68.0 253.6Q67.5 255.4 65.6 255.8"/>
<path d="M68.4 254.8Q66.3 255.7 64.8 255.4"/>
<path d="M68.6 254.3Q69.2 254.5 69.7 255.4"/>
<path d="M66.5 254.3Q67.5 254.5 69.2 255.5"/>
<path d="M66.4 255.5Q66.0 256.5 64.6 256.3"/>
<path d="M73.0 255.7Q72.3 257.5 71.0 258.0"/>
<path d="M73.9 254.3Q75.8 255.1 78.1 255.0"/>
<path d="M71.2 255.3Q72.6 257.0 72.6 258.7"/>
<path d="M72.8 254.7Q73.8 256.9 76.1 257.6"/>
<path d="M73.3 253.4Q72.5 253.0 71.6 253.9"/>
<path d="M74.9 254.5Q74.4 254.2 73.4 255.2"/>
<path d="M75.1 255.9Q73.9 256.4 71.6 256.0"/>
<path d="M77.6 253.4Q77.6 254.2 77.4 255.4"/>
<path d="M77.5 254.0Q76.6 254.4 75.8 256.2"/>
<path d="M82.4 255.8Q80.3 255.6 79.3 256.1"/>
<path d="M81.7 256.5Q80.2 257.6 77.3 257.4"/>
<path d="M84.3 257.7Q85.9 258.1 87.3 257.9"/>
<path d="M88.1 256.1Q87.2 257.0 86.3 256.4"/>
<path d="M85.2 253.6Q82.4 253.7 81.2 255.3"/>
<path d="M89.1 256.4Q89.5 258.6 88.9 259.7"/>
<path d="M85.0 253.3Q83.8 254.5 81.5 256.0"/>
<path d="M86.7 254.7Q88.2 255.0 90.5 254.9"/>
<path d="M87.6 254.7Q86.5 256.5 86.1 257.1"/>
<path d="M90.9 253.7Q92.4 254.5 92.9 255.8"/>
<path d="M91.2 256.3Q91.8 258.0 93.3 258.5"/>
<path d="M90.9 254.2Q92.0 255.4 92.4 256.2"/>
<path d="M99.0 255.7Q100.4 255.7 102.6 256.6"/>
<path d="M97.1 257.9Q98.2 259.9 98.1 260.3"/>
<path d="M96.9 253.7Q95.2 255.3 93.9 256.0"/>
<path d="M96.9 254.4Q96.3 256.7 95.8 258.0"/>
<path d="M95.1 255.5Q96.0 255.7 95.7 257.1"/>
<path d="M96.0 257.4Q93.6 258.3 91.8 257.9"/>
<path d="M100.7 256.6Q99.1 257.0 98.7 256.9"/>
<path d="M104.4 256.6Q102.8 256.3 101.6 257.1"/>
<path d="M101.4 257.7Q102.1 257.2 103.4 258.2"/>
<path d="M101.5 253.9Q103.0 254.6 104.4 255.1"/>
<path d="M103.8 255.6Q102.5 255.1 102.1 255.9"/>
<path d="M101.5 256.8Q99.5 256.9 98.6 257.5"/>
<path d="M107.8 254.5Q106.0 256.0 104.3 257.1"/>
<path d="M109.2 255.3Q111.8 255.8 112.8 257.8"/>
<path d="M108.8 255.0Q109.3 255.5 110.8 255.3"/>
<path d="M106.1 253.1Q107.6 254.6 109.1 255.6"/>
<path d="M107.3 253.9Q107.8 253.6 109.7 254.0"/>
<path d="M108.1 254.8Q107.9 256.3 108.4 258.2"/>
<path d="M114.4 255.9Q114.8 257.1 115.2 258.9"/>
<path d="M114.6 254.2Q113.2 254.0 110.6 255.0"/>
<path d="M112.5 257.9Q113.5 258.3 113.8 259.5"/>
<path d="M112.9 253.8Q111.1 254.3 110.6 254.2"/>
<path d="M111.7 255.8Q111.8 257.7 111.8 260.1"/>
<path d="M110.0 255.5Q111.3 256.6 112.1 257.9"/>
<path d="M115.4 255.5Q116.3 256.8 115.6 258.9"/>
<path d="M117.2 253.4Q116.8 254.5 115.4 254.7"/>
<path d="M116.3 257.5Q116.3 259.6 116.2 260.3"/>
<path d="M122.4 255.4Q123.7 256.8 124.9 258.6"/>
<path d="M121.0 254.1Q120.1 255.7 117.6 256.0"/>
<path d="M123.4 257.0Q122.7 258.0 121.0 260.1"/>
<path d="M64.1 259.5Q64.8 261.0 67.1 262.5"/>
<path d="M61.7 262.0Q61.7 264.2 60.3 265.9"/>
<path d="M60.3 261.3Q63.0 261.8 64.5 262.8"/>
<path d="M65.9 261.5Q64.5 262.4 62.7 264.5"/>
<path d="M68.6 258.3Q67.3 259.7 65.2 259.8"/>
<path d="M67.8 262.7Q67.0 263.8 66.6 265.4"/>
<path d="M65.1 258.8Q64.5 259.9 63.4 260.1"/>
<path d="M68.5 260.6Q68.6 261.8 69.7 262.5"/>
<path d="M68.4 262.7Q70.2 264.2 70.6 266.4"/>
<path d="M74.8 261.1Q72.6 261.0 71.0 261.5"/>
<path d="M72.6 260.4Q74.7 260.6 76.7 260.9"/>
<path d="M73.7 259.2Q74.6 259.9 76.4 261.1"/>
<path d="M75.3 258.3Q76.7 259.9 76.7 261.0"/>
<path d="M77.1 260.0Q78.9 260.4 79.2 262.0"/>
<path d="M77.2 261.4Q76.2 263.2 74.8 263.6"/>
<path d="M84.5 259.3Q84.3 261.0 83.9 263.7"/>
<path d="M83.8 258.3Q84.9 259.4 86.6 259.7"/>
<path d="M83.6 259.6Q82.7 260.7 81.1 261.9"/>
<path d="M87.2 258.5Q88.0 260.0 87.5 262.9"/>
<path d="M85.4 259.3Q84.0 260.4 83.7 261.7"/>
<path d="M87.9 261.7Q88.7 263.6 88.9 265.0"/>
<path d="M85.2 261.6Q86.0 261.1 86.8 262.2"/>
<path d="M85.4 260.0Q86.2 261.4 85.5 261.8"/>
<path d="M87.4 260.9Q88.0 262.5 89.9 264.7"/>
<path d="M91.1 262.3Q90.9 264.3 91.0 265.1"/>
<path d="M91.3 262.0Q90.2 263.0 89.6 264.2"/>
<path d="M92.3 259.6Q91.4 261.3 91.2 262.1"/>
<path d="M92.3 260.4Q90.7 261.5 89.6 261.4"/>
<path d="M94.9 261.9Q95.8 263.3 96.0 265.3"/>
<path d="M93.6 262.7Q92.7 264.5 92.0 265.8"/>
<path d="M96.1 261.9Q95.6 264.4 95.6 266.3"/>
<path d="M95.1 260.1Q94.4 260.4 93.4 261.6"/>
<path d="M97.0 263.0Q98.0 264.3 100.4 265.4"/>
<path d="M99.1 262.2Q100.0 264.1 100.2 265.3"/>
<path d="M98.7 260.9Q100.1 262.3 101.3 263.5"/>
<path d="M99.9 258.7Q99.3 260.2 98.0 260.3"/>
<path d="M101.4 260.8Q100.7 262.5 101.1 263.8"/>
<path d="M104.5 261.3Q105.5 262.3 106.9 264.4"/>
<path d="M103.0 260.3Q102.9 263.3 102.6 264.8"/>
<path d="M101.8 261.8Q103.2 262.4 104.1 262.4"/>
<path d="M104.1 259.9Q105.0 260.1 105.8 261.9"/>
<path d="M101.9 261.3Q103.6 262.5 104.0 262.4"/>
<path d="M106.2 258.9Q107.5 259.6 107.9 259.5"/>
<path d="M106.3 260.4Q106.4 261.7 105.4 261.7"/>
<path d="M106.1 261.5Q105.9 262.1 104.6 263.6"/>
<path d="M112.4 259.6Q112.8 261.7 113.1 263.4"/>
<path d="M114.9 259.1Q115.7 260.9 117.5 261.3"/>
<path d="M111.7 260.2Q112.8 262.4 112.6 264.1"/>
<path d="M110.9 259.8Q110.8 261.2 109.6 261.5"/>
<path d="M111.1 259.8Q111.8 261.3 113.9 262.2"/>
<path d="M110.3 262.2Q109.4 263.1 109.9 265.4"/>
<path d="M116.8 262.9Q115.4 264.2 115.5 266.8"/>
<path d="M115.1 261.5Q116.4 262.4 117.1 262.7"/>
<path d="M116.6 260.3Q117.4 261.4 118.6 262.8"/>
<path d="M116.2 259.5Q116.5 260.2 117.3 260.6"/>
<path d="M116.3 258.6Q115.1 258.9 113.8 259.9"/>
<path d="M119.4 261.8Q119.1 263.4 118.1 265.0"/>
<path d="M122.1 260.0Q122.1 261.5 122.0 262.9"/>
<path d="M123.9 262.5Q124.2 262.2 125.1 263.5"/>
<path d="M124.0 261.1Q125.2 262.4 125.3 262.7"/>
<path d="M123.4 261.5Q122.3 262.6 121.4 263.5"/>
<path d="M124.4 263.0Q121.8 263.1 120.5 264.0"/>
<path d="M124.9 260.7Q125.4 262.0 124.7 263.1"/>
<path d="M130.0 258.4Q128.6 258.2 128.4 258.4"/>
<path d="M128.2 258.6Q127.7 261.1 127.4 262.8"/>
<path d="M128.0 260.9Q129.8 261.9 130.4 262.4"/>
<path d="M61.1 265.2Q61.0 266.7 60.7 267.7"/>
<path d="M60.1 264.1Q58.9 265.5 59.1 266.0"/>
<path d="M61.7 267.8Q61.7 268.3 61.3 269.6"/>
<path d="M69.1 266.6Q67.7 267.7 67.9 267.8"/>
<path d="M65.7 264.0Q66.7 264.8 67.7 264.2"/>
<path d="M66.6 264.3Q65.9 265.0 64.8 265.4"/>
<path d="M74.7 263.2Q74.9 264.1 74.2 265.8"/>
<path d="M73.6 263.9Q73.2 265.8 73.6 268.3"/>
<path d="M74.6 266.4Q75.2 266.2 76.6 266.8"/>
<path d="M79.2 266.5Q77.7 266.4 75.7 266.7"/>
<path d="M78.6 265.5Q79.9 265.8 81.5 266.0"/>
<path d="M75.2 263.1Q73.7 262.6 72.6 263.3"/>
<path d="M83.0 267.6Q84.2 268.8 85.5 269.2"/>
<path d="M82.8 264.2Q83.7 265.8 85.9 266.3"/>
<path d="M80.2 263.9Q80.6 266.3 80.6 268.0"/>
<path d="M88.8 266.6Q90.2 266.4 92.7 267.3"/>
<path d="M85.2 263.1Q83.3 262.9 82.7 264.1"/>
<path d="M89.2 266.0Q87.8 265.9 87.7 266.4"/>
<path d="M86.0 263.6Q86.8 264.0 88.7 265.6"/>
<path d="M87.7 264.9Q89.1 265.4 90.5 266.3"/>
<path d="M87.4 263.2Q86.7 263.4 86.6 265.1"/>
<path d="M94.4 265.9Q95.7 266.8 95.5 268.9"/>
<path d="M91.9 266.5Q93.3 267.5 93.3 269.9"/>
<path d="M91.4 264.5Q90.4 266.5 88.7 267.2"/>
<path d="M90.9 265.0Q88.6 266.6 87.5 266.7"/>
<path d="M93.7 267.3Q95.1 269.5 95.1 270.3"/>
<path d="M92.9 267.4Q91.1 268.2 88.9 267.5"/>
<path d="M95.7 265.0Q96.0 265.2 95.3 266.9"/>
<path d="M98.1 264.4Q98.5 265.7 99.9 267.2"/>
<path d="M99.3 267.9Q100.5 268.4 101.0 269.8"/>
<path d="M99.2 264.0Q98.2 264.4 98.8 266.5"/>
<path d="M95.0 264.6Q96.7 265.6 97.9 268.0"/>
<path d="M98.6 264.2Q99.3 266.7 98.8 267.8"/>
<path d="M102.1 264.6Q102.9 265.7 102.9 266.9"/>
<path d="M103.4 263.8Q101.2 265.3 100.0 266.5"/>
<path d="M100.8 263.2Q101.5 264.3 101.4 265.2"/>
<path d="M108.4 267.8Q108.5 267.9 110.1 268.2"/>
<path d="M109.1 266.4Q108.6 267.8 108.5 270.4"/>
<path d="M108.2 263.1Q108.3 263.0 109.4 264.2"/>
<path d="M112.7 263.6Q111.8 264.9 111.4 267.4"/>
<path d="M113.4 266.6Q112.0 267.8 110.4 267.8"/>
<path d="M113.4 267.9Q114.8 269.3 115.8 270.9"/>
<path d="M115.1 265.4Q116.2 266.6 117.3 267.8"/>
<path d="M115.3 263.7Q115.5 265.8 114.1 267.0"/>
<path d="M116.5 265.3Q116.2 267.9 116.4 269.2"/>
<path d="M122.4 265.0Q123.3 265.5 122.6 267.6"/>
<path d="M122.0 263.4Q120.9 264.1 121.0 265.1"/>
<path d="M123.0 266.8Q123.0 268.6 123.4 269.2"/>
<path d="M126.1 263.1Q124.1 263.0 123.3 264.1"/>
<path d="M129.5 266.7Q130.7 267.0 132.9 267.5"/>
<path d="M128.0 263.3Q126.2 264.0 125.6 263.8"/>
<path d="M65.5 268.2Q65.5 269.9 64.2 270.8"/>
<path d="M66.0 268.2Q65.2 270.3 65.1 271.0"/>
<path d="M66.0 271.2Q68.8 271.9 70.2 272.2"/>
<path d="M71.6 271.6Q69.0 272.2 67.9 272.8"/>
<path d="M70.7 270.7Q68.3 271.1 66.7 271.4"/>
<path d="M71.6 268.8Q70.0 270.1 69.0 271.6"/>
<path d="M78.5 271.6Q77.9 272.0 78.7 273.5"/>
<path d="M79.1 270.5Q78.4 271.1 78.0 272.8"/>
<path d="M79.9 271.0Q81.7 271.9 83.2 272.4"/>
<path d="M83.8 271.0Q81.7 272.1 79.8 272.7"/>
<path d="M81.9 270.1Q82.3 271.4 83.3 273.2"/>
<path d="M84.2 272.0Q83.0 273.9 82.1 275.4"/>
<path d="M86.3 269.6Q88.8 269.9 90.0 270.8"/>
<path d="M86.9 268.6Q89.1 268.7 90.0 270.1"/>
<path d="M86.3 271.8Q87.6 273.1 89.4 274.5"/>
<path d="M86.0 269.5Q86.6 269.8 86.6 271.7"/>
<path d="M88.2 272.0Q88.1 272.2 89.3 273.8"/>
<path d="M89.0 271.0Q90.5 270.8 91.8 271.2"/>
<path d="M90.2 270.1Q90.9 272.8 92.1 274.1"/>
<path d="M94.3 270.9Q95.5 271.7 98.0 272.4"/>
<path d="M90.5 268.5Q91.5 269.5 91.0 270.4"/>
<path d="M94.5 272.8Q93.2 274.4 92.0 275.2"/>
<path d="M93.3 268.8Q93.2 270.5 93.1 271.5"/>
<path d="M93.4 270.8Q91.2 271.5 90.3 273.3"/>
<path d="M95.2 268.8Q93.9 268.9 92.8 269.1"/>
<path d="M97.8 269.4Q97.4 270.7 95.9 271.0"/>
<path d="M95.0 270.7Q96.3 271.0 99.0 271.9"/>
<path d="M103.8 271.0Q103.2 271.7 102.5 273.3"/>
<path d="M102.3 269.3Q101.3 269.6 101.4 270.8"/>
<path d="M102.7 270.9Q105.4 270.7 107.1 271.0"/>
<path d="M65.8 277.1Q65.2 277.7 63.8 277.3"/>
<path d="M69.7 274.0Q70.2 275.1 71.5 274.8"/>
<path d="M69.5 275.4Q70.3 276.1 71.9 276.4"/>
<path d="M73.6 276.9Q73.8 278.1 74.2 279.7"/>
<path d="M72.3 276.4Q71.6 276.8 70.7 278.4"/>
<path d="M70.2 274.9Q69.9 275.5 70.9 276.4"/>
<path d="M79.7 277.2Q80.7 277.0 82.2 277.4"/>
<path d="M75.7 276.0Q74.0 276.0 73.4 277.2"/>
<path d="M75.1 276.8Q76.9 277.4 77.8 279.3"/>
<path d="M80.9 274.6Q79.2 275.7 78.2 277.0"/>
<path d="M81.8 275.4Q81.4 276.7 80.0 276.7"/>
<path d="M83.0 277.8Q82.8 277.5 81.0 278.2"/>
<path d="M89.0 273.6Q90.4 275.0 90.7 275.9"/>
<path d="M86.0 277.5Q83.9 277.8 83.3 278.7"/>
<path d="M86.5 275.1Q85.4 274.7 83.2 275.7"/>
<path d="M91.2 276.7Q91.1 276.9 92.3 278.6"/>
<path d="M92.1 275.7Q92.2 276.5 93.1 278.8"/>
<path d="M93.4 274.7Q93.0 275.3 93.4 277.3"/>
<path d="M96.5 274.5Q97.2 274.0 98.0 275.1"/>
<path d="M99.4 274.8Q98.9 275.7 99.9 277.8"/>
<path d="M98.9 275.8Q99.4 277.1 99.0 278.3"/>
<path d="M104.0 277.2Q102.5 277.7 100.5 278.4"/>
<path d="M102.7 275.9Q103.1 277.2 102.4 279.8"/>
<path d="M103.8 276.1Q102.4 278.1 102.5 280.1"/>
<path d="M106.9 277.7Q107.7 278.9 109.6 279.3"/>
<path d="M107.4 276.7Q107.8 277.9 109.8 280.1"/>
<path d="M108.7 277.4Q107.1 278.5 106.9 278.9"/>
<path d="M113.7 273.3Q111.4 273.6 110.6 273.9"/>
<path d="M111.7 273.5Q109.1 274.2 107.7 275.0"/>
<path d="M111.4 276.4Q112.4 276.7 113.7 277.2"/>
<path d="M117.2 276.0Q115.7 276.9 113.0 276.8"/>
<path d="M116.1 274.2Q116.5 275.7 116.6 277.6"/>
<path d="M120.0 274.6Q120.4 275.0 121.7 274.7"/>
<path d="M69.2 278.2Q70.5 279.6 70.8 279.7"/>
<path d="M66.3 278.5Q64.5 278.7 61.9 279.0"/>
<path d="M68.7 281.8Q68.7 283.3 68.7 284.1"/>
<path d="M76.6 281.2Q78.1 281.7 80.6 283.2"/>
<path d="M79.8 282.8Q78.4 283.7 75.9 283.7"/>
<path d="M77.8 278.4Q77.0 279.1 75.2 281.4"/>
<path d="M90.3 281.7Q91.2 283.7 90.5 285.8"/>
<path d="M93.4 281.3Q92.9 281.7 91.9 283.5"/>
<path d="M94.5 281.6Q92.9 282.4 92.2 283.3"/>
<path d="M98.4 280.7Q99.0 280.6 99.8 281.2"/>
<path d="M96.1 279.1Q97.3 281.1 97.1 282.6"/>
<path d="M95.1 282.3Q94.7 283.8 93.9 285.8"/>
<path d="M111.7 278.4Q111.6 279.7 110.9 279.8"/>
<path d="M113.3 281.0Q112.0 283.1 109.7 283.5"/>
<path d="M112.3 278.1Q112.3 279.9 111.1 281.3"/>
<path d="M111.8 278.0Q111.1 279.0 108.9 279.7"/>
<path d="M114.3 281.9Q113.5 281.7 111.4 281.9"/>
<path d="M110.1 279.6Q110.9 281.3 112.1 283.6"/>
<path d="M118.5 278.5Q118.6 279.7 120.0 280.7"/>
<path d="M117.1 282.0Q117.7 284.0 119.3 285.9"/>
<path d="M116.1 278.1Q117.0 279.8 118.6 281.5"/>
<path d="M117.6 279.3Q117.3 279.8 117.4 281.0"/>
<path d="M119.1 281.9Q118.7 283.6 117.1 284.5"/>
<path d="M115.3 278.7Q114.6 280.5 112.5 281.5"/>
<path d="M120.8 280.8Q119.6 283.1 119.5 283.9"/>
<path d="M122.6 279.3Q120.5 279.7 119.9 279.5"/>
<path d="M121.3 279.1Q122.0 280.7 123.2 281.8"/>
<path d="M129.5 283.0Q127.1 284.2 125.5 284.4"/>
<path d="M125.4 280.9Q127.0 280.5 127.2 281.3"/>
<path d="M128.6 280.6Q129.8 281.3 132.5 280.7"/>
<path d="M134.1 280.5Q134.5 280.5 134.4 282.0"/>
<path d="M132.6 282.6Q132.5 283.7 131.6 284.2"/>
<path d="M131.6 281.9Q131.4 282.8 131.0 284.5"/>
<path d="M131.4 282.4Q132.1 283.6 133.2 285.8"/>
<path d="M130.0 282.8Q128.6 283.7 126.8 285.9"/>
<path d="M130.8 278.2Q131.0 279.5 129.7 281.4"/>
<path d="M66.2 284.1Q66.9 284.3 67.6 284.8"/>
<path d="M66.8 287.8Q68.0 288.8 69.0 291.1"/>
<path d="M65.1 286.0Q64.7 285.9 63.6 286.7"/>
<path d="M113.4 287.2Q112.2 288.8 112.0 288.9"/>
<path d="M114.6 287.6Q114.3 289.1 114.4 289.3"/>
<path d="M110.3 284.5Q112.2 284.1 114.4 285.0"/>
<path d="M111.8 284.0Q112.4 285.0 112.5 287.3"/>
<path d="M112.7 283.3Q112.7 285.7 113.4 287.1"/>
<path d="M111.2 285.0Q110.7 285.5 110.0 285.9"/>
<path d="M118.6 287.7Q117.5 288.6 117.3 289.5"/>
<path d="M116.4 285.8Q118.0 285.5 119.8 286.8"/>
<path d="M115.6 287.7Q113.6 289.4 111.9 289.6"/>
<path d="M115.9 286.6Q114.0 286.2 113.8 287.0"/>
<path d="M115.4 287.0Q114.3 288.6 114.5 289.8"/>
<path d="M115.7 283.7Q115.7 285.8 114.7 287.0"/>
<path d="M120.7 284.5Q121.3 285.8 123.4 285.8"/>
<path d="M123.4 287.0Q124.0 289.7 123.6 291.3"/>
<path d="M124.0 284.1Q124.8 284.8 124.8 285.6"/>
<path d="M129.9 284.4Q131.1 286.9 130.8 288.5"/>
<path d="M129.4 287.6Q129.8 289.2 131.6 290.1"/>
<path d="M129.8 285.5Q130.5 286.2 132.6 286.9"/>
<path d="M130.4 285.1Q129.4 286.0 127.3 287.1"/>
<path d="M132.2 283.3Q130.8 283.7 129.7 285.2"/>
<path d="M132.3 283.3Q133.0 283.1 133.9 284.0"/>
<path d="M79.1 291.0Q77.1 291.3 76.2 292.3"/>
<path d="M79.2 290.9Q77.7 292.0 77.7 294.0"/>
<path d="M77.2 292.2Q75.2 291.8 73.9 292.8"/>
<path d="M82.8 290.0Q81.3 289.5 80.7 290.5"/>
<path d="M80.1 292.0Q78.5 292.5 78.3 292.8"/>
<path d="M81.2 291.1Q79.1 291.8 77.6 292.1"/>
<path d="M81.4 291.8Q83.1 293.9 84.3 294.8"/>
<path d="M81.7 292.8Q81.7 293.6 81.1 295.0"/>
<path d="M80.6 288.2Q79.5 289.7 79.8 290.3"/>
<path d="M85.7 291.8Q87.2 293.3 87.4 293.7"/>
<path d="M89.2 292.9Q88.7 295.1 87.8 297.0"/>
<path d="M86.6 289.9Q86.6 291.6 86.1 292.1"/>
<path d="M113.6 289.1Q114.8 289.8 116.2 289.4"/>
<path d="M112.7 290.6Q112.5 292.2 111.7 293.6"/>
<path d="M112.8 289.2Q114.7 290.4 115.4 290.2"/>
<path d="M111.5 290.9Q110.9 292.8 111.3 293.7"/>
<path d="M110.4 289.1Q110.6 289.3 111.8 290.8"/>
<path d="M112.6 288.9Q112.1 290.3 111.2 291.8"/>
<path d="M118.1 289.5Q117.8 291.6 118.5 293.0"/>
<path d="M117.9 292.9Q117.8 294.0 116.8 295.8"/>
<path d="M116.9 290.2Q115.1 292.2 114.4 292.9"/>
<path d="M74.9 295.5Q73.0 294.8 71.5 295.5"/>
<path d="M70.1 296.0Q69.5 297.1 68.0 298.5"/>
<path d="M73.7 296.0Q73.3 297.6 72.4 298.9"/>
<path d="M75.5 296.4Q75.4 297.5 73.8 298.6"/>
<path d="M75.8 295.6Q76.9 295.9 76.7 297.4"/>
<path d="M78.6 293.9Q77.8 296.7 78.3 298.3"/>
<path d="M80.0 297.9Q78.9 298.2 77.3 298.7"/>
<path d="M80.8 294.8Q80.6 296.9 81.6 298.8"/>
<path d="M82.4 295.8Q80.8 297.5 79.7 297.8"/>
<path d="M83.0 294.4Q82.0 296.6 82.4 298.4"/>
<path d="M82.4 294.4Q83.3 294.8 84.4 295.5"/>
<path d="M83.0 294.4Q82.9 296.2 81.9 297.1"/>
<path d="M86.2 297.9Q85.6 299.5 85.8 300.4"/>
<path d="M87.2 296.4Q88.2 298.5 90.0 299.4"/>
<path d="M87.2 295.0Q86.9 296.6 86.5 298.0"/>
<path d="M94.7 296.7Q96.1 296.6 99.0 298.0"/>
<path d="M94.1 294.4Q95.1 295.0 96.1 294.6"/>
<path d="M90.1 293.8Q90.6 293.8 91.8 293.9"/>
<path d="M114.8 296.2Q114.0 297.2 111.9 297.7"/>
<path d="M111.2 294.9Q111.9 295.7 111.3 296.7"/>
<path d="M111.0 295.5Q110.2 295.5 109.1 296.8"/>
<path d="M71.2 298.9Q70.7 301.0 71.1 302.5"/>
<path d="M72.9 301.8Q72.5 301.7 70.4 301.8"/>
<path d="M72.5 298.9Q73.6 298.6 75.9 299.8"/>
<path d="M75.4 300.7Q76.8 301.3 77.3 302.0"/>
<path d="M75.7 301.4Q74.0 301.5 72.4 301.5"/>
<path d="M78.5 302.2Q78.1 302.3 76.8 303.6"/>
<path d="M75.6 300.5Q76.6 302.1 78.3 302.3"/>
<path d="M77.2 302.1Q76.2 302.3 74.4 302.6"/>
<path d="M77.0 298.6Q76.3 300.2 75.0 302.4"/>
<path d="M82.6 299.8Q82.5 301.6 83.9 303.4"/>
<path d="M82.6 298.7Q81.7 299.2 81.1 300.4"/>
<path d="M83.0 300.2Q82.7 301.4 81.5 302.5"/>
<path d="M80.5 300.5Q82.1 301.3 82.2 302.2"/>
<path d="M83.7 298.8Q82.9 299.0 83.0 300.5"/>
<path d="M80.1 302.5Q78.1 303.1 77.5 302.8"/>
<path d="M88.3 298.2Q87.3 299.2 87.0 299.4"/>
<path d="M88.8 299.2Q89.0 301.2 88.7 303.1"/>
<path d="M85.9 298.3Q87.4 299.1 88.5 300.1"/>
<path d="M88.2 300.8Q88.1 302.1 87.0 303.3"/>
<path d="M89.4 302.9Q88.1 304.0 86.1 304.9"/>
<path d="M86.2 298.5Q85.9 299.6 85.2 300.5"/>
<path d="M93.0 300.1Q94.2 301.6 94.8 301.8"/>
<path d="M91.6 299.6Q92.0 301.4 92.0 302.3"/>
<path d="M93.8 302.0Q92.3 303.6 91.0 305.4"/>
<path d="M98.3 299.6Q97.2 300.3 95.9 301.0"/>
<path d="M96.8 298.1Q98.5 298.6 98.7 300.3"/>
<path d="M99.5 302.9Q97.8 304.2 97.7 304.3"/>
<path d="M65.3 304.5Q64.1 305.4 61.9 305.2"/>
<path d="M65.9 305.5Q67.1 306.4 68.4 306.3"/>
<path d="M66.4 306.3Q66.8 306.9 68.5 307.3"/>
<path d="M72.9 306.6Q73.8 308.8 74.0 310.7"/>
<path d="M74.4 303.9Q75.5 305.9 76.3 306.4"/>
<path d="M73.4 303.2Q71.5 303.9 70.5 303.7"/>
<path d="M78.1 307.3Q77.9 308.3 77.8 309.5"/>
<path d="M76.8 305.9Q77.2 305.7 78.8 306.9"/>
<path d="M77.6 306.7Q78.4 308.9 78.9 310.7"/>
<path d="M76.4 307.5Q76.9 310.0 78.3 311.1"/>
<path d="M78.4 303.9Q77.6 304.4 77.1 305.4"/>
<path d="M76.7 304.8Q77.2 305.9 79.0 306.1"/>
<path d="M81.8 306.6Q82.9 309.0 82.8 310.9"/>
<path d="M84.2 307.6Q83.0 307.2 81.5 308.2"/>
<path d="M81.8 304.6Q81.9 304.7 81.3 306.1"/>
<path d="M82.1 305.4Q80.1 306.5 79.1 307.0"/>
<path d="M81.2 306.1Q81.7 307.8 82.3 310.3"/>
<path d="M81.6 307.8Q82.1 309.1 82.6 309.8"/>
<path d="M89.7 303.4Q90.6 305.3 91.6 306.6"/>
<path d="M88.4 303.5Q89.1 303.1 90.4 303.8"/>
<path d="M86.4 303.6Q88.4 303.2 89.5 303.8"/>
<path d="M85.5 306.6Q86.4 306.6 87.3 307.1"/>
<path d="M88.9 305.5Q88.1 307.4 88.7 308.1"/>
<path d="M86.9 307.1Q88.3 307.0 89.6 308.0"/>
<path d="M90.4 307.7Q88.2 308.5 86.0 308.5"/>
<path d="M93.0 305.4Q94.4 306.6 95.9 307.1"/>
<path d="M90.2 304.5Q92.0 304.8 93.8 305.8"/>
<path d="M93.9 305.6Q93.9 306.0 95.5 307.7"/>
<path d="M90.2 307.8Q89.4 308.5 87.3 309.0"/>
<path d="M93.4 303.5Q93.6 305.4 94.1 306.8"/>
<path d="M96.7 306.3Q97.8 307.2 99.1 308.1"/>
<path d="M95.3 304.2Q94.6 305.8 94.0 305.8"/>
<path d="M98.0 306.7Q96.2 308.0 94.7 309.6"/>
<path d="M103.8 303.1Q104.0 304.7 104.0 305.4"/>
<path d="M104.3 305.5Q104.1 306.9 103.3 307.0"/>
<path d="M103.1 305.5Q102.5 306.3 103.0 308.2"/>
<path d="M114.0 305.6Q116.2 306.0 117.3 306.0"/>
<path d="M110.9 307.8Q112.1 308.0 113.4 309.4"/>
<path d="M111.3 303.9Q112.3 304.6 112.7 304.7"/>
<path d="M76.3 312.8Q77.3 314.4 76.9 315.5"/>
<path d="M77.3 311.7Q75.8 313.0 75.7 313.5"/>
<path d="M78.7 311.0Q80.0 312.1 82.2 312.3"/>
<path d="M83.1 311.2Q84.7 310.9 85.6 311.8"/>
<path d="M80.2 310.1Q78.2 310.2 77.2 311.6"/>
<path d="M84.2 312.2Q84.0 312.3 82.9 313.9"/>
<path d="M80.9 309.6Q79.5 310.1 79.3 309.8"/>
<path d="M83.8 309.3Q86.5 310.5 87.8 310.3"/>
<path d="M82.8 308.4Q82.2 310.1 80.5 310.9"/>
<path d="M87.5 312.9Q87.9 314.8 87.9 315.7"/>
<path d="M87.9 312.7Q89.9 314.0 90.7 315.9"/>
<path d="M85.1 311.0Q84.4 313.4 83.5 315.1"/>
<path d="M88.8 308.8Q87.6 309.7 87.4 311.3"/>
<path d="M86.8 311.7Q85.9 313.3 86.4 314.1"/>
<path d="M88.8 312.2Q87.8 312.6 87.4 313.2"/>
<path d="M91.5 312.1Q92.0 311.9 92.7 313.0"/>
<path d="M90.1 311.0Q89.0 312.6 89.1 314.0"/>
<path d="M92.6 309.5Q93.3 309.9 94.1 310.8"/>
<path d="M92.9 311.4Q93.6 313.0 95.1 313.9"/>
<path d="M91.0 311.0Q89.8 313.1 88.4 313.8"/>
<path d="M94.9 312.0Q95.6 312.4 95.9 314.0"/>
<path d="M95.9 308.5Q96.0 310.1 94.7 310.8"/>
<path d="M97.7 309.7Q97.5 311.0 98.5 311.1"/>
<path d="M96.5 308.0Q95.6 308.0 93.9 308.2"/>
<path d="M99.8 308.4Q99.2 310.8 100.1 311.8"/>
<path d="M96.7 311.4Q96.9 312.1 98.4 311.8"/>
<path d="M99.7 312.6Q100.1 313.5 99.5 314.3"/>
<path d="M103.9 311.2Q103.1 311.5 103.5 313.1"/>
<path d="M102.2 309.4Q101.8 309.0 100.5 309.7"/>
<path d="M100.5 312.6Q101.9 313.5 103.0 314.7"/>
<path d="M106.7 308.7Q106.2 310.3 105.2 310.8"/>
<path d="M105.4 310.1Q106.5 311.6 107.3 314.0"/>
<path d="M107.3 308.1Q106.7 308.9 107.2 309.8"/>
<path d="M112.7 309.1Q112.7 309.5 112.1 311.4"/>
<path d="M114.2 310.2Q115.4 310.2 116.2 311.5"/>
<path d="M114.6 309.1Q114.7 310.7 115.0 310.8"/>
<path d="M110.9 308.9Q110.1 310.1 110.4 312.3"/>
<path d="M113.0 309.2Q115.4 309.8 116.6 309.5"/>
<path d="M114.3 309.1Q115.4 310.6 116.1 311.8"/>
<path d="M117.8 309.2Q117.7 309.9 119.0 310.4"/>
<path d="M115.4 312.4Q115.2 312.7 113.5 312.6"/>
<path d="M115.0 309.9Q114.8 310.6 116.1 312.1"/>
<path d="M80.1 315.2Q80.8 317.0 80.2 317.4"/>
<path d="M82.5 317.0Q83.8 318.5 84.2 320.4"/>
<path d="M83.7 314.8Q84.3 315.8 86.1 316.2"/>
<path d="M86.3 315.5Q85.6 316.8 83.5 317.4"/>
<path d="M88.5 316.7Q87.4 318.7 86.1 320.2"/>
<path d="M87.7 315.7Q86.1 315.9 85.4 316.1"/>
<path d="M86.6 316.6Q85.8 317.4 85.9 317.9"/>
<path d="M87.0 316.4Q87.4 318.1 87.2 318.2"/>
<path d="M85.5 316.1Q84.9 317.7 84.3 319.2"/>
<path d="M94.9 317.4Q95.6 319.8 95.7 321.2"/>
<path d="M95.0 313.4Q96.4 314.7 96.7 314.7"/>
<path d="M91.1 315.4Q89.5 316.7 87.7 316.7"/>
<path d="M94.6 313.5Q93.6 314.0 92.3 313.7"/>
<path d="M91.5 314.5Q90.4 314.4 87.8 315.7"/>
<path d="M93.1 316.7Q91.0 316.3 89.5 317.2"/>
<path d="M95.9 314.3Q95.0 314.8 95.3 316.7"/>
<path d="M98.4 317.1Q100.6 317.4 101.2 318.2"/>
<path d="M97.7 317.1Q100.2 317.6 101.8 317.4"/>
<path d="M96.7 315.5Q95.2 315.8 95.1 315.8"/>
<path d="M99.8 313.7Q101.4 314.7 102.2 315.4"/>
<path d="M98.3 313.3Q100.0 313.6 100.9 315.2"/>
<path d="M100.5 314.6Q100.3 315.1 101.1 317.0"/>
<path d="M103.2 317.8Q101.8 319.9 101.5 321.7"/>
<path d="M101.8 317.2Q102.0 319.6 100.8 320.4"/>
<path d="M100.7 315.2Q101.8 315.9 103.8 316.0"/>
<path d="M101.8 313.0Q100.5 313.4 100.0 313.7"/>
<path d="M100.3 316.9Q99.9 317.0 99.1 318.3"/>
<path d="M107.7 313.5Q108.6 314.8 109.5 315.7"/>
<path d="M109.6 314.7Q110.5 315.4 110.6 316.6"/>
<path d="M106.1 314.0Q106.5 316.4 107.0 317.8"/>
<path d="M112.4 315.9Q113.7 316.2 114.3 317.9"/>
<path d="M112.3 314.3Q112.6 315.4 113.8 316.3"/>
<path d="M110.2 314.2Q111.4 315.2 111.6 315.7"/>
<path d="M114.4 313.7Q115.5 314.9 116.5 315.0"/>
<path d="M114.2 317.3Q114.7 317.2 115.8 317.4"/>
<path d="M110.0 314.8Q111.5 315.3 113.8 316.4"/>
<path d="M115.9 317.2Q116.7 317.3 118.5 318.2"/>
<path d="M120.0 316.6Q119.9 318.3 118.2 318.5"/>
<path d="M118.2 314.1Q119.7 315.0 121.3 314.6"/>
<path d="M120.0 317.1Q121.8 317.9 123.2 320.2"/>
<path d="M116.0 317.8Q114.8 318.1 113.1 320.0"/>
<path d="M119.7 314.5Q118.5 315.6 117.3 316.5"/>
<path d="M124.6 317.2Q124.7 318.9 125.9 321.0"/>
<path d="M121.6 313.2Q122.6 314.5 122.1 314.7"/>
<path d="M122.4 313.3Q123.4 314.1 125.0 316.1"/>
<path d="M87.1 320.9Q88.4 321.8 89.6 321.9"/>
<path d="M87.0 323.0Q87.7 325.0 89.6 325.7"/>
<path d="M87.7 318.9Q85.4 320.6 84.3 321.1"/>
<path d="M94.8 319.8Q93.5 320.7 91.9 322.0"/>
<path d="M91.6 322.1Q89.2 323.6 88.2 324.8"/>
<path d="M93.5 319.1Q96.1 319.6 97.7 319.4"/>
<path d="M91.7 320.2Q91.3 321.0 90.2 321.2"/>
<path d="M92.3 322.8Q91.0 324.5 90.6 326.6"/>
<path d="M91.5 320.5Q90.5 322.6 88.3 323.6"/>
<path d="M99.9 321.7Q99.1 322.3 98.7 323.0"/>
<path d="M95.5 322.5Q95.3 323.6 96.4 324.6"/>
<path d="M96.7 322.7Q95.6 323.3 95.5 325.3"/>
<path d="M98.4 321.1Q98.3 323.2 98.5 324.1"/>
<path d="M95.3 319.2Q94.0 319.8 93.3 320.6"/>
<path d="M96.5 321.8Q98.3 322.0 99.5 322.7"/>
<path d="M103.6 319.8Q103.0 320.7 103.0 321.4"/>
<path d="M103.1 320.3Q105.2 320.1 106.2 320.7"/>
<path d="M101.0 321.1Q101.0 321.9 102.4 322.3"/>
<path d="M104.4 321.9Q104.4 323.5 103.3 325.8"/>
<path d="M101.9 322.9Q100.4 322.9 98.5 323.5"/>
<path d="M100.5 319.6Q102.0 321.0 103.0 321.9"/>
<path d="M109.6 318.0Q110.1 319.2 111.0 319.1"/>
<path d="M107.3 322.0Q108.9 322.4 109.5 323.4"/>
<path d="M108.7 321.0Q108.1 322.5 107.9 322.4"/>
<path d="M106.9 319.4Q105.6 319.4 103.6 319.4"/>
<path d="M108.1 319.9Q108.5 321.2 109.7 321.8"/>
<path d="M105.4 318.6Q105.8 321.1 105.3 323.1"/>
<path d="M113.7 319.0Q113.7 319.1 113.7 320.6"/>
<path d="M110.6 318.6Q110.8 319.2 111.9 321.2"/>
<path d="M110.6 322.7Q107.9 322.4 106.4 323.0"/>
<path d="M114.4 318.1Q116.7 319.5 117.5 319.6"/>
<path d="M114.2 319.6Q113.4 321.9 111.3 322.8"/>
<path d="M113.8 321.9Q113.1 323.7 112.2 324.2"/>
<path d="M117.9 318.1Q118.5 320.1 118.5 322.2"/>
<path d="M119.7 321.8Q121.6 322.2 122.4 324.1"/>
<path d="M119.7 320.2Q118.7 320.2 118.3 320.9"/>
<path d="M116.1 321.3Q115.4 321.7 113.3 323.4"/>
<path d="M116.4 320.0Q115.7 321.7 113.5 322.3"/>
<path d="M117.7 321.7Q116.7 323.1 115.1 323.4"/>
<path d="M124.2 318.8Q126.5 318.5 127.8 319.1"/>
<path d="M124.3 321.8Q125.4 322.5 126.0 322.8"/>
<path d="M120.8 322.5Q123.1 323.2 123.9 325.0"/>
<path d="M93.5 325.7Q92.0 325.7 90.8 326.5"/>
<path d="M94.2 324.6Q94.1 324.1 92.7 325.0"/>
<path d="M93.6 327.7Q94.4 328.4 95.4 330.5"/>
<path d="M99.2 325.5Q98.0 325.5 97.9 326.4"/>
<path d="M99.1 323.1Q100.2 323.8 101.7 323.3"/>
<path d="M99.3 324.2Q98.8 325.4 97.5 326.1"/>
<path d="M95.4 325.3Q95.8 327.1 96.0 328.1"/>
<path d="M97.0 325.6Q95.0 325.9 94.0 327.4"/>
<path d="M96.4 327.8Q97.8 330.0 97.8 331.6"/>
<path d="M101.8 326.7Q101.8 329.1 101.8 331.1"/>
<path d="M103.4 326.1Q104.7 327.3 106.1 327.9"/>
<path d="M103.9 324.0Q105.1 325.1 104.8 326.1"/>
<path d="M102.2 327.8Q100.7 328.5 99.1 330.4"/>
<path d="M101.9 323.4Q102.3 325.5 102.7 326.1"/>
<path d="M102.7 323.8Q104.2 324.6 105.7 325.7"/>
<path d="M107.5 325.0Q105.9 326.4 105.7 327.8"/>
<path d="M106.3 325.9Q107.2 328.2 106.7 329.7"/>
<path d="M108.1 325.5Q109.3 326.0 111.5 326.8"/>
<path d="M112.9 324.3Q112.2 324.2 110.1 325.6"/>
<path d="M112.3 324.6Q112.1 327.0 111.5 328.0"/>
<path d="M112.2 324.9Q110.7 326.6 110.0 327.1"/>
<path d="M116.1 323.4Q116.4 326.0 115.6 327.6"/>
<path d="M118.1 325.6Q118.6 326.9 119.3 327.1"/>
<path d="M117.8 327.9Q116.6 328.7 115.2 329.7"/>
<path d="M129.5 342.2Q131.6 343.1 133.1 344.4"/>
<path d="M128.7 340.1Q128.1 342.0 127.0 342.6"/>
<path d="M129.5 340.4Q130.4 341.5 130.7 343.8"/>
<path d="M132.5 339.4Q131.8 339.9 131.7 341.2"/>
<path d="M131.4 340.8Q130.1 342.0 128.3 342.3"/>
<path d="M132.0 340.1Q131.9 341.8 131.0 342.0"/>
<path d="M134.4 343.3Q132.8 343.8 132.3 343.9"/>
<path d="M131.7 343.9Q131.3 345.4 130.7 346.8"/>
<path d="M133.1 346.9Q132.5 348.2 130.8 349.7"/>
</g>
<path d="M22.6 245 C 24.5 243.6, 27 243.8, 28.8 245.2 L 36 248 L 42.9 250.6 L 37 251.2 L 32 251.8 C 34 256, 35.5 261, 35.3 265.3 C 35 270, 34 273, 33.6 276.3 C 35.2 279, 35.6 283, 34.3 286.5 C 32.5 291, 29 294.5, 25.6 295.8 C 23 295.5, 22.4 292, 22.6 288 L 22.6 282 C 21 279.5, 19 278, 18.4 276.3 C 15.5 272, 14 268, 14.3 264 C 14.6 260.5, 15.5 258, 17.5 255.2 C 19 253.3, 20.5 252, 21.2 250.2 C 21 248, 21.5 246, 22.6 245 Z" fill="#dcdcdc" stroke="#c4c4c4" stroke-width="0.3" filter="url(#ublur2)"/>
<path d="M17.5 256 C 15 260, 14.5 266, 17 271 M 23 286 C 23 291, 24 294, 26 295.5 C 30 294, 33 290, 34.5 285" stroke="#9a9a9a" stroke-width="0.9" fill="none" opacity="0.7"/>
<path d="M24 249 C 27 250, 30 254, 31 260 M 20 262 C 24 265, 28 268, 33 268 M 25 272 C 27 276, 30 279, 33 281" stroke="#9a9a9a" stroke-width="0.35" fill="none" opacity="0.7"/>
<g stroke="#8a8a8a" stroke-width="0.4" opacity="0.55" fill="none"><path d="M32.5 249.9L35.3 250.6"/><path d="M33.7 256.2L31.4 256.5"/><path d="M28.2 268.4L26.3 268.5"/><path d="M21.3 277.0L22.4 279.3"/><path d="M26.8 274.1L29.9 277.1"/><path d="M15.9 271.6L18.2 275.3"/><path d="M26.7 287.6L28.9 287.8"/><path d="M24.5 271.4L25.4 273.7"/><path d="M27.8 268.4L30.3 270.1"/><path d="M30.7 273.8L28.8 275.9"/><path d="M17.4 259.8L18.1 262.4"/><path d="M22.8 272.4L22.1 274.2"/><path d="M26.5 250.9L26.0 254.6"/><path d="M17.3 267.9L16.0 270.1"/><path d="M39.2 247.5L40.4 250.9"/><path d="M26.0 280.8L25.9 282.7"/><path d="M36.5 246.0L36.5 248.4"/><path d="M28.7 263.9L28.2 266.7"/><path d="M22.1 254.3L23.9 256.0"/><path d="M26.3 270.2L23.0 273.2"/><path d="M21.6 259.3L21.5 260.9"/><path d="M32.4 246.0L31.5 249.1"/><path d="M17.1 256.5L14.6 259.2"/><path d="M24.3 289.9L26.2 291.0"/><path d="M30.6 271.7L28.6 273.2"/><path d="M34.0 273.9L36.5 275.8"/><path d="M23.6 260.0L26.2 262.8"/><path d="M32.8 251.0L30.3 254.3"/><path d="M31.4 289.8L31.0 292.8"/><path d="M25.8 273.5L22.6 274.4"/><path d="M28.8 259.7L31.4 263.3"/><path d="M32.6 247.7L32.4 250.5"/><path d="M31.4 258.7L28.5 259.6"/><path d="M29.8 266.6L26.7 267.2"/><path d="M29.5 262.9L29.8 265.2"/><path d="M26.9 257.7L29.4 258.3"/><path d="M23.2 258.1L22.8 260.5"/><path d="M34.0 257.7L32.8 260.0"/><path d="M28.7 258.3L28.3 261.7"/><path d="M30.5 273.5L27.8 274.6"/><path d="M25.8 265.1L22.6 265.4"/><path d="M29.4 284.4L28.4 287.3"/><path d="M33.1 257.6L33.7 259.0"/><path d="M35.9 249.6L38.2 253.2"/><path d="M37.1 251.7L40.0 253.9"/><path d="M32.9 245.6L32.7 247.6"/><path d="M21.7 277.8L19.3 280.0"/><path d="M17.4 256.8L16.1 258.2"/><path d="M24.9 292.5L25.5 294.3"/><path d="M32.9 262.2L30.8 263.8"/><path d="M19.2 272.4L19.5 274.3"/><path d="M31.7 247.1L27.3 247.8"/><path d="M33.8 250.8L32.4 253.3"/><path d="M27.7 255.4L31.3 257.2"/><path d="M31.5 282.8L29.7 284.8"/></g>
<path d="M112 242.2 L130 241.8" stroke="#f6c9c6" stroke-width="1.2" opacity="0.6"/>
<path d="M131.5 243 C 134 241.2, 139 241.5, 143 244 C 146 246, 146.5 249, 145 250.5 C 141 250.8, 136 249, 133 247.2 C 131 246, 130.8 244.2, 131.5 243 Z" fill="#f7d3d0" opacity="0.95"/>
<g fill="#d9766f" opacity="0.85"><circle cx="133.5" cy="243.6" r="0.6"/><circle cx="136" cy="244.6" r="0.7"/><circle cx="138.5" cy="245.8" r="0.7"/><circle cx="140.8" cy="246.8" r="0.8"/><circle cx="142.8" cy="247.8" r="0.7"/><circle cx="144.5" cy="248.8" r="0.6"/><circle cx="139.5" cy="244.4" r="0.5"/><circle cx="135" cy="246" r="0.5"/><circle cx="143" cy="249.6" r="0.5"/></g>
<rect x="130.2" y="240.4" width="17.4" height="12" rx="4" fill="none" stroke="#3a2a24" stroke-width="0.8" stroke-dasharray="0.9 0.7"/>
<text x="12.2" y="346.9" font-size="5.3" style="fill:#2bb5b5;stroke:#2bb5b5">Moffitt et al. 2018, Science — 18,539 neurons</text>
<text x="12.2" y="351.9" font-size="5.3" style="fill:#f0857a;stroke:#f0857a">Hrvatin et al. 2020, Nature — 28,062 neurons</text>
<text x="150.2" y="245.9" font-size="5.1" style="fill:#2bb5b5;stroke:#2bb5b5">e13-Ghrh/C1ql1</text>
<text x="150.2" y="251.3" font-size="5.1" style="fill:#f0857a;stroke:#f0857a">e12-Adcyap1/Opn5</text>
<path d="M141.6 254 C 144.5 263, 151 270, 160.5 272.6 L 160.5 267.4 L 172.4 277.8 L 160.5 284.9 L 160.5 279 C 150 276.5, 141 268.5, 137.4 255.6 Z" fill="url(#arr)"/>
<rect x="174" y="266" width="16.4" height="8" fill="#17b3b3"/>
<rect x="174" y="274" width="16.4" height="1" fill="#d8ebe8"/>
<rect x="174" y="275" width="16.4" height="73.2" fill="#f4756b"/>
<rect x="174" y="348.2" width="16.4" height="2.4" fill="#f7a29a"/>
<path d="M190.8 265.5 H200" stroke="#222" stroke-width="0.85" fill="none"/>
<path d="M190.8 269.6 L193 269.6 L196 271 H200" stroke="#222" stroke-width="0.85" fill="none"/>
<path d="M190.8 274.2 L193 274.2 L197 277.6 H200" stroke="#222" stroke-width="0.85" fill="none"/>
<path d="M190.8 312 H200" stroke="#222" stroke-width="0.85" fill="none"/>
<path d="M190.8 348 H200" stroke="#222" stroke-width="0.85" fill="none"/>
<text x="201" y="266.6" font-size="3.9">e7-Reln/C1ql1</text>
<text x="201" y="272.1" font-size="3.9">e13-Ghrh/C1ql1</text>
<text x="201" y="278.7" font-size="3.9">e5-Adcyap1/Snhg</text>
<text x="201" y="313.1" font-size="3.9">e10-Adcyap1/Opn5</text>
<text x="201" y="349.1" font-size="3.9">e16-Adcyap1/</text>
<text x="204.3" y="352.9" font-size="3.9">Otx2os1</text>
<text x="208.3" y="212.0" font-size="7.6" font-weight="bold" style="fill:#111;stroke:#111">C</text>
<linearGradient id="tri2" gradientUnits="userSpaceOnUse" x1="0" y1="289.3" x2="0" y2="335.4"><stop offset="0" stop-color="#f8b27a"/><stop offset="1" stop-color="#f4a05a"/></linearGradient>
<linearGradient id="tri1" gradientUnits="userSpaceOnUse" x1="221" y1="0" x2="344" y2="0"><stop offset="0" stop-color="#fde2cb"/><stop offset="0.8" stop-color="#fde3cd"/><stop offset="1" stop-color="#fdece0"/></linearGradient>
<polygon points="221.60,229.20 343.40,229.20 312.18,283.20 252.31,283.20" fill="url(#tri1)"/>
<polygon points="252.31,283.20 312.18,283.20 310.33,286.40 254.13,286.40" fill="#fde8d6"/>
<polygon points="254.13,286.40 310.33,286.40 308.65,289.30 255.78,289.30" fill="#fcdcc2"/>
<polygon points="255.78,289.30 308.65,289.30 282.00,335.40 282.00,335.40" fill="url(#tri2)"/>
<line x1="270.51" y1="315.2" x2="293.68" y2="315.2" stroke="#f9cfa8" stroke-width="0.5"/>
<line x1="281" y1="255.9" x2="331.0" y2="255.9" stroke="#333" stroke-width="0.8"/>
<line x1="281" y1="285.6" x2="350.0" y2="285.6" stroke="#333" stroke-width="0.8"/>
<line x1="281" y1="289.0" x2="336.0" y2="289.0" stroke="#333" stroke-width="0.8"/>
<line x1="281" y1="303.1" x2="334.0" y2="303.1" stroke="#333" stroke-width="0.8"/>
<line x1="281" y1="326.2" x2="306.0" y2="326.2" stroke="#333" stroke-width="0.8"/>
<text x="367.8" y="257.6" font-size="4.7" text-anchor="end">All POA Neurons</text>
<text x="367.8" y="286.7" font-size="4.5" text-anchor="end">Slc17a6</text>
<text x="367.8" y="290.5" font-size="4.7" text-anchor="end">Adcyap1/Bdnf</text>
<text x="367.8" y="304.7" font-size="4.55" text-anchor="end">Torpor-TRAPed</text>
<text x="367.8" y="327.9" font-size="4.7" text-anchor="end">Grp/Ptger3/Lepr/Opn5/Tacr3</text>
<text x="337.9" y="332.9" font-size="4.5" font-weight="bold" text-anchor="middle" style="stroke-width:0.28px">(QPLOT Neurons)</text>
<text x="224.1" y="234" font-size="3.4">100%</text>
<text x="253.7" y="286.7" font-size="3.8">~25%</text>
<text x="255.6" y="290.3" font-size="3.8">~21%</text>
<text x="258.8" y="294.7" font-size="3.8">~19%</text>
<text x="272.7" y="319.4" font-size="3.6">~4%</text>
</g></svg></body></html>
